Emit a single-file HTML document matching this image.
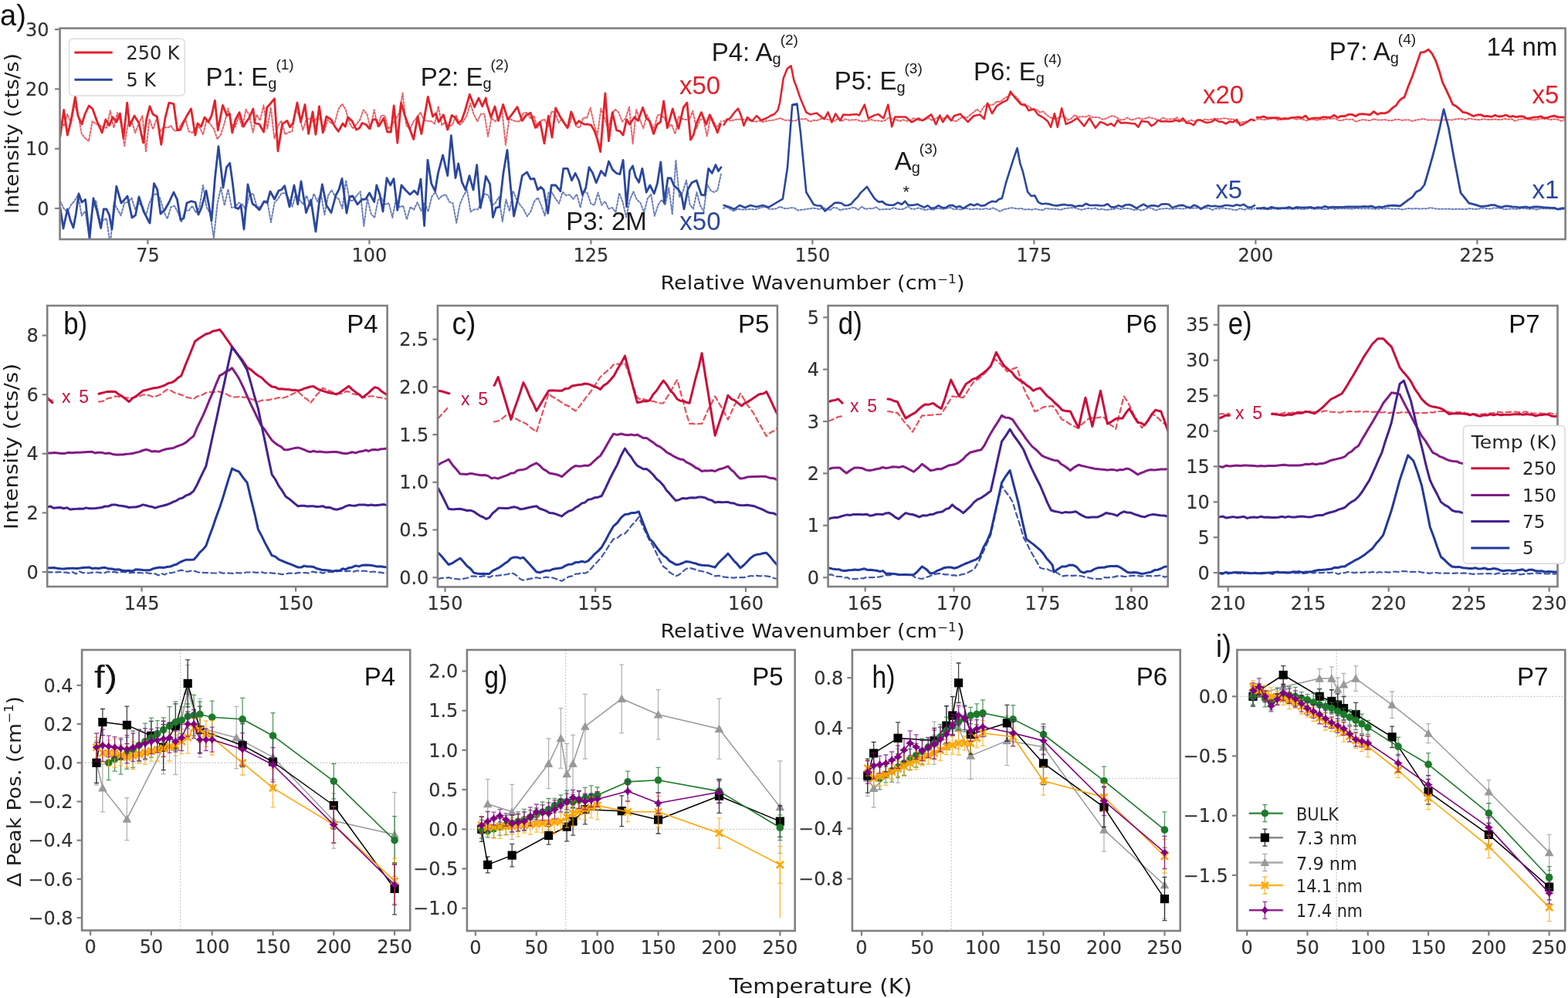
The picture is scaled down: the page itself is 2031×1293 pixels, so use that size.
<!DOCTYPE html>
<html><head><meta charset="utf-8"><title>Raman figure</title>
<style>html,body{margin:0;padding:0;background:#fff;}svg{display:block;}</style>
</head><body>
<svg width="2031" height="1293" viewBox="0 0 2031 1293"><defs><filter id="bl" x="0" y="0" width="2031" height="1293" filterUnits="userSpaceOnUse"><feGaussianBlur stdDeviation="0.75"/></filter></defs><rect width="2031" height="1293" fill="#ffffff"/>
<g filter="url(#bl)">
<defs><clipPath id="ca"><rect x="77.6" y="36.6" width="1950.0" height="273.4"/></clipPath></defs>
<g clip-path="url(#ca)">
<polyline points="78,156.7 82.6,163.4 87.2,148 91.9,159.3 96.5,135.8 101.1,148.2 105.8,173.6 110.4,179.2 115,182.8 119.6,157 124.2,160.4 128.9,162.4 133.5,164.9 138.1,165.7 142.8,143.3 147.4,165.7 152,146.1 156.6,159.3 161.2,189 165.9,158.8 170.5,156.6 175.1,172.2 179.8,160 184.4,150 189,196.1 193.6,154.4 198.2,167.5 202.9,153.5 207.5,170.2 212.1,164.4 216.8,165.7 221.4,162.9 226,169.7 230.6,168.7 235.2,160.2 239.9,153.2 244.5,170.2 249.1,172.1 253.8,165.4 258.4,164.7 263,174.3 267.6,155.3 272.2,160.5 276.9,166.9 281.5,180.1 286.1,174.1 290.8,159.2 295.4,140.5 300,161 304.6,164.3 309.2,151.1 313.8,165 318.5,141.7 323.1,149.6 327.7,171.7 332.3,148.6 336.9,156.2 341.5,136.3 346.2,166.6 350.8,139.3 355.4,179.8 360,163 364.6,156.6 369.2,174.1 373.8,171.5 378.5,170 383.1,140.8 387.7,150.7 392.3,168.7 396.9,154 401.5,154 406.2,158 410.8,152.6 415.4,154.8 420,169.9 424.6,155.1 429.2,160.1 433.8,158.5 438.5,141.2 443.1,134.6 447.7,142 452.3,158.1 456.9,166.5 461.5,161.5 466.2,155.2 470.8,142.3 475.4,148.1 480,167.2 484.6,142.3 489.2,164 493.8,149.8 498.5,149.8 503.1,167.2 507.7,162.1 512.3,154.7 516.9,147 521.5,120.6 526.2,162 530.8,167.7 535.4,157.9 540,152.2 544.6,145.6 549.2,155.5 553.8,156.8 558.5,157 563.1,160.6 567.7,137.6 572.3,162 576.9,158.3 581.5,164.2 586.2,161.6 590.8,149 595.4,162 600,157.4 604.6,149.7 609.2,133.7 613.7,148.2 618.3,157.3 622.9,147.7 627.5,147.7 632,176.8 636.6,152.8 641.2,157.1 645.8,153.4 650.3,142.6 654.9,188 659.5,153.4 664.1,155.9 668.6,157.2 673.2,157.6 677.8,146.5 682.4,145.9 686.9,153.1 691.5,150 696.1,165.7 700.7,156.3 705.2,154.5 709.8,163.9 714.4,144.3 719,145.8 723.5,158.9 728.1,153.6 732.7,162.6 737.3,163 741.8,147.5 746.4,164 751,165.3 755.6,152.5 760.1,153 764.7,139.6 769.3,160.4 773.9,174.8 778.4,140.6 783,152.4 787.6,167.4 792.2,149.6 796.7,141.6 801.3,145.7 805.9,157.4 810.5,153.2 815,138.5 819.6,186.3 824.2,142 828.8,154.9 833.3,166.3 837.9,148.7 842.5,158.4 847.1,167.3 851.6,149.5 856.2,148.1 860.8,153.2 865.4,164.8 869.9,161.2 874.5,173.6 879.1,151.3 883.7,154 888.2,155 892.8,155.4 897.4,143.7 902,166.3 906.5,155.6 911.1,153.8 915.7,176.5 920.3,151.5 924.8,163.6 929.4,163.8 934,157" fill="none" stroke="#e3202a" stroke-width="2.0" stroke-linejoin="round" stroke-linecap="round" stroke-dasharray="2.2 2.2" opacity="0.7"/>
<polyline points="937,157.2 941.7,154 946.3,156.6 951,155.5 955.6,154.4 960.3,155 964.9,155.1 969.6,155.8 974.3,156.7 978.9,157.8 983.6,156.4 988.2,158 992.9,156.8 997.5,156.1 1002.2,155.5 1006.9,154.2 1011.5,153.1 1016.2,155.8 1020.8,155.6 1025.5,156.5 1030.1,156.5 1034.8,153.7 1039.5,154.6 1044.1,153.9 1048.8,157.7 1053.4,155.7 1058.1,156.1 1062.7,154.3 1067.4,153.6 1072.1,154.8 1076.7,155.7 1081.4,156.7 1086,153.2 1090.7,156.5 1095.3,154.3 1100,155.7 1104.6,155.3 1109.3,155 1113.9,156.6 1118.6,157.3 1123.2,156.3 1127.9,154.7 1132.5,156.4 1137.1,156.3 1141.8,157.1 1146.4,156 1151.1,152.6 1155.7,154.1 1160.4,154.7 1165,157 1169.6,155.1 1174.3,156.9 1178.9,155.8 1183.6,153.1 1188.2,155.3 1192.9,156.1 1197.5,155.8 1202.1,152.5 1206.8,155.8 1211.4,154 1216.1,151.2 1220.7,153.9 1225.4,151.4 1230,154.3 1234.4,156.3 1238.9,157 1243.3,153.4 1247.8,151.2 1252.2,152.7 1256.7,148.8 1261.1,145.4 1265.6,141.6 1270,145.4 1274.3,138.4 1278.6,134.9 1282.9,136.4 1287.1,135.3 1291.4,131.2 1295.7,132.2 1300,127.9 1305,125.2 1310,122.2 1315,124.6 1320,129.8 1325,137.3 1330,136.5 1334.3,139.3 1338.6,142.1 1342.9,142.3 1347.1,145.4 1351.4,144.5 1355.7,149 1360,152 1364.6,154 1369.1,153.7 1373.7,151.1 1378.3,150.2 1382.8,155.5 1387.4,153.9 1392,149 1396.6,151.8 1401.1,150.9 1405.7,151.5 1410.3,149.6 1414.8,152 1419.4,151.9 1424,152.4 1428.5,154.8 1433.1,153.4 1437.7,150.9 1442.2,150 1446.8,152.3 1451.4,155.4 1455.9,155 1460.5,152.4 1465.1,155.6 1469.7,154.4 1474.2,152.6 1478.8,154.5 1483.4,153.6 1487.9,151.9 1492.5,153.1 1497.1,154.3 1501.6,156.4 1506.2,152.3 1510.8,154.6 1515.3,154.3 1519.9,154.3 1524.5,152.2 1529.1,156.8 1533.6,156.9 1538.2,157.5 1542.8,155.5 1547.3,157.4 1551.9,155.8 1556.5,156.7 1561,154.4 1565.6,155.5 1570.2,154.5 1574.7,153.3 1579.3,154.5 1583.9,153.3 1588.4,153.4 1593,154.8 1597.6,154.4 1602.2,159.3 1606.7,158.9 1611.3,157.7 1615.9,157.2 1620.4,154.3 1625,156" fill="none" stroke="#e3202a" stroke-width="2.0" stroke-linejoin="round" stroke-linecap="round" stroke-dasharray="2.2 2.2" opacity="0.7"/>
<polyline points="1628,154.6 1632.6,154.4 1637.2,155.3 1641.8,154.3 1646.3,153.8 1650.9,153.3 1655.5,155.5 1660.1,154.7 1664.7,154.2 1669.3,153.9 1673.9,152.4 1678.4,154.9 1683,153.9 1687.6,154.8 1692.2,156.3 1696.8,154.5 1701.4,154.7 1706,155.8 1710.6,154.7 1715.1,155 1719.7,153.7 1724.3,154 1728.9,153.3 1733.5,155.9 1738.1,156.1 1742.7,154.4 1747.2,154.8 1751.8,154.5 1756.4,157.6 1761,156 1765.6,154.9 1770.2,155.7 1774.8,156.3 1779.3,154 1783.9,155.6 1788.5,155.6 1793.1,155 1797.7,155.8 1802.3,156.2 1806.9,155 1811.4,154.7 1816,155.9 1820.6,155.2 1825.2,155.4 1829.8,157 1834.4,155.4 1839,155 1843.6,153.7 1848.1,155.4 1852.7,155.4 1857.3,155.6 1861.9,155.6 1866.5,155.8 1871.1,155.3 1875.7,155.2 1880.2,155.6 1884.8,154.4 1889.4,154.1 1894,154.1 1898.6,155.2 1903.2,153.3 1907.8,154.6 1912.3,154.9 1916.9,155.4 1921.5,154 1926.1,155.1 1930.7,155.1 1935.3,154.5 1939.9,155.1 1944.4,154.9 1949,154 1953.6,154.7 1958.2,154.2 1962.8,156.9 1967.4,154.8 1972,154.4 1976.6,153.6 1981.1,155 1985.7,155.4 1990.3,155.1 1994.9,153.7 1999.5,154 2004.1,154 2008.7,155.2 2013.2,154.2 2017.8,155 2022.4,156.8 2027,155" fill="none" stroke="#e3202a" stroke-width="2.0" stroke-linejoin="round" stroke-linecap="round" stroke-dasharray="2.2 2.2" opacity="0.7"/>
<polyline points="78,260.7 82.6,270.1 87.2,274.7 91.9,265.7 96.5,260.1 101.1,252.4 105.8,279.5 110.4,273.5 115,302.9 119.6,271.7 124.2,259.7 128.9,284.1 133.5,285.6 138.1,283.2 142.8,318.1 147.4,263 152,270.7 156.6,279.3 161.2,262.7 165.9,261.9 170.5,256.6 175.1,271.1 179.8,263.1 184.4,266.7 189,279.6 193.6,262.8 198.2,252.9 202.9,251.1 207.5,257.2 212.1,274.1 216.8,283.3 221.4,268.3 226,266.8 230.6,275.4 235.2,287.2 239.9,272.6 244.5,272.8 249.1,266.8 253.8,275.5 258.4,268.6 263,240 267.6,268.8 272.2,276.2 276.9,308.4 281.5,264.6 286.1,243 290.8,266.2 295.4,245 300,269 304.6,268.4 309.3,262.7 313.9,264.8 318.5,271.8 323.1,252.3 327.8,250.8 332.4,266.6 337,269.2 341.7,260.8 346.3,260.2 350.9,288 355.6,262.4 360.2,257.6 364.8,250.4 369.4,250.1 374.1,257.6 378.7,267.6 383.3,251 388,258.8 392.6,264.6 397.2,253.5 401.9,267 406.5,250.9 411.1,261.1 415.7,250.8 420.4,278.3 425,253.3 429.6,246.2 434.3,254.9 438.9,258.1 443.5,270.2 448.1,233.6 452.8,259.6 457.4,260.1 462,253.5 466.7,248.1 471.3,292.9 475.9,257 480.6,277.1 485.2,282 489.8,258.9 494.4,256.8 499.1,264.8 503.7,263.2 508.3,282 513,257.3 517.6,268.6 522.2,266.5 526.9,284.3 531.5,268.1 536.1,271.7 540.7,262.1 545.4,273.2 550,262.5 554.6,274.2 559.2,255.1 563.8,248.8 568.3,257.9 572.9,253.3 577.5,252.2 582.1,261.6 586.7,263.5 591.2,288.8 595.8,264.2 600.4,253.6 605,245.8 609.6,274.3 614.2,271.3 618.8,271.3 623.3,263.3 627.9,251 632.5,252.9 637.1,266.3 641.7,263 646.2,255.1 650.8,287.1 655.4,258.5 660,273.7 664.6,247.4 669.2,258.7 673.8,265.6 678.3,271.4 682.9,280.4 687.5,273.8 692.1,260.8 696.7,256.1 701.2,266.4 705.8,279.6 710.4,249.6 715,249.4 719.6,257.5 724.2,263.6 728.8,248.6 733.3,253.2 737.9,252.3 742.5,257.9 747.1,251.7 751.7,269 756.2,247.4 760.8,250.3 765.4,263.9 770,265.5 774.6,249.5 779.2,265.7 783.8,260.9 788.3,270.6 792.9,269 797.5,275.1 802.1,250 806.7,262 811.2,281.4 815.8,259.2 820.4,248.2 825,258.9 829.6,262.9 834.2,275.5 838.8,257.1 843.3,251.7 847.9,280 852.5,265.5 857.1,258.8 861.7,265.9 866.2,243.2 870.8,277.7 875.4,207.5 880,255.4 884.5,248.5 889,233.6 893.5,264.7 898,270.6 902.5,249.1 907,266.3 911.5,274 916,238.7 920.5,246.8 925,249 929.5,246.2 934,225" fill="none" stroke="#2b469e" stroke-width="2.0" stroke-linejoin="round" stroke-linecap="round" stroke-dasharray="2.2 2.2" opacity="0.7"/>
<polyline points="937,269.9 941.6,268.2 946.2,271.5 950.8,273.3 955.4,270.6 960,271.5 964.6,271.5 969.2,271 973.8,271 978.4,271.4 982.9,269.9 987.5,268.5 992.1,268.3 996.7,270.9 1001.3,270.7 1005.9,270.2 1010.5,267.7 1015.1,269.9 1019.7,270.2 1024.3,269.2 1028.9,269.4 1033.5,272.6 1038.1,271.7 1042.7,271.2 1047.3,270.6 1051.9,269.8 1056.5,269.9 1061.1,271.1 1065.7,269.4 1070.3,270.1 1074.8,272.2 1079.4,269 1084,269.5 1088.6,272.4 1093.2,270.8 1097.8,270.6 1102.4,269.5 1107,268.9 1111.6,271.8 1116.2,267.7 1120.8,271 1125.4,269.9 1130,270.4 1134.6,268.3 1139.2,271.5 1143.8,271.2 1148.4,270.9 1153,271.1 1157.6,269.1 1162.2,270.8 1166.7,271.2 1171.3,270.6 1175.9,267.2 1180.5,270.6 1185.1,270.8 1189.7,269.5 1194.3,270.8 1198.9,272.1 1203.5,270.6 1208.1,272.2 1212.7,270.2 1217.3,270 1221.9,271.1 1226.5,269.8 1231.1,269 1235.7,271.2 1240.3,270.8 1244.9,271.5 1249.5,269.9 1254.1,270.4 1258.6,271.4 1263.2,270.4 1267.8,270.7 1272.4,271.2 1277,270.1 1281.6,271.2 1286.2,269.4 1290.8,271.5 1295.4,273.9 1300,271.2 1304.6,270.5 1309.2,269.2 1313.7,269.7 1318.3,270.6 1322.9,270.1 1327.5,271.5 1332,271.1 1336.6,271.7 1341.2,270.6 1345.8,271.7 1350.4,272.3 1354.9,269.8 1359.5,270.7 1364.1,270.7 1368.7,270.7 1373.2,272 1377.8,270.4 1382.4,269.8 1387,269.3 1391.5,269.1 1396.1,270.6 1400.7,271.7 1405.3,270.7 1409.9,269.8 1414.4,270.5 1419,269.6 1423.6,271.7 1428.2,270.7 1432.7,272.2 1437.3,271.3 1441.9,271.3 1446.5,269.5 1451.1,271.1 1455.6,270.1 1460.2,269.9 1464.8,270.7 1469.4,272.3 1473.9,271 1478.5,272.7 1483.1,271.2 1487.7,269 1492.3,269.9 1496.8,272.5 1501.4,271 1506,270.5 1510.6,269.9 1515.1,270.6 1519.7,270.8 1524.3,269.9 1528.9,270.3 1533.5,270.6 1538,269.2 1542.6,270 1547.2,269.5 1551.8,269.6 1556.3,269.3 1560.9,269.6 1565.5,269.4 1570.1,272.1 1574.6,270 1579.2,270.6 1583.8,269.3 1588.4,270.3 1593,270.6 1597.5,271.9 1602.1,272 1606.7,269.7 1611.3,272 1615.8,270.2 1620.4,271.4 1625,270" fill="none" stroke="#2b469e" stroke-width="2.0" stroke-linejoin="round" stroke-linecap="round" stroke-dasharray="2.2 2.2" opacity="0.7"/>
<polyline points="1628,270.3 1632.6,270.4 1637.2,271.1 1641.8,269.6 1646.3,270.9 1650.9,270.2 1655.5,271 1660.1,270.3 1664.7,270.4 1669.3,270.7 1673.9,270.2 1678.4,270.5 1683,270.4 1687.6,271.2 1692.2,270.6 1696.8,269.7 1701.4,270.7 1706,270.6 1710.6,270.5 1715.1,271.1 1719.7,271 1724.3,269.7 1728.9,271.1 1733.5,270.2 1738.1,270.2 1742.7,270.2 1747.2,270.4 1751.8,270.8 1756.4,269.8 1761,270.3 1765.6,270.1 1770.2,270.3 1774.8,270.2 1779.3,270.7 1783.9,270.8 1788.5,269.9 1793.1,270.5 1797.7,269.6 1802.3,270.5 1806.9,270.7 1811.4,270.3 1816,271.6 1820.6,270.6 1825.2,270 1829.8,270.6 1834.4,270 1839,270.6 1843.6,270.3 1848.1,270.4 1852.7,269.1 1857.3,270 1861.9,270.8 1866.5,270.8 1871.1,270.8 1875.7,270.5 1880.2,270.9 1884.8,270.9 1889.4,270.7 1894,271 1898.6,270.9 1903.2,270.2 1907.8,270.7 1912.3,270.9 1916.9,270.3 1921.5,269.5 1926.1,270.3 1930.7,270.6 1935.3,269.2 1939.9,269.7 1944.4,269.9 1949,271.2 1953.6,270.8 1958.2,270.3 1962.8,270.9 1967.4,270.6 1972,269.7 1976.6,270.2 1981.1,270.9 1985.7,270.3 1990.3,271.6 1994.9,270.2 1999.5,270.2 2004.1,270.3 2008.7,270.5 2013.2,270.4 2017.8,271.1 2022.4,271.5 2027,270.5" fill="none" stroke="#2b469e" stroke-width="2.0" stroke-linejoin="round" stroke-linecap="round" stroke-dasharray="2.2 2.2" opacity="0.7"/>
<polyline points="78,176.5 82.7,142.5 87.4,175 92,156.4 97.4,125.5 101,150 106,161 110,148 115.2,137 119.9,141 126,158 132.2,171.9 136.9,154.9 141.5,162.6 146,151.8 151,158 155.4,147 160,178.8 164.7,133.2 167.8,163.4 174,150 180,159.5 185.6,185 189.8,154.3 194,137.8 198,148 203.4,151 208.8,187.3 213.9,153.4 218.9,133.2 225,134.7 229.7,168.8 233.6,168.2 237.4,159.5 242,150 247.5,141 252.9,175 256,160 260.6,164 265,152 269.9,158 274,150 278.4,130.1 282.3,168.8 288.5,136.3 294,150 297.4,147.2 300.8,171.9 305,155 310,145.6 315.5,164 319,157.8 322.5,153.3 327.9,141 330,159.5 336,161 341.6,171 345.8,139.3 350,134.7 355.5,127.8 360,195.8 365.6,161 371.8,156.4 375.6,164.6 379.5,159.5 385,133 389.6,158 395,135.5 399.6,173.4 405,144.8 408.9,174.2 413.5,137.8 418.2,171.9 422.8,151 429,154.9 433.6,163.8 438.3,170.3 444,160 447.3,164 450.6,151.8 456.1,156.9 461.5,168 465.4,166.1 469.2,159.5 473.9,161.3 478.5,166.5 483,154.9 486.9,154.7 490.9,163.4 497,153.3 501.7,171 506.3,171 510.2,137 514.8,185 519.5,133.2 524,148.7 530,165 535.7,180.4 541,151 545.8,173.4 550,150.3 554.3,125.5 560.5,151 564.4,147 568.2,158 574.4,148.7 579.8,168 585.2,149.4 589.5,152.3 593.7,159.5 598,155.9 602.2,144 608.4,122.4 614.6,138.6 620,127 624.7,137.8 629.3,127 630,133 636,152 641,138 645.5,156.4 651.7,135.5 657.8,154.9 663.9,147.1 670,138.6 676.4,156.4 681.8,148.9 687.2,146.3 693.4,165.3 699.6,158 705,185.8 710.4,150.2 715,178 719.7,140 725.9,151.8 730.5,159.1 735.2,165.7 739.8,144.8 746,161 749.9,156.7 753.7,159.5 757.6,161.2 761.5,161 765.8,162.2 770,169.6 773.9,180.8 777.7,196.6 783.9,120.8 788.5,182.7 793.2,145.6 798.6,168.8 802.9,169.8 807.1,175 811.7,154.9 815.6,161 821.8,151.8 826.4,156.4 832.6,139.4 837.3,153.3 841.1,156.4 846.6,173.4 851.2,161 855.5,158.1 859.7,130.9 864.3,165.7 867.8,153.5 871.3,141 875.1,154.8 879,166.5 885.2,139.4 889.9,133.2 894.5,181.2 898.4,174.4 902.2,159.5 908.4,145.6 914.6,161 919.3,148.7 925.4,161 929.3,171.9 933.2,161" fill="none" stroke="#e3202a" stroke-width="2.8" stroke-linejoin="round" stroke-linecap="round" />
<polyline points="937.6,161.6 942,155 946,153 951,146 956,140.6 960,150 963.4,162.8 968,152 974,157 980,150 986,156 993,153 998,150 1002.8,148 1007.4,143 1010,133.2 1014.8,101.2 1019.7,89 1024.6,85.2 1028.3,103.7 1032,113.5 1037,128.3 1044.3,145.6 1049.8,148.4 1057.7,146.4 1067.6,154.3 1072.5,145.4 1077.4,158.3 1082.3,147.4 1088.3,156.3 1092.2,148.4 1099,148.9 1109,147.9 1112.9,149.4 1119.8,135.6 1124.7,153.3 1132.6,149.4 1137.5,147.9 1144.4,153.3 1150.3,135.6 1155.2,164.2 1159.2,151.4 1165,151.4 1173,151.4 1180.8,158.3 1189.7,153.3 1194.6,156.3 1206.4,148.4 1212.3,161.2 1217.3,149.4 1221.2,158.3 1227.1,149.4 1232,156.3 1236,150 1243.8,147.6 1253.6,158 1261.5,150 1269.4,148.6 1274.8,154 1279.2,133.8 1285,147 1291,137.3 1298,133 1304.8,129.4 1308.8,118.6 1315,127 1322.6,135.3 1327.5,135.3 1332.4,143.2 1339.3,141.2 1344.2,148.1 1352,153 1357,157 1361,164.8 1365.9,147.1 1369.8,164.8 1375.2,140.2 1380.7,160.9 1387.6,158 1395.4,153 1404.3,163.4 1411.2,153 1419,165.8 1425,158 1430,159.6 1434.4,162.3 1438.9,160.1 1443.3,163.5 1447.8,155.6 1452.2,159.5 1456.7,158.9 1461.1,159.3 1465.6,160 1470,160.2 1474.3,164.7 1478.6,156.7 1482.9,157.4 1487.1,158.1 1491.4,163.1 1495.7,160.7 1500,155.7 1504.6,157.6 1509.2,157.1 1513.8,157.5 1518.5,157.3 1523.1,155.5 1527.7,157.4 1532.3,153.3 1536.9,159.4 1541.5,159.5 1546.2,162.1 1550.8,155.5 1555.4,155.6 1560,158.2 1564.6,158.9 1569.3,157.9 1573.9,154.8 1578.6,157.5 1583.2,157.9 1587.9,160.4 1592.5,157.6 1597.1,158.2 1601.8,154.9 1606.4,162.4 1611.1,160.5 1615.7,158 1620.4,154.7 1625,156" fill="none" stroke="#e3202a" stroke-width="2.5" stroke-linejoin="round" stroke-linecap="round" />
<polyline points="1628,152.1 1632.5,152.1 1637,150.9 1641.5,153.1 1646,152.6 1650.5,152.7 1655,152.6 1659.5,154.1 1664,153.5 1668.5,153.9 1673,152.3 1677.5,152.2 1682,151.7 1686.5,152.6 1691,150 1695.5,154.7 1700,153.1 1704.7,152.8 1709.3,153.2 1714,151.6 1718.7,151.9 1723.3,152.1 1728,149.2 1732.7,152.4 1737.3,150.3 1742,150.5 1746.7,148.3 1751.3,148.4 1756,150.5 1760.7,147.8 1765.3,147.6 1770,148.2 1774.7,148.8 1779.3,144.4 1784,148.2 1788.7,146.5 1793.3,146.8 1798,145.2 1804.6,139.1 1808.3,136.7 1812,131 1815.5,127.8 1819,125.9 1824.2,111.7 1829.4,98.7 1834.7,83.6 1840,68.2 1845.2,67.3 1850.3,64.1 1854.9,69.4 1859.5,78.3 1864,91.2 1868.6,106.8 1873,115.8 1877.3,125.2 1881.7,135.2 1886.1,137.6 1890.4,141.1 1894.8,145.4 1899.3,146.1 1903.9,148.2 1908.5,150.5 1913,149 1917.7,148.6 1922.4,150.6 1927.1,150.5 1931.8,151.3 1936.5,149.4 1941.2,151 1945.9,150.5 1950.6,149 1955.3,151.3 1960,150.5 1964.5,151.7 1968.9,150.7 1973.4,151 1977.9,153.6 1982.3,153 1986.8,151.9 1991.3,151.9 1995.7,150.7 2000.2,153 2004.7,152.4 2009.1,150.8 2013.6,150 2018.1,151.9 2022.5,151.8 2027,152" fill="none" stroke="#e3202a" stroke-width="2.8" stroke-linejoin="round" stroke-linecap="round" />
<polyline points="78,269 82,296 87.4,271 91,285 95,295 98.5,276.5 102,251 106,262 110.6,258.5 116,309 121,257 126,275 130.7,295.6 134.3,270.8 138,271 141.5,278.6 145,297 150.8,241.5 157,263 161,259 165,254 171,282 175.5,278.8 180,255 186,274 190,281.5 194,289 199.5,237.6 203.8,245.7 208,277 213.5,271.7 219,262 225,249 229.5,258.6 234,285 238,282.6 242,263 247.5,260.7 253,262 257,278 261,269 267,247 270.5,265.6 274,286 278.5,230.7 283,189.7 289,243 293.4,216.9 297.7,211.3 301.4,237.6 305,269 308.5,270.6 312,266 316,297 321,239 327,264 330,266 336,272 342,261 346,262.8 350,248 355.5,258 361,247 364.9,245.7 368.7,240.7 375,268 381,240 385.7,264.7 390,235 396.5,275.5 402.7,259 409,300 413.2,264.3 417.4,239 422.8,266 429,275.5 435,253 439,245.7 443,231.4 449,276 452.9,254.9 456.8,253.9 463,264.7 469,258.5 473.8,257.8 478.5,250 484.7,261.6 487.8,240 491.9,251.7 496,274 501,230.6 505.6,240 510,231.4 514.8,272.4 520,240 525,246 531,252 536.5,247 541,252 545,232 549.6,292.5 554,207.4 558.8,238 563.6,247.7 567.4,224.5 573.6,201 579.8,227.6 584.4,175.7 590,230.6 593.7,212 598.4,235.9 603,246 608,227.6 613,246 617.7,213.6 622.3,269.3 625.8,251.4 629.3,228.3 634.6,238.4 638.5,281.7 642.4,269.3 647,267.8 652,223.9 657,194.3 661.3,241 665.6,280 671,256.4 676.4,227.6 682.6,223 687.2,232 691.9,231.4 696.5,246 700.4,242.2 704.2,246 709.7,276.3 714.3,240 719.7,240 725.9,247.7 729.8,218.3 735.2,218.3 740.6,233.7 745.2,224.5 749.9,234 754.5,252.3 758.8,243.4 763,216.7 767.6,223.9 772.3,236.8 778.5,221.4 783.9,227.6 788.5,209 793.5,219.9 798.6,224.5 802.9,225.7 807.1,207.4 811.7,267.8 815.6,221.4 819.5,214.9 823.3,229.1 827.6,236.2 831.9,218.3 837.3,249.2 841.9,240 847.3,250.8 851.5,237.4 855.8,209.8 860.5,262.4 865.1,230.6 869,230.8 872.8,240 879,246 882.5,251.8 886,270.9 891,245.3 896,236.8 902.2,233.7 908.4,252.3 913,253 917.7,218.3 922.3,224.5 927,213.6 930.5,221.7 934,216.7" fill="none" stroke="#2b469e" stroke-width="2.8" stroke-linejoin="round" stroke-linecap="round" />
<polyline points="937.6,266 944,268 951,271 958,266 965,269 972,266 980,268 988,266 995.4,268.6 1005,263 1013.9,257.6 1020,217 1026.2,135.7 1032.4,134.5 1037,172.6 1044.3,249 1054,265 1058,266.3 1063.3,266.6 1068.6,273.5 1073.9,268.9 1077.6,265.9 1081.2,262.7 1085.5,262.6 1089.8,263.2 1094.2,266.2 1098.5,266 1102.6,264.3 1106.7,259.2 1110.8,255.4 1114.9,249.6 1118.9,245.9 1123,241.8 1128,250.1 1133,257.5 1137.9,261.6 1142.8,261.1 1147.7,264.9 1152.8,265.7 1157.8,265.7 1162.9,262.5 1168,264.8 1172.3,260.7 1176.2,265.5 1180,265.9 1184.2,265.6 1188.5,264.6 1192.8,266.8 1197,268.6 1201.6,266.3 1206.2,269.8 1210.8,269.4 1215.5,266.4 1220.1,268.9 1224.7,269.3 1229.3,266.4 1233.9,265.9 1238.5,268.6 1243.1,267.2 1247.7,270.1 1252.3,267.2 1257,264.5 1261.6,266.3 1266.2,264.3 1270.8,266.6 1275.6,266.1 1280.4,262.9 1285.2,260.8 1290,261.5 1294,258 1297.9,256.9 1302.8,237.5 1307.7,221.8 1312.7,206.2 1317.6,191.8 1321.3,211.7 1325,222.7 1331.1,248.7 1335.7,254 1340.3,253.3 1345,262.1 1349.6,264.2 1354.5,263.8 1359.4,264.4 1364.4,266 1369.3,266.4 1374,265.6 1378.6,264.9 1383.3,265.9 1388,265.7 1392.6,267.7 1397.3,266.6 1402,266.9 1406.6,263.8 1411.3,266 1416,266 1420.6,265.8 1425.3,266.5 1430,266.3 1434.7,264.3 1439.3,268.4 1444,268.4 1448.7,266.1 1453.3,268 1458,265.5 1462.7,265 1467.3,266.8 1472,269.8 1476.7,267 1481.3,264.7 1486,267.7 1490.7,266.4 1495.3,266.2 1500,267.6 1504.6,264.5 1509.3,264.3 1513.9,264.8 1518.5,269.1 1523.1,267.4 1527.8,266.1 1532.4,265.9 1537,268.1 1541.7,269.1 1546.3,265.7 1550.9,267.3 1555.6,270.8 1560.2,267.8 1564.8,266.2 1569.4,267.3 1574.1,266.8 1578.7,267.7 1583.3,267.1 1588,265.7 1592.6,266.2 1597.2,267 1601.9,265.2 1606.5,266.4 1611.1,264.7 1615.7,268.3 1620.4,268.8 1625,266" fill="none" stroke="#2b469e" stroke-width="2.6" stroke-linejoin="round" stroke-linecap="round" />
<polyline points="1628,269.8 1632.6,269.9 1637.3,269.1 1641.9,270.9 1646.6,268.3 1651.2,269.4 1655.9,270 1660.5,269.7 1665.1,269.6 1669.8,268.4 1674.4,270.4 1679.1,268.5 1683.7,268.9 1688.4,268.8 1693,268.8 1697.6,268.3 1702.3,269.8 1706.9,268.6 1711.6,269.2 1716.2,267.3 1720.8,268.8 1725.5,268.1 1730.1,268.5 1734.8,268.3 1739.4,268.4 1744.1,268 1748.7,268 1753.3,268 1758,268 1762.6,267.8 1767.3,267.4 1771.9,267.9 1776.6,267 1781.2,269 1785.8,268 1790.5,268.5 1795.1,267.2 1799.8,266.3 1804.4,266.1 1809.1,266.5 1813.7,266.9 1818.9,262.8 1824.2,258.9 1829.4,255.4 1834.6,248.4 1839.8,246 1845,239.5 1850.3,221.4 1855.6,202.6 1860.2,184.9 1864.7,166.1 1870,141.7 1876.5,166.5 1883,203 1887.5,226.4 1892,249.9 1897.3,256.3 1902.6,263.2 1907.7,264.4 1912.9,265.8 1918,267.5 1922.5,267.2 1927.1,266.6 1931.6,265.7 1936.2,265.7 1940.7,267.7 1945.2,268.3 1949.8,267 1954.3,267.1 1958.9,267.9 1963.4,268.2 1968,268.9 1972.5,268.3 1977,268 1981.6,269.1 1986.1,268 1990.7,267.8 1995.2,268.1 1999.8,268.8 2004.3,268.8 2008.8,269.3 2013.4,269.4 2017.9,271.2 2022.5,269.9 2027,269.7" fill="none" stroke="#2b469e" stroke-width="2.8" stroke-linejoin="round" stroke-linecap="round" />
</g>
<rect x="77.6" y="36.6" width="1950" height="273.4" fill="none" stroke="#808080" stroke-width="2.6"/>
<line x1="191.4" y1="310" x2="191.4" y2="316.5" stroke="#808080" stroke-width="2.2"/>
<text x="191.4" y="339" font-size="24" font-family="'DejaVu Sans', 'Liberation Sans', sans-serif" text-anchor="middle" fill="#303030" stroke="#303030" stroke-width="0.15">75</text>
<line x1="478.4" y1="310" x2="478.4" y2="316.5" stroke="#808080" stroke-width="2.2"/>
<text x="478.4" y="339" font-size="24" font-family="'DejaVu Sans', 'Liberation Sans', sans-serif" text-anchor="middle" fill="#303030" stroke="#303030" stroke-width="0.15">100</text>
<line x1="765.4" y1="310" x2="765.4" y2="316.5" stroke="#808080" stroke-width="2.2"/>
<text x="765.4" y="339" font-size="24" font-family="'DejaVu Sans', 'Liberation Sans', sans-serif" text-anchor="middle" fill="#303030" stroke="#303030" stroke-width="0.15">125</text>
<line x1="1052.4" y1="310" x2="1052.4" y2="316.5" stroke="#808080" stroke-width="2.2"/>
<text x="1052.4" y="339" font-size="24" font-family="'DejaVu Sans', 'Liberation Sans', sans-serif" text-anchor="middle" fill="#303030" stroke="#303030" stroke-width="0.15">150</text>
<line x1="1339.4" y1="310" x2="1339.4" y2="316.5" stroke="#808080" stroke-width="2.2"/>
<text x="1339.4" y="339" font-size="24" font-family="'DejaVu Sans', 'Liberation Sans', sans-serif" text-anchor="middle" fill="#303030" stroke="#303030" stroke-width="0.15">175</text>
<line x1="1626.4" y1="310" x2="1626.4" y2="316.5" stroke="#808080" stroke-width="2.2"/>
<text x="1626.4" y="339" font-size="24" font-family="'DejaVu Sans', 'Liberation Sans', sans-serif" text-anchor="middle" fill="#303030" stroke="#303030" stroke-width="0.15">200</text>
<line x1="1913.4" y1="310" x2="1913.4" y2="316.5" stroke="#808080" stroke-width="2.2"/>
<text x="1913.4" y="339" font-size="24" font-family="'DejaVu Sans', 'Liberation Sans', sans-serif" text-anchor="middle" fill="#303030" stroke="#303030" stroke-width="0.15">225</text>
<line x1="71.1" y1="270" x2="77.6" y2="270" stroke="#808080" stroke-width="2.2"/>
<text x="63.6" y="278.6" font-size="24" font-family="'DejaVu Sans', 'Liberation Sans', sans-serif" text-anchor="end" fill="#303030" stroke="#303030" stroke-width="0.15">0</text>
<line x1="71.1" y1="192.7" x2="77.6" y2="192.7" stroke="#808080" stroke-width="2.2"/>
<text x="63.6" y="201.3" font-size="24" font-family="'DejaVu Sans', 'Liberation Sans', sans-serif" text-anchor="end" fill="#303030" stroke="#303030" stroke-width="0.15">10</text>
<line x1="71.1" y1="115.4" x2="77.6" y2="115.4" stroke="#808080" stroke-width="2.2"/>
<text x="63.6" y="124" font-size="24" font-family="'DejaVu Sans', 'Liberation Sans', sans-serif" text-anchor="end" fill="#303030" stroke="#303030" stroke-width="0.15">20</text>
<line x1="71.1" y1="38.1" x2="77.6" y2="38.1" stroke="#808080" stroke-width="2.2"/>
<text x="63.6" y="46.7" font-size="24" font-family="'DejaVu Sans', 'Liberation Sans', sans-serif" text-anchor="end" fill="#303030" stroke="#303030" stroke-width="0.15">30</text>
<rect x="89.6" y="50.2" width="149.6" height="73.8" rx="5" fill="#ffffff" stroke="#dcdcdc" stroke-width="1.5"/>
<line x1="96.5" y1="67.9" x2="145.7" y2="67.9" stroke="#e3202a" stroke-width="3"/>
<line x1="96.5" y1="103.3" x2="145.7" y2="103.3" stroke="#2b469e" stroke-width="3"/>
<text x="163.4" y="76.8" font-size="24" font-family="'DejaVu Sans', 'Liberation Sans', sans-serif" text-anchor="start" fill="#262626" >250 K</text>
<text x="163.4" y="112.2" font-size="24" font-family="'DejaVu Sans', 'Liberation Sans', sans-serif" text-anchor="start" fill="#262626" >5 K</text>
<text x="855.5" y="374.5" font-size="24" font-family="'DejaVu Sans', 'Liberation Sans', sans-serif" text-anchor="start" fill="#1a1a1a" textLength="394" lengthAdjust="spacingAndGlyphs">Relative Wavenumber (cm<tspan font-size="15" dy="-8">−1</tspan><tspan dy="8">)</tspan></text>
<text transform="translate(24,277) rotate(-90)" font-size="24" font-family="'DejaVu Sans', 'Liberation Sans', sans-serif" fill="#1a1a1a" textLength="208" lengthAdjust="spacingAndGlyphs">Intensity (cts/s)</text>
<defs><clipPath id="cb"><rect x="61.2" y="396" width="440.4" height="364"/></clipPath></defs>
<g clip-path="url(#cb)">
<polyline points="61.2,518.7 65.8,518.7 68,518.5" fill="none" stroke="#e8303f" stroke-width="2.2" stroke-linejoin="round" stroke-linecap="round" stroke-dasharray="6.5 4.5" opacity="0.85"/>
<polyline points="128,520.4 129.8,520.5 134.7,519.3 139.6,516.1 144.5,515.3 149.4,513.4 153.9,514 158.3,515 162.8,515.1 167.2,515.9 171.6,515.4 176.1,514.3 180.5,513.5 185,511.6 189.7,511.3 194.5,512.8 199.2,514.5 203.7,512.8 208.1,511 212.6,507.3 217,504.5 221.5,506.1 225.9,508.8 230.3,510 234.8,511.6 238.8,513.1 242.8,515.1 246.8,515.7 250.8,517 254.8,513.9 258.8,512.5 262.8,511.2 266.8,508.8 271.3,507.9 275.7,508.3 280.1,507.4 284.6,507.4 289,509.5 293.5,510.6 297.9,513.2 302.4,514.5 306.8,514.3 311.3,513.8 315.7,514.8 320.2,514.5 324.9,516.7 329.7,518.6 334.4,520.5 338.8,518.7 343.3,518.5 347.7,518.4 352.2,517 356.6,516.5 361.1,515 365.5,515.9 370,514.5 374,513 378,510.9 382,508.9 386,507.4 390,511 394,515.1 398,517.2 402,522.3 406,517.2 410,511.8 414,507.9 418,502.7 422.4,504.6 426.9,506.3 431.3,508.3 435.8,509.8 439.8,510.2 443.8,509.7 447.8,507.2 451.8,507.4 456.2,510.2 460.7,511 465.1,511.7 469.6,514.5 473.6,515 477.6,513.5 481.6,513.3 485.6,513.4 489.6,514.8 493.6,515.1 497.6,516.2 501.6,517" fill="none" stroke="#e8303f" stroke-width="2.2" stroke-linejoin="round" stroke-linecap="round" stroke-dasharray="6.5 4.5" opacity="0.85"/>
<polyline points="61.2,741.1 65.3,741.3 69.5,741.3 73.6,741.3 77.7,741.1 81.9,741.7 86,741.7 90.2,742.4 94.3,741.2 98.4,743.5 102.6,740.1 106.7,742.1 110.8,742.1 114.9,742.5 119,741.8 123.1,741.4 127.2,741.7 131.4,742.1 135.5,742.3 139.6,740.5 143.7,741.5 147.8,740.9 151.9,741.9 156,740.8 160.1,741.1 164.2,741.4 168.3,742.3 172.4,741.7 176.5,742.3 180.6,741.9 184.7,742.5 188.8,741.7 192.9,742.7 197,743.2 201.1,743.3 205.2,745.4 209.3,742.9 213.4,744.6 217.7,742 222,742.3 226.3,741.3 230.5,739.8 234.8,738.6 238.8,739.7 242.8,740.7 246.8,739.6 250.8,739.5 254.8,740.7 258.8,741.9 262.8,741.9 266.8,742.1 271.3,742.1 275.7,742.5 280.1,742.5 284.6,741.4 289,742.8 293.5,742.1 297.9,742.6 302.4,742.9 306.5,742.2 310.7,742.3 314.8,742.5 319,741.5 323.1,741.4 327.3,741.1 331.4,741.9 335.4,741.8 339.5,741.4 343.5,742.5 347.6,742 351.7,742.4 355.7,742.9 360.5,743.2 365.2,744.2 370,743.6 374.2,742.7 378.5,742.7 382.8,742.8 387.1,741.9 391.3,742.1 395.8,742 400.2,742.6 404.7,740.6 409.1,741.6 413.6,741 418,742.6 422.4,741.5 426.9,741.1 431.3,741.2 435.8,740.5 440.2,739.7 444.7,740.2 449.1,740.1 453.6,739.7 458,740.6 462.5,739.3 466.8,740.1 471.2,739.5 475.5,740.2 479.9,741 484.2,740.5 488.6,741.5 492.9,741.6 497.3,742.5 501.6,742.9" fill="none" stroke="#20399a" stroke-width="2.2" stroke-linejoin="round" stroke-linecap="round" stroke-dasharray="6.5 4.5" opacity="0.85"/>
<polyline points="61.2,515.2 67.6,521.6 68,521.4" fill="none" stroke="#c8103c" stroke-width="3" stroke-linejoin="round" stroke-linecap="round" />
<polyline points="128,510.3 129.8,509.8 134.3,508.6 138.7,507.4 144.1,507.2 149.4,507.4 153.9,511.2 158.3,513.4 162.8,517.1 167.2,520.5 171.6,516 176.1,513.4 180.5,510 185,506.3 189.7,505.2 194.5,503.9 199.2,502.7 204,502.3 208.7,500.9 213.4,499.2 217.9,496.5 222.3,495.6 226.5,493.4 230.6,489.4 234.8,486.7 240.1,473.1 245.5,460 252.6,442.3 257.3,438.7 262.1,435.7 266.8,432.7 271.3,431.6 275.7,429 280.1,428.2 284.6,427 288.6,432 292.6,437.9 296.6,443.4 300.6,449.4 304.8,454.9 308.9,460.4 313.1,465.4 320.2,476.1 324.9,478.9 329.7,483.2 334.4,486.7 338.8,489.2 343.3,493.8 347.7,497.7 352.2,501 356.6,501.6 361.1,504 365.5,503.8 370,504.5 374,504.4 378,505.5 382,505.3 386,506.3 390,505.1 394,503.4 398,502.2 402,501 406,500.6 410,503 414,505.3 418,506.3 422.4,507.8 426.9,509 431.3,509.8 435.8,510.9 439.8,508.7 443.8,506 447.8,503.1 451.8,500.2 456.2,504.6 460.7,508.2 465.1,511.1 469.6,515.2 473.6,512 477.6,508.9 481.6,504.9 485.6,501.7 489.6,502.9 493.6,506.4 497.6,509.2 501.6,511.6" fill="none" stroke="#c8103c" stroke-width="3" stroke-linejoin="round" stroke-linecap="round" />
<polyline points="61.2,587 65.8,586.9 70.4,586.4 75.1,586.9 79.7,587.4 84.3,587.4 88.9,586.3 93.2,586.7 97.5,586.3 101.7,586.2 106,586 110.3,585.7 114.5,585.4 118.8,585.2 123.1,586.9 127.4,586.3 131.6,586.3 136.5,587.6 141.4,586.9 146.3,588.6 151.2,589.2 155.2,588.9 159.2,589 163.2,588.2 167.2,588.1 171.6,587.5 176.1,586.4 180.5,585.4 185,583.5 189,582.5 193,583.3 197,585.1 201,584.6 205.9,585.2 210.8,583.1 215.7,581.7 220.6,581 224.6,580.4 228.6,578.5 232.6,577.1 236.6,575.7 241.3,572.9 246.1,568.6 250.8,565 254.8,555.1 258.8,546.8 262.8,538.7 266.8,529.4 271.3,518.2 275.7,508.3 280.1,497.1 284.6,486.7 288.6,484.6 292.6,481.4 296.6,479.8 300.6,476.8 305.1,483.3 309.5,490.3 314.8,501.2 320.2,513.4 324.6,523.1 329.1,532.3 333.5,541.5 338,550.8 342.7,556.4 347.4,563.5 352.2,570.3 356.2,574 360.2,576.7 364.2,578.9 368.2,582.8 372.6,582.8 377.1,581.6 381.5,580.6 386,579.9 390,581.1 394,582.7 398,584.5 402,585.6 406,584.2 410,585.4 414,584.9 418,585.6 422.4,585.9 426.9,585.7 431.3,585.6 435.8,585.6 439.8,586.2 443.8,587.3 447.8,587.8 451.8,587 456.2,585.7 460.7,586.9 465.1,585.2 469.6,584.6 473.6,583.1 477.6,584.5 481.6,582.7 485.6,582.4 489.6,582.9 493.6,581.8 497.6,581.5 501.6,581" fill="none" stroke="#821a84" stroke-width="3" stroke-linejoin="round" stroke-linecap="round" />
<polyline points="61.2,656.8 65.5,656.1 69.7,658.3 74,657.8 78.3,657.5 82.5,658.7 86.8,657.8 91.1,660.1 95.3,659.4 99.6,659.3 103.6,659 107.6,659.3 111.6,657.9 115.6,658.7 119.6,658.8 123.6,658.6 127.6,658.1 131.6,657.5 136.1,656 140.5,655.9 145,654 149.4,653.9 153.9,655 158.3,655.4 162.8,656.2 167.2,657.5 171.6,657.1 176.1,657 180.5,655.8 185,653.9 189,654.8 193,655.9 197,656.6 201,658.2 205.9,656.4 210.8,655.3 215.7,654 220.6,652.1 224.6,650.1 228.6,648.6 232.6,646.1 236.6,645 241.3,641.8 246.1,640 250.8,636.1 254.8,629 258.8,620.5 262.8,612.2 266.8,604.1 271.6,582.9 276.3,561 281,540.1 285.9,516.7 290.8,495.1 295.7,471.4 300.6,449.4 305.1,455.9 309.5,461.8 314.8,470 320.2,479.6 324.9,496.2 329.7,513.8 334.4,529.4 338.8,551.1 343.3,572.1 347.7,593.6 352.2,614.8 356.6,621 361.1,629.6 365.5,635.7 370,643.3 374,645.9 378,649.1 382,652.6 386,655.7 390,655.3 394,655.3 398,656 402,655.7 406,655.8 410,656.5 414,656.2 418,655.7 422.4,657.6 426.9,657.3 431.3,659.2 435.8,660.3 439.8,659.2 443.8,658 447.8,655.9 451.8,654.6 455.9,655 460.1,655.3 464.2,654.1 468.4,654.1 472.5,654.1 476.7,654.8 480.8,654 485,654.7 489.1,654.4 493.3,654 497.5,653.6 501.6,654.6" fill="none" stroke="#43218f" stroke-width="3" stroke-linejoin="round" stroke-linecap="round" />
<polyline points="61.2,735.7 65.5,735.8 69.7,735.5 74,736.2 78.3,736.8 82.5,737.1 86.8,736.6 91.1,736.3 95.3,736.2 99.6,736.5 103.6,736.1 107.6,735.6 111.6,735.2 115.6,735 119.6,736.6 123.6,735.9 127.6,736.4 131.6,735.7 136.1,735.3 140.5,736.8 145,737.1 149.4,737.9 153.9,737.8 158.3,739 162.8,739.4 167.2,739.3 171.6,739.9 176.1,737.7 180.5,738 185,738.6 189.4,738.7 193.9,738.7 198.3,736.8 202.8,735.7 207.2,735.1 211.7,735.6 216.1,734.5 220.6,734 224.6,732.3 228.6,731.2 232.6,728.7 236.6,726.9 241.3,725.2 246.1,725.3 250.8,725.1 254.8,721 258.8,715.7 262.8,712 266.8,707.3 271.3,694.5 275.7,682.7 280.1,669.6 284.6,657.5 288.6,645.4 292.6,632 296.6,618.9 300.6,607 305.1,609.4 309.5,611.2 314.8,618.6 320.2,625.5 324.9,645.7 329.7,664.9 334.4,685.9 338.8,694.1 343.3,703.4 347.7,711.5 352.2,719.7 356.6,721.2 361.1,724.9 365.5,726.7 370,728.6 374,730.2 378,731.6 382,733.4 386,735 390,735.1 394,733.1 398,734 402,734 406,734.4 410,736.5 414,737.5 418,738.6 422.4,738.8 426.9,739.2 431.3,740.1 435.8,739.3 439.8,739.5 443.8,736.8 447.8,737.7 451.8,735.7 456.2,734.9 460.7,732.9 465.1,733.9 469.6,732.2 474.3,731.9 479.1,732.3 483.8,732.9 488.3,734 492.7,733.8 497.2,734.6 501.6,735" fill="none" stroke="#20399a" stroke-width="3" stroke-linejoin="round" stroke-linecap="round" />
</g>
<rect x="61.2" y="396" width="440.4" height="364" fill="none" stroke="#808080" stroke-width="2.6"/>
<line x1="183.6" y1="760" x2="183.6" y2="766.5" stroke="#808080" stroke-width="2.2"/>
<text x="183.6" y="790" font-size="24" font-family="'DejaVu Sans', 'Liberation Sans', sans-serif" text-anchor="middle" fill="#303030" stroke="#303030" stroke-width="0.15">145</text>
<line x1="383.1" y1="760" x2="383.1" y2="766.5" stroke="#808080" stroke-width="2.2"/>
<text x="383.1" y="790" font-size="24" font-family="'DejaVu Sans', 'Liberation Sans', sans-serif" text-anchor="middle" fill="#303030" stroke="#303030" stroke-width="0.15">150</text>
<line x1="54.7" y1="741" x2="61.2" y2="741" stroke="#808080" stroke-width="2.2"/>
<text x="49.7" y="749.6" font-size="24" font-family="'DejaVu Sans', 'Liberation Sans', sans-serif" text-anchor="end" fill="#303030" stroke="#303030" stroke-width="0.15">0</text>
<line x1="54.7" y1="664.4" x2="61.2" y2="664.4" stroke="#808080" stroke-width="2.2"/>
<text x="49.7" y="673" font-size="24" font-family="'DejaVu Sans', 'Liberation Sans', sans-serif" text-anchor="end" fill="#303030" stroke="#303030" stroke-width="0.15">2</text>
<line x1="54.7" y1="587.8" x2="61.2" y2="587.8" stroke="#808080" stroke-width="2.2"/>
<text x="49.7" y="596.4" font-size="24" font-family="'DejaVu Sans', 'Liberation Sans', sans-serif" text-anchor="end" fill="#303030" stroke="#303030" stroke-width="0.15">4</text>
<line x1="54.7" y1="511.2" x2="61.2" y2="511.2" stroke="#808080" stroke-width="2.2"/>
<text x="49.7" y="519.8" font-size="24" font-family="'DejaVu Sans', 'Liberation Sans', sans-serif" text-anchor="end" fill="#303030" stroke="#303030" stroke-width="0.15">6</text>
<line x1="54.7" y1="434.6" x2="61.2" y2="434.6" stroke="#808080" stroke-width="2.2"/>
<text x="49.7" y="443.2" font-size="24" font-family="'DejaVu Sans', 'Liberation Sans', sans-serif" text-anchor="end" fill="#303030" stroke="#303030" stroke-width="0.15">8</text>
<defs><clipPath id="cc"><rect x="566.9" y="396" width="440" height="364.4"/></clipPath></defs>
<g clip-path="url(#cc)">
<polyline points="567.6,541.9 572.3,536.8 577.1,531.4 581.8,525.9 582,525.9" fill="none" stroke="#e8303f" stroke-width="2.2" stroke-linejoin="round" stroke-linecap="round" stroke-dasharray="6.5 4.5" opacity="0.85"/>
<polyline points="640,546.3 640.5,546.5 645.4,545.4 650.3,542.5 655.2,538.3 660.1,536.5 664.5,540.9 669,542.8 673.4,545.5 677.9,547.2 682.1,549.4 686.4,553.4 690.7,556.3 694.9,559.7 700.2,542.6 705.4,526.5 710.6,509.8 714.9,513.7 719.1,515.8 723.4,518.7 727.7,521.6 732.1,524.4 736.6,526.1 741,529.5 745.5,532.3 749.9,527.4 754.4,521.5 758.8,515.2 763.3,509.8 768,503.2 772.7,496.1 777.5,488.5 781.9,484.6 786.4,480.6 790.8,477 795.3,471.8 800,471.6 804.8,471.3 809.5,470.7 813.5,481.3 817.5,492.6 821.5,504.4 825.5,515.2 829.5,517.4 833.5,517 837.5,518.2 841.5,519.5 846,519.8 850.4,521.4 854.9,522.5 859.3,522.3 863.7,515.1 868.2,508 872.6,499.5 877.1,492.1 881.1,506.4 885.1,520.9 889.1,536 893.1,549 897.1,548.6 901.1,549.8 905.1,549 909.1,549 913.4,539.5 917.6,530 921.9,522.3 926.2,513.4 930.4,520.9 934.5,527.8 938.7,535.5 942.9,543.6 946.9,535 950.9,525.9 954.9,518.7 958.9,509.8 963.4,516.6 967.8,524.4 972.3,529.7 976.7,536.5 980.7,544.1 984.7,550.9 988.7,557.8 992.7,565 997.5,560.8 1002.2,558.3 1006.9,554.3" fill="none" stroke="#e8303f" stroke-width="2.2" stroke-linejoin="round" stroke-linecap="round" stroke-dasharray="6.5 4.5" opacity="0.85"/>
<polyline points="567.6,750 572.3,748.9 577.1,748.7 581.8,748.2 586.6,749.9 591.3,750 596.1,750.7 600.5,749.7 604.9,749 609.4,746.8 613.8,746.4 617.8,746.9 621.8,747.1 625.8,746.4 629.8,746.4 633.8,748.1 637.9,746 641.9,745.9 645.9,745.7 649.9,745 653.9,744.5 657.9,744 661.9,742.1 665.9,743.5 669.9,746.2 673.9,750.2 677.9,751.8 682.1,750.7 686.4,749.8 690.7,749 694.9,748.2 699.1,749.3 703.3,748.4 707.5,747.7 711.7,748.2 715.7,748.5 719.7,749.7 723.7,751.3 727.7,752.8 732.1,749.7 736.6,747.2 741,746.4 745.5,743.6 749.5,743.4 753.5,741.9 757.5,742.8 761.5,741.1 765.9,736.5 770.4,731 774.8,726.8 779.3,721.5 784.4,714 789.5,705.7 794.6,698.4 799.5,697 804.5,692.8 809.5,691.3 813.9,686.5 818.4,680.4 822.8,676 827.3,669.9 832,680.3 836.8,690.9 841.5,700.2 846,707.4 850.4,717 854.9,726.2 859.3,734 863.3,736.8 867.3,741.5 871.3,743.9 875.3,746.4 879.8,744.4 884.2,740.9 888.7,737 893.1,735.7 897.1,736.9 901.1,737.9 905.1,739.4 909.1,740 913.4,741.3 917.6,742.4 921.9,744.4 926.2,746.4 930.4,745.8 934.5,746.7 938.7,747.7 942.9,748.2 946.9,748.3 950.9,748.6 954.9,747.8 958.9,748.2 963.4,748.2 967.8,747.3 972.3,746 976.7,746.4 980.7,745.8 984.7,746.4 988.7,746 992.7,746.4 997.5,747.2 1002.2,749 1006.9,750" fill="none" stroke="#20399a" stroke-width="2.2" stroke-linejoin="round" stroke-linecap="round" stroke-dasharray="6.5 4.5" opacity="0.85"/>
<polyline points="567.6,506.3 572.3,506.9 577.1,508.5 581.8,509.8 582,509.8" fill="none" stroke="#c8103c" stroke-width="3" stroke-linejoin="round" stroke-linecap="round" />
<polyline points="640,499.3 640.5,499.2 645.1,488.5 649.3,501.8 653.5,515.7 657.7,529.8 661.9,543.6 665.9,531 669.9,519.9 673.9,508.2 677.9,495.6 682.1,503.9 686.4,514.5 690.7,522.7 694.9,532.3 700.2,523.5 705.4,514.7 710.6,506.3 714.9,505.8 719.1,505.9 723.4,506.3 727.7,506.3 732.1,503.6 736.6,503.3 741,500 745.5,499.2 749.5,498.6 753.5,498.3 757.5,497 761.5,497.4 765.5,498.8 769.5,500.5 773.5,502 777.5,504.5 781.9,499.4 786.4,496.8 790.8,492 795.3,486.7 800,478 804.8,469.9 809.5,461.1 813.5,476.6 817.5,491.8 821.5,507 825.5,521.6 829.5,521.1 833.5,519.4 837.5,519.9 841.5,518.7 846,511 850.4,506.2 854.9,499.2 859.3,493.1 863.7,498.6 868.2,505.7 872.6,510.3 877.1,517 881.1,519.3 885.1,519.4 889.1,521.4 893.1,522.3 897.1,506 901.1,489.6 905.1,475.3 909.1,457.6 913.4,485.6 917.6,511.1 921.9,537.9 926.2,564.3 930.4,551.1 934.5,539.1 938.7,526.4 942.9,512.3 947.3,516.9 951.8,518.8 956.2,522.3 960.7,525.9 964.7,522.2 968.7,520.5 972.7,517.9 976.7,515.2 980.7,512.4 984.7,510.4 988.7,510 992.7,507.4 997.5,516.9 1002.2,527.2 1006.9,536.5" fill="none" stroke="#c8103c" stroke-width="3" stroke-linejoin="round" stroke-linecap="round" />
<polyline points="567.6,602.3 572.1,599.5 576.6,597.5 581.1,595.2 586.1,602.4 591.1,608 596.1,614.1 600.5,614.2 604.9,614.5 609.4,613.4 613.8,614.1 618.6,615.1 623.3,615.7 628.1,615.5 632.3,616.6 636.6,619.7 640.9,618.9 645.1,620.1 649.3,618.4 653.5,616.8 657.7,615.4 661.9,613 665.9,612.8 669.9,609.6 673.9,608.8 677.9,608.4 682.1,607.1 686.4,604 690.7,601.8 694.9,599.9 699.1,603.1 703.3,607.5 707.5,609.9 711.7,613 715.7,613.7 719.7,614.4 723.7,615.7 727.7,617.6 732.1,613.7 736.6,609.7 741,606 745.5,603.4 749.5,603.9 753.5,603.9 757.5,603 761.5,603.4 765.5,601.3 769.5,597.3 773.5,593.5 777.5,590.6 781.8,583.9 786,576.6 790.3,568.9 794.6,562.1 799.5,563.4 804.5,562 809.5,563.2 813.5,563.7 817.5,563 821.5,563.9 825.5,563.2 829.5,565.3 833.5,567.6 837.5,567.4 841.5,570.3 846,573.2 850.4,576.9 854.9,578.9 859.3,582.1 863.7,586.2 868.2,588.3 872.6,591.2 877.1,593.4 881.1,595 885.1,595.6 889.1,598.9 893.1,600.6 897.1,603 901.1,606 905.1,607.7 909.1,610.5 913.4,609.7 917.6,610.1 921.9,609.5 926.2,610.5 930.4,608.3 934.5,607.3 938.7,605.8 942.9,604.1 946.9,608.5 950.9,611.7 954.9,616.6 958.9,620.1 963.4,619.5 967.8,618.1 972.3,617.7 976.7,617.6 980.7,617.6 984.7,617.2 988.7,617.2 992.7,617.6 997.5,619.3 1002.2,619.7 1006.9,621.9" fill="none" stroke="#821a84" stroke-width="3" stroke-linejoin="round" stroke-linecap="round" />
<polyline points="567.6,632.6 572.1,641 576.6,650.2 581.1,659.3 586.1,660.1 591.1,659.4 596.1,659.3 600.5,660.3 604.9,661.5 609.4,661.2 613.8,662.8 617.8,665.7 621.8,668.3 625.8,670 629.8,672.4 633.8,670.7 637.9,665.2 641.9,661.8 645.9,658.2 649.9,658.2 653.9,658.5 657.9,658.6 661.9,657.5 665.9,656.8 669.9,657.6 673.9,659.7 677.9,659.3 682.1,658.2 686.4,657.3 690.7,656.5 694.9,655.7 699.1,659 703.3,660.3 707.5,661.9 711.7,664.6 715.7,664.8 719.7,665.9 723.7,667.4 727.7,668.9 732.1,665.2 736.6,662.2 741,660.9 745.5,657.5 749.5,655.4 753.5,652.1 757.5,651.1 761.5,647.5 765.9,646.6 770.4,644.7 774.8,644.2 779.3,642.5 784.4,632.3 789.5,621.3 794.6,611.2 799.5,602.1 804.5,590.2 809.5,581 813.5,587.1 817.5,592 821.5,598.5 825.5,603.4 829.5,605.5 833.5,607.8 837.5,607.6 841.5,610.5 846,615 850.4,620.5 854.9,624.2 859.3,629 863.3,635.2 867.3,639.4 871.3,644.3 875.3,648.6 879.8,647.5 884.2,645.4 888.7,646 893.1,645 897.1,644.8 901.1,645 905.1,643.9 909.1,644 913.4,644.9 917.6,647.1 921.9,648.3 926.2,651.1 930.4,650.3 934.5,650.7 938.7,650.6 942.9,650.4 946.9,651.8 950.9,652.1 954.9,654 958.9,654.6 963.4,654.8 967.8,654.3 972.3,654.9 976.7,655.7 980.7,657.4 984.7,658.8 988.7,660.6 992.7,662.8 997.5,664.6 1002.2,665.1 1006.9,667.4" fill="none" stroke="#43218f" stroke-width="3" stroke-linejoin="round" stroke-linecap="round" />
<polyline points="567.6,716.2 572.1,720.8 576.6,726.3 581.1,731.5 586.1,729.6 591.1,726.2 596.1,723.3 600.5,728.1 604.9,733.2 609.4,736.7 613.8,742.1 617.8,743 621.8,743.5 625.8,743.2 629.8,743.6 633.8,743.5 637.9,739.6 641.9,737.7 645.9,735.7 649.9,732.9 653.9,730.1 657.9,727.4 661.9,723.3 665.9,721.9 669.9,722 673.9,723.4 677.9,722.2 682.1,726.8 686.4,731.4 690.7,736.3 694.9,741.1 699.1,741.7 703.3,740.4 707.5,739.3 711.7,739.3 715.7,737.5 719.7,736.7 723.7,736.3 727.7,735.7 732.1,733.1 736.6,731.2 741,730.9 745.5,728.6 749.5,728.6 753.5,727.3 757.5,728.3 761.5,726.9 765.9,722.7 770.4,717.6 774.8,713.9 779.3,709.1 784.4,700.2 789.5,690.4 794.6,681.7 799.5,677.5 804.5,670.6 809.5,666.4 813.9,666 818.4,664.4 822.8,664.4 827.3,662.8 832,675 836.8,687.3 841.5,698.4 846,702.5 850.4,709 854.9,715.1 859.3,719.7 863.3,722.4 867.3,726.9 871.3,729.1 875.3,731.5 879.8,731.2 884.2,729.5 888.7,727.4 893.1,727.9 897.1,729.1 901.1,730 905.1,731.6 909.1,732.2 913.4,732.6 917.6,732.8 921.9,733.9 926.2,735 930.4,729.6 934.5,725.5 938.7,721.6 942.9,717.2 946.9,721.9 950.9,726.9 954.9,730.7 958.9,735.7 963.4,732.2 967.8,727.7 972.3,722.9 976.7,719.7 980.7,718.3 984.7,717.9 988.7,716.7 992.7,716.2 997.5,721.1 1002.2,727.1 1006.9,732.2" fill="none" stroke="#20399a" stroke-width="3" stroke-linejoin="round" stroke-linecap="round" />
</g>
<rect x="566.9" y="396" width="440" height="364.4" fill="none" stroke="#808080" stroke-width="2.6"/>
<line x1="576.5" y1="760.4" x2="576.5" y2="766.9" stroke="#808080" stroke-width="2.2"/>
<text x="576.5" y="790.4" font-size="24" font-family="'DejaVu Sans', 'Liberation Sans', sans-serif" text-anchor="middle" fill="#303030" stroke="#303030" stroke-width="0.15">150</text>
<line x1="771.2" y1="760.4" x2="771.2" y2="766.9" stroke="#808080" stroke-width="2.2"/>
<text x="771.2" y="790.4" font-size="24" font-family="'DejaVu Sans', 'Liberation Sans', sans-serif" text-anchor="middle" fill="#303030" stroke="#303030" stroke-width="0.15">155</text>
<line x1="966" y1="760.4" x2="966" y2="766.9" stroke="#808080" stroke-width="2.2"/>
<text x="966" y="790.4" font-size="24" font-family="'DejaVu Sans', 'Liberation Sans', sans-serif" text-anchor="middle" fill="#303030" stroke="#303030" stroke-width="0.15">160</text>
<line x1="560.4" y1="748.2" x2="566.9" y2="748.2" stroke="#808080" stroke-width="2.2"/>
<text x="555.4" y="756.8" font-size="24" font-family="'DejaVu Sans', 'Liberation Sans', sans-serif" text-anchor="end" fill="#303030" stroke="#303030" stroke-width="0.15">0.0</text>
<line x1="560.4" y1="686.5" x2="566.9" y2="686.5" stroke="#808080" stroke-width="2.2"/>
<text x="555.4" y="695.1" font-size="24" font-family="'DejaVu Sans', 'Liberation Sans', sans-serif" text-anchor="end" fill="#303030" stroke="#303030" stroke-width="0.15">0.5</text>
<line x1="560.4" y1="624.8" x2="566.9" y2="624.8" stroke="#808080" stroke-width="2.2"/>
<text x="555.4" y="633.4" font-size="24" font-family="'DejaVu Sans', 'Liberation Sans', sans-serif" text-anchor="end" fill="#303030" stroke="#303030" stroke-width="0.15">1.0</text>
<line x1="560.4" y1="563.1" x2="566.9" y2="563.1" stroke="#808080" stroke-width="2.2"/>
<text x="555.4" y="571.7" font-size="24" font-family="'DejaVu Sans', 'Liberation Sans', sans-serif" text-anchor="end" fill="#303030" stroke="#303030" stroke-width="0.15">1.5</text>
<line x1="560.4" y1="501.4" x2="566.9" y2="501.4" stroke="#808080" stroke-width="2.2"/>
<text x="555.4" y="510" font-size="24" font-family="'DejaVu Sans', 'Liberation Sans', sans-serif" text-anchor="end" fill="#303030" stroke="#303030" stroke-width="0.15">2.0</text>
<line x1="560.4" y1="439.7" x2="566.9" y2="439.7" stroke="#808080" stroke-width="2.2"/>
<text x="555.4" y="448.3" font-size="24" font-family="'DejaVu Sans', 'Liberation Sans', sans-serif" text-anchor="end" fill="#303030" stroke="#303030" stroke-width="0.15">2.5</text>
<defs><clipPath id="cd"><rect x="1072.6" y="396" width="440.1" height="364"/></clipPath></defs>
<g clip-path="url(#cd)">
<polyline points="1073.4,545.4 1077.5,544 1081.7,542.1 1085.8,540.1 1089.9,539.3 1091,539.7" fill="none" stroke="#e8303f" stroke-width="2.2" stroke-linejoin="round" stroke-linecap="round" stroke-dasharray="6.5 4.5" opacity="0.85"/>
<polyline points="1150,533 1154,533.3 1158.1,535.1 1162.3,534.7 1167.2,541 1172.1,547.8 1177,552.5 1181.9,559.7 1186,552.9 1190.2,545.3 1194.3,538.3 1198.5,538.3 1202.6,537.9 1206.8,537.7 1210.9,537.1 1215.1,536.9 1219.2,536.5 1224,528.9 1228.7,521.3 1233.4,513.4 1238.2,514 1242.9,514.4 1247.7,515.2 1252.4,508.4 1257.2,500.4 1261.9,493.8 1266.7,491.6 1271.4,487.3 1276.1,483.2 1280.3,478.2 1284.4,471.3 1288.6,465.4 1292.6,468.6 1296.6,472.5 1300.6,476.9 1304.6,481.4 1308.7,479.2 1312.9,477.6 1317,476.1 1321.5,489.2 1325.9,502.7 1330.7,513.2 1335.4,521.5 1340.2,533 1345.5,531.3 1350.8,527.6 1355,526.8 1359.1,526.5 1363.3,525.9 1367.4,530.7 1371.6,537.9 1375.7,543.6 1380.6,545.4 1385.5,549.3 1390.4,551.8 1395.3,554.3 1399.3,551.3 1403.3,548 1407.3,544.8 1411.3,541.9 1415.8,541.2 1420.2,541.5 1424.7,540.6 1429.1,540.1 1433.1,544.2 1437.1,549.6 1441.1,552.2 1445.1,556.1 1450.5,534.2 1455.8,513.4 1459.9,519.7 1464.1,527.3 1468.2,536.5 1473.6,545.5 1478.9,554.3 1483.7,548.9 1488.4,541.8 1493.1,536.5 1498,539.8 1502.9,544.4 1507.8,548.6 1512.7,552.5" fill="none" stroke="#e8303f" stroke-width="2.2" stroke-linejoin="round" stroke-linecap="round" stroke-dasharray="6.5 4.5" opacity="0.85"/>
<polyline points="1073.4,744.6 1077.4,744.3 1081.4,746.9 1085.4,746.9 1089.4,747 1093.4,748.6 1097.4,748 1101.4,750.7 1105.4,750 1109.6,750 1113.9,749.2 1118.2,749.4 1122.5,747.8 1126.7,748.2 1130.8,748.1 1134.9,747.8 1138.9,747.3 1143,746.5 1147.1,745 1151.1,745.4 1155.2,744.6 1159.3,743.8 1163.5,744.8 1167.6,744.3 1171.8,744.2 1175.9,745.2 1180.1,744.6 1184.8,747.7 1189.6,749.2 1194.3,750 1198.6,748.4 1202.9,746.9 1207.1,745.2 1211.4,744 1215.7,742.9 1219.8,743.6 1224,744.4 1228.1,744.4 1232.3,745.3 1236.4,745.2 1240.6,746.4 1244.8,744.4 1249.1,743.7 1253.4,742 1257.6,739.7 1261.9,737.5 1269,725.1 1273.8,714.5 1278.5,703.9 1283.3,693.1 1288,671.3 1292.7,649.7 1297.5,629 1302.2,636.5 1307,642.6 1311.7,650.4 1316.5,666.1 1321.2,680.5 1325.9,696.6 1330.2,704.4 1334.5,713.3 1338.7,720.5 1343,727.9 1347.3,735.7 1351.7,737 1356.2,737 1360.6,739.5 1365.1,740 1370.4,742.8 1375.7,746.4 1380.2,745.8 1384.6,745.6 1389.1,745.9 1393.5,745.7 1397.6,745.9 1401.7,746.5 1405.7,747.8 1409.8,748.3 1413.9,749.5 1417.9,749.9 1422,750 1426.1,750.1 1430.3,748.1 1434.4,748.3 1438.6,747.9 1442.7,747.6 1446.9,746.4 1451.3,746.2 1455.8,746.8 1460.2,747.1 1464.7,745.9 1469.1,745.9 1473.6,745.9 1478,746.6 1482.5,746.4 1486.8,745.8 1491.1,746.4 1495.4,746.1 1499.7,745.8 1504.1,745.3 1508.4,747.8 1512.7,746.4" fill="none" stroke="#20399a" stroke-width="2.2" stroke-linejoin="round" stroke-linecap="round" stroke-dasharray="6.5 4.5" opacity="0.85"/>
<polyline points="1073.4,520.5 1077.5,519 1081.7,518.4 1085.8,517 1091,522.1" fill="none" stroke="#c8103c" stroke-width="3" stroke-linejoin="round" stroke-linecap="round" />
<polyline points="1150,517 1154,517.6 1158.1,519.5 1162.3,520.5 1167.6,531.5 1173,541.9 1177.1,539.4 1181.3,536.8 1185.4,534.7 1189.6,530.7 1193.7,526.9 1197.9,524.1 1203.2,524.2 1208.5,522.3 1213.9,526.2 1219.2,529.4 1223.4,518.1 1227.5,504.8 1231.7,492.1 1237,503 1242.3,513.4 1246.8,505 1251.2,497.4 1255.7,494.6 1260.1,491.1 1264.6,490 1269,486.7 1273.8,483.2 1278.5,479.4 1283.3,474.3 1290.4,456.5 1295.7,466.3 1301,474.3 1305.8,478.4 1310.5,482.2 1315.3,488.5 1320.6,492.6 1325.9,495.6 1330.1,499.3 1334.2,502.1 1338.4,506.3 1342.8,503.9 1347.3,502.7 1352,508 1356.8,513.4 1361.5,517 1366.3,522 1371,526 1375.7,531.2 1381.1,532.6 1386.4,533 1391.8,544.3 1397.1,554.3 1401.5,534 1406,515.2 1410.4,534.3 1414.9,552.5 1420.2,528.8 1425.5,506.3 1430,527.7 1434.4,549 1438.6,546.9 1442.7,544.3 1446.9,541.9 1454,541.9 1458.5,534.7 1462.9,529.4 1468.2,538.6 1473.6,547.2 1478,548.1 1482.5,550.8 1487.2,544.7 1492,536.5 1496.7,531.2 1503.8,533 1508.3,545.1 1512.7,557.9" fill="none" stroke="#c8103c" stroke-width="3" stroke-linejoin="round" stroke-linecap="round" />
<polyline points="1073.4,607.7 1078.1,606.3 1082.8,606.1 1087.6,605.9 1092,609.7 1096.5,613 1101.8,609 1107.2,605.9 1112,606.1 1116.9,606.6 1121.8,608.9 1126.7,609.5 1130.9,608.7 1135,607.8 1139.2,607 1143.3,605.5 1147.5,606.5 1151.6,605.9 1156.1,604.8 1160.5,604.9 1165,605.4 1169.4,604.1 1174.2,606.2 1178.9,608.7 1183.6,611.2 1189,606.7 1194.3,601.3 1199.7,605.2 1205,609.5 1209.7,608.9 1214.5,607.5 1219.2,607.7 1224,605.3 1228.7,603.1 1233.4,602.3 1237.9,601.1 1242.3,598.8 1247.1,595.3 1251.8,590.1 1256.6,586.3 1261.3,585 1266.1,583.7 1270.8,582.8 1275,577.2 1279.1,569.1 1283.3,561.4 1288,553.6 1292.7,546.4 1297.5,538.3 1302.2,540.9 1307,541.3 1311.7,543.6 1316,550.1 1320.2,556.1 1324.5,561.8 1328.8,568.3 1333.1,573.9 1337.1,578.6 1341.1,581.9 1345.1,585.7 1349.1,589.9 1353.2,592.2 1357.4,593.6 1361.5,595.2 1366,596.4 1370.4,597 1374.4,601.3 1378.4,603.5 1382.4,606.3 1386.4,609.5 1391.8,605.1 1397.1,602.3 1401.2,603.5 1405.4,604.4 1409.5,605.4 1413.7,606.3 1417.8,607.2 1422,607.7 1426.1,608.1 1430.3,608.4 1434.4,608.9 1438.6,608.5 1442.7,608.6 1446.9,609.5 1450.9,608.5 1454.9,608.7 1458.9,607.1 1462.9,607.7 1468.2,611 1473.6,614.8 1477.7,612.9 1481.9,611.4 1486,609.5 1490.5,608.6 1494.9,608.9 1499.4,608.6 1503.8,608 1508.3,608 1512.7,607.7" fill="none" stroke="#821a84" stroke-width="3" stroke-linejoin="round" stroke-linecap="round" />
<polyline points="1073.4,672.4 1077.4,670.9 1081.4,670.5 1085.4,670.4 1089.4,669 1093.4,667.9 1097.4,666.9 1101.4,667.5 1105.4,666.4 1109.6,666.5 1113.9,666.6 1118.2,666.8 1122.5,666.2 1126.7,668.2 1130.9,667.5 1135,666.3 1139.2,666.3 1143.3,666.6 1147.5,664.9 1151.6,664.6 1155.8,667 1159.9,670.3 1164.1,672.4 1168.5,668.3 1173,664.6 1177.4,665.9 1181.9,666.5 1186.3,668 1190.8,669.9 1195.5,667.7 1200.2,668.1 1205,666.4 1209,666.2 1213,664.3 1217,663.6 1221,662.8 1225.1,659.6 1229.3,658.5 1233.4,653.9 1238.2,658.1 1242.9,660.9 1247.7,664.6 1252.4,660.3 1257.2,655.9 1261.9,650.4 1266.7,646.8 1271.4,644.8 1276.1,641.5 1283.3,636.1 1288,615.2 1292.7,593.5 1297.5,572.1 1302.8,564.6 1308.2,556.1 1312.6,563.5 1317,569.5 1321.5,575.9 1325.9,582.8 1331.3,595.8 1336.6,607.7 1341.9,618.5 1347.3,629 1352,640 1356.8,651.6 1361.5,661 1366.3,662.5 1371,663.4 1375.7,664.6 1380.2,663.4 1384.6,663.9 1389.1,663.5 1393.5,662.8 1397.7,665.6 1401.8,667.9 1406,669.9 1410,670.4 1414,670.1 1418,670 1422,669.9 1427.3,667.6 1432.7,664.6 1437.4,665.4 1442.2,666.4 1446.9,668.2 1451.3,664.9 1455.8,662.8 1460.2,664.1 1464.7,664.2 1469.1,666.1 1473.6,667.5 1478,669 1482.5,669.9 1487.8,667.6 1493.1,666.4 1498,667.1 1502.9,667.7 1507.8,668 1512.7,668.9" fill="none" stroke="#43218f" stroke-width="3" stroke-linejoin="round" stroke-linecap="round" />
<polyline points="1073.4,735.7 1077.8,736.9 1082.3,737.5 1086.7,737.7 1091.1,739.3 1095.2,739.5 1099.3,738.8 1103.3,738.5 1107.4,738 1111.5,738.5 1115.5,737.8 1119.6,736.8 1123.6,738.4 1127.6,738.2 1131.6,738.8 1135.6,739.2 1139.6,740.4 1143.6,739.6 1147.6,743.2 1151.6,742.9 1156.1,743.4 1160.5,743.8 1165,744.8 1169.4,744.6 1174.2,744.4 1178.9,744.8 1183.6,744.6 1189,739.8 1194.3,734 1199.7,737.4 1205,742.9 1209.4,742.2 1213.9,739.4 1218.3,737.9 1222.8,735.7 1227.2,734.9 1231.7,735 1236.1,736.3 1240.6,735 1245.3,732.6 1250,730.5 1254.8,728.6 1259.5,726.6 1264.3,724.8 1269,721.5 1273.8,709.3 1278.5,701.1 1283.3,689.5 1288,668.3 1292.7,647.4 1297.5,625.5 1302.8,616.8 1308.2,609.5 1313.5,630.1 1318.8,650.4 1324.2,675.4 1329.5,698.4 1333.9,701.9 1338.4,705.1 1342.8,708.8 1347.3,712.6 1351.3,717.2 1355.3,722.9 1359.3,727.4 1363.3,732.2 1365.1,741.1 1370.4,737.2 1375.7,734 1380.5,733.9 1385.2,732.1 1390,732.2 1394.7,734.6 1399.5,740.4 1404.2,742.1 1408.7,740.2 1413.1,740 1417.5,737.3 1422,735.7 1426.1,735.2 1430.3,735.3 1434.4,734 1438.6,733.6 1442.7,733.5 1446.9,733.3 1451.3,735.2 1455.8,738.2 1460.2,741.2 1464.7,742.1 1469.1,741.6 1473.6,742 1478,743.2 1482.5,742.9 1486.8,741.9 1491.1,741.1 1495.4,738.6 1499.7,738.2 1504.1,736.5 1508.4,734.2 1512.7,734" fill="none" stroke="#20399a" stroke-width="3" stroke-linejoin="round" stroke-linecap="round" />
</g>
<rect x="1072.6" y="396" width="440.1" height="364" fill="none" stroke="#808080" stroke-width="2.6"/>
<line x1="1120.7" y1="760" x2="1120.7" y2="766.5" stroke="#808080" stroke-width="2.2"/>
<text x="1120.7" y="790" font-size="24" font-family="'DejaVu Sans', 'Liberation Sans', sans-serif" text-anchor="middle" fill="#303030" stroke="#303030" stroke-width="0.15">165</text>
<line x1="1235.6" y1="760" x2="1235.6" y2="766.5" stroke="#808080" stroke-width="2.2"/>
<text x="1235.6" y="790" font-size="24" font-family="'DejaVu Sans', 'Liberation Sans', sans-serif" text-anchor="middle" fill="#303030" stroke="#303030" stroke-width="0.15">170</text>
<line x1="1350.5" y1="760" x2="1350.5" y2="766.5" stroke="#808080" stroke-width="2.2"/>
<text x="1350.5" y="790" font-size="24" font-family="'DejaVu Sans', 'Liberation Sans', sans-serif" text-anchor="middle" fill="#303030" stroke="#303030" stroke-width="0.15">175</text>
<line x1="1465.4" y1="760" x2="1465.4" y2="766.5" stroke="#808080" stroke-width="2.2"/>
<text x="1465.4" y="790" font-size="24" font-family="'DejaVu Sans', 'Liberation Sans', sans-serif" text-anchor="middle" fill="#303030" stroke="#303030" stroke-width="0.15">180</text>
<line x1="1066.1" y1="748.2" x2="1072.6" y2="748.2" stroke="#808080" stroke-width="2.2"/>
<text x="1061.1" y="756.8" font-size="24" font-family="'DejaVu Sans', 'Liberation Sans', sans-serif" text-anchor="end" fill="#303030" stroke="#303030" stroke-width="0.15">0</text>
<line x1="1066.1" y1="680.8" x2="1072.6" y2="680.8" stroke="#808080" stroke-width="2.2"/>
<text x="1061.1" y="689.4" font-size="24" font-family="'DejaVu Sans', 'Liberation Sans', sans-serif" text-anchor="end" fill="#303030" stroke="#303030" stroke-width="0.15">1</text>
<line x1="1066.1" y1="613.4" x2="1072.6" y2="613.4" stroke="#808080" stroke-width="2.2"/>
<text x="1061.1" y="622" font-size="24" font-family="'DejaVu Sans', 'Liberation Sans', sans-serif" text-anchor="end" fill="#303030" stroke="#303030" stroke-width="0.15">2</text>
<line x1="1066.1" y1="546" x2="1072.6" y2="546" stroke="#808080" stroke-width="2.2"/>
<text x="1061.1" y="554.6" font-size="24" font-family="'DejaVu Sans', 'Liberation Sans', sans-serif" text-anchor="end" fill="#303030" stroke="#303030" stroke-width="0.15">3</text>
<line x1="1066.1" y1="478.6" x2="1072.6" y2="478.6" stroke="#808080" stroke-width="2.2"/>
<text x="1061.1" y="487.2" font-size="24" font-family="'DejaVu Sans', 'Liberation Sans', sans-serif" text-anchor="end" fill="#303030" stroke="#303030" stroke-width="0.15">4</text>
<line x1="1066.1" y1="411.2" x2="1072.6" y2="411.2" stroke="#808080" stroke-width="2.2"/>
<text x="1061.1" y="419.8" font-size="24" font-family="'DejaVu Sans', 'Liberation Sans', sans-serif" text-anchor="end" fill="#303030" stroke="#303030" stroke-width="0.15">5</text>
<defs><clipPath id="ce"><rect x="1578.2" y="396" width="439.3" height="364"/></clipPath></defs>
<g clip-path="url(#ce)">
<polyline points="1579,536.5 1583.1,536 1587.3,537 1591.4,535.8 1592.5,536.1" fill="none" stroke="#e8303f" stroke-width="2.2" stroke-linejoin="round" stroke-linecap="round" stroke-dasharray="6.5 4.5" opacity="0.85"/>
<polyline points="1647.6,535.2 1649.4,535.8 1653.6,535.6 1657.7,536.6 1661.9,535.4 1666,534 1670.2,535.3 1674.3,534.5 1678.5,533.8 1682.6,533.6 1686.8,533.8 1690.9,534 1695.1,533.2 1699.2,533 1703.2,534.1 1707.2,532.8 1711.2,533.8 1715.2,532.4 1719.2,532.3 1723.2,533.5 1727.2,533.8 1731.2,533.7 1735.6,534.7 1739.9,533.3 1744.3,533.6 1748.6,532.7 1753,533.3 1757.3,533.6 1761.7,532.9 1766,533.7 1770.4,533 1774.4,534 1778.4,533.8 1782.4,533.6 1786.4,533.8 1790.4,534.5 1794.4,533.7 1798.4,535.1 1802.4,534.7 1806.8,534.5 1811.3,535 1815.7,534.2 1820.2,534.4 1824.6,534.5 1829.1,535.3 1833.5,535.1 1838,535.1 1842.4,534.9 1846.9,535.2 1851.3,533.8 1855.7,534.6 1860.2,533.4 1864.6,533 1869.1,532.9 1873.5,533 1878,534.1 1882.4,534.9 1886.9,534 1891.3,534.1 1895.8,534.3 1900.2,535.7 1904.7,536.4 1909.1,536.5 1913.2,536.6 1917.3,536.3 1921.4,536.7 1925.5,535.7 1929.6,535.7 1933.7,535.1 1937.8,534.4 1941.9,533.5 1946,534.6 1950.2,534 1954.3,533.8 1958.4,533.5 1962.5,533.7 1966.9,534 1971.4,534.3 1975.8,533.2 1980.3,534.5 1984.7,535.3 1989.1,535.5 1993.6,535.4 1998,535.8 2002.9,536.1 2007.8,535.2 2012.7,536.6 2017.6,536.5" fill="none" stroke="#e8303f" stroke-width="2.2" stroke-linejoin="round" stroke-linecap="round" stroke-dasharray="6.5 4.5" opacity="0.85"/>
<polyline points="1579,742.9 1583.1,742.1 1587.1,743 1591.2,743.4 1595.3,742.5 1599.3,742 1603.4,742.7 1607.5,743 1611.6,743.3 1615.6,741.9 1619.7,741.9 1623.8,743 1627.9,742.9 1631.9,743.5 1636,743.1 1640.1,742.5 1644.2,742.4 1648.2,744 1652.3,742.3 1656.4,742 1660.5,741.7 1664.5,742.5 1668.6,742.5 1672.7,742.2 1676.8,742.3 1680.8,742.5 1684.9,742.7 1689,742.9 1693.1,742.4 1697.1,741.2 1701.2,742.6 1705.3,741.3 1709.4,742.1 1713.4,742.1 1717.5,741.2 1721.5,742.1 1725.6,741.5 1729.6,742.1 1733.7,743.9 1737.7,741.8 1741.7,742.3 1745.8,741 1749.8,741.5 1753.9,742.1 1757.9,741.6 1762,741.8 1766,741.6 1770,740.9 1774.1,741.8 1778.1,740.9 1782.2,742.4 1786.2,741 1790.3,741.6 1794.3,741.2 1798.3,741.7 1802.4,741.1 1806.8,740.5 1811.3,741.1 1815.7,740.2 1820.2,740 1824.6,741 1829.1,740.9 1833.5,740.9 1838,740.6 1842.4,741.8 1846.9,741.9 1851.3,742.9 1855.7,742.1 1860.2,742 1864.6,742.7 1869.1,742.7 1873.5,742.7 1878,742.7 1882.4,742.8 1886.9,742.4 1891.3,742.9 1895.4,742.3 1899.5,742.6 1903.5,743.2 1907.6,743.8 1911.7,743.4 1915.8,743.5 1919.8,743.3 1923.9,743.3 1928,743 1932.1,743.3 1936.1,743.9 1940.2,742.7 1944.3,742.4 1948.4,744 1952.4,743 1956.5,743.4 1960.6,743.4 1964.6,742.2 1968.7,744.3 1972.8,743.9 1976.9,743 1980.9,743.3 1985,742.9 1989.1,742.3 1993.2,742.8 1997.2,743.1 2001.3,743.5 2005.4,743.3 2009.5,742.9 2013.5,743.7 2017.6,742.9" fill="none" stroke="#20399a" stroke-width="2.2" stroke-linejoin="round" stroke-linecap="round" stroke-dasharray="6.5 4.5" opacity="0.85"/>
<polyline points="1579,541.9 1583.1,540.5 1587.2,538.3 1592,538.2 1592.5,538.2" fill="none" stroke="#c8103c" stroke-width="3" stroke-linejoin="round" stroke-linecap="round" />
<polyline points="1647.6,536.6 1649.4,536.5 1654.2,537.1 1658.9,537.7 1663.6,538.3 1668.4,537 1673.1,537.4 1677.9,535.5 1682.3,535.1 1686.8,535.2 1691.2,533.2 1695.7,533.7 1702.8,535.8 1708.1,532.1 1713.4,527.6 1718.8,522.2 1724.1,517 1728.9,514.9 1733.6,512.4 1738.3,509.8 1743.1,502.4 1747.8,494.4 1752.6,486.7 1757.3,478.5 1762.1,470.2 1766.8,461.8 1772.1,454 1777.5,445.8 1784.6,438.7 1791.7,438.7 1797,444.1 1802.4,449.4 1807.7,462.5 1813.1,476.1 1817.8,482.3 1822.5,487.4 1827.3,493.8 1832,502.8 1836.8,509.8 1841.5,517 1846.9,522.4 1852.2,525.9 1856.6,527.1 1861.1,527.7 1865.5,528.9 1870,531.2 1877.1,536.5 1881.8,535.8 1886.6,535.7 1891.3,535.8 1895.6,536.1 1899.9,536.6 1904.1,537.7 1908.4,536.4 1912.7,538.3 1917.1,539.2 1921.6,537.8 1926,538 1930.5,536.7 1934.9,537.8 1939.3,536.6 1943.8,537.7 1948.2,537.2 1952.3,537.3 1956.4,537.2 1960.4,536.8 1964.5,536.7 1968.6,536.5 1972.6,537.2 1976.7,536.5 1980.8,536.9 1984.9,537.3 1989,538.9 1993.1,537.7 1997.2,537.4 2001.2,536.9 2005.3,537 2009.4,538.9 2013.5,539.6 2017.6,539.4" fill="none" stroke="#c8103c" stroke-width="3" stroke-linejoin="round" stroke-linecap="round" />
<polyline points="1579,604.1 1583.6,605.3 1588.2,603.2 1592.8,604 1597.5,603.5 1602.1,603 1606.7,603.4 1611.2,603.1 1615.6,603.1 1620.1,603.3 1624.5,603.6 1629,604 1633.4,603.5 1637.9,604.1 1642.3,603.4 1646.7,603.6 1651.2,603.4 1655.6,603.1 1660.1,602.6 1664.5,602.2 1669,603.1 1673.4,603 1677.9,603.1 1682.3,602.9 1686.8,602.6 1691.2,601.3 1695.7,601.4 1700.1,600.8 1704.6,601.7 1709,600.8 1713.4,600.6 1717.5,599.3 1721.6,597.4 1725.6,596 1729.7,595.1 1733.8,594.1 1737.8,593.2 1741.9,591.7 1746.4,587.2 1750.8,584.7 1755.2,580.4 1759.7,577.4 1764.1,569.5 1768.6,562.1 1773,554.5 1777.5,547.2 1782.2,539.1 1787,531.1 1791.7,522.3 1797,515.7 1802.4,508.8 1807.7,509.5 1813.1,510.9 1817.8,520.3 1822.5,529.4 1827.3,538.3 1832,547.7 1836.8,556.2 1841.5,565 1846.3,571.1 1851,578.7 1855.7,586.3 1860.2,588.3 1864.6,591.3 1869.1,592.9 1873.5,595.2 1877.8,596.8 1882.1,597.5 1886.3,597.7 1890.6,599.5 1894.9,600.6 1898.9,601.2 1902.9,601.5 1906.9,600.7 1910.9,602.2 1914.9,602 1918.9,601.4 1922.9,602.7 1926.9,603.4 1931.3,602.2 1935.8,602.6 1940.2,604.2 1944.7,604.8 1949.1,604 1953.6,603.6 1958,604.5 1962.5,603.4 1966.7,603.6 1971,602.8 1975.2,601.9 1979.4,603.9 1983.7,602 1987.9,601.7 1992.2,603 1996.4,603.4 2000.6,602.9 2004.9,604 2009.1,603.3 2013.4,603.5 2017.6,603.4" fill="none" stroke="#821a84" stroke-width="3" stroke-linejoin="round" stroke-linecap="round" />
<polyline points="1579,669.9 1583.6,669 1588.2,670.9 1592.8,670.2 1597.5,669.6 1602.1,670.5 1606.7,669.9 1611.2,669.3 1615.6,671.4 1620.1,670.3 1624.5,669.9 1629,670.4 1633.4,669.2 1637.9,670.3 1642.3,669.9 1646.7,670.6 1651.2,670.6 1655.6,670.3 1660.1,669.3 1664.5,670.2 1669,669.1 1673.4,670.1 1677.9,669.9 1682.3,669.3 1686.8,668.9 1691.2,669.5 1695.7,670 1700.1,669.4 1704.6,667.9 1709,667.5 1713.4,667.4 1717.5,665.5 1721.6,664.3 1725.6,663.3 1729.7,662.1 1733.8,660.1 1737.8,659 1741.9,657.5 1746.4,653.3 1750.8,650.1 1755.2,647.7 1759.7,643.3 1764.4,637 1769.2,629.4 1773.9,621.9 1777.9,613.1 1781.9,604.3 1785.9,594.8 1789.9,586.3 1794.1,572.6 1798.2,560.6 1802.4,547.2 1807.7,521.7 1813.1,497.4 1818.4,493.1 1822.8,506.2 1827.3,518.7 1832.6,541.2 1838,565 1842.7,583.9 1847.4,604 1852.2,621.9 1856.9,631.8 1861.7,640.8 1866.4,650.4 1871.2,654.1 1875.9,656.6 1880.6,661 1885.4,662.8 1890.1,663 1894.9,664.6 1898.9,664.5 1902.9,664.9 1906.9,665.7 1910.9,665.6 1914.9,666 1918.9,667 1922.9,667.2 1926.9,667.4 1931.3,668.3 1935.8,668.1 1940.2,668.5 1944.7,667.1 1949.1,668 1953.6,668.3 1958,668.6 1962.5,668.2 1966.7,668 1971,668.7 1975.2,669 1979.4,667.8 1983.7,667.9 1987.9,668 1992.2,668.7 1996.4,667.9 2000.6,668.7 2004.9,668.4 2009.1,668.2 2013.4,667.7 2017.6,668.9" fill="none" stroke="#43218f" stroke-width="3" stroke-linejoin="round" stroke-linecap="round" />
<polyline points="1579,742.1 1583.2,743.5 1587.4,741.5 1591.6,742.3 1595.9,742 1600.1,741.6 1604.3,741.8 1608.5,741.8 1612.7,742.1 1617,742.4 1621.2,742.8 1625.4,742.3 1629.6,742.8 1633.9,742.4 1638.1,742.2 1642.3,742.1 1646.4,741.9 1650.5,741.4 1654.6,740.9 1658.7,741.7 1662.8,741.6 1666.9,741.8 1671,741.7 1675.1,740.7 1679.2,741 1683.3,740.6 1687.5,741.8 1691.6,741.1 1695.7,741.1 1699.8,740.5 1704,739.3 1708.1,738.5 1712.3,738.3 1716.4,738 1720.6,737.5 1724.8,737 1729.1,735.2 1733.4,735.5 1737.6,734.1 1741.9,734 1746.2,731.1 1750.4,728.7 1754.7,726.2 1759,724.2 1763.3,721.5 1768,718.4 1772.7,714.6 1777.5,710.8 1782.2,704.6 1787,699.2 1791.7,693.1 1797,677.2 1802.4,661 1807.7,641.9 1813.1,621.9 1818.4,606 1823.7,589.9 1830.8,597 1836.2,612 1841.5,629 1846.9,655.2 1852.2,682.4 1856.9,695.1 1861.7,709 1866.4,721.5 1871.2,725.5 1875.9,730.3 1880.6,734 1885.4,734.7 1890.1,734.4 1894.9,735.7 1898.9,736 1902.9,736.5 1906.9,736.6 1910.9,735.7 1914.9,737.1 1918.9,736.7 1922.9,736 1926.9,737.5 1931,737.3 1935.1,736.6 1939.3,737.2 1943.4,739 1947.5,739.7 1951.6,739.1 1955.8,738.9 1959.9,739.9 1964,739.1 1968.1,738.5 1972.3,737.8 1976.4,740 1980.5,738.2 1984.6,738.1 1988.7,739.5 1992.9,740.1 1997,739.7 2001.1,741 2005.2,740.5 2009.4,740.8 2013.5,741.1 2017.6,741.1" fill="none" stroke="#20399a" stroke-width="3" stroke-linejoin="round" stroke-linecap="round" />
</g>
<rect x="1578.2" y="396" width="439.3" height="364" fill="none" stroke="#808080" stroke-width="2.6"/>
<line x1="1590.7" y1="760" x2="1590.7" y2="766.5" stroke="#808080" stroke-width="2.2"/>
<text x="1590.7" y="790" font-size="24" font-family="'DejaVu Sans', 'Liberation Sans', sans-serif" text-anchor="middle" fill="#303030" stroke="#303030" stroke-width="0.15">210</text>
<line x1="1694.7" y1="760" x2="1694.7" y2="766.5" stroke="#808080" stroke-width="2.2"/>
<text x="1694.7" y="790" font-size="24" font-family="'DejaVu Sans', 'Liberation Sans', sans-serif" text-anchor="middle" fill="#303030" stroke="#303030" stroke-width="0.15">215</text>
<line x1="1798.7" y1="760" x2="1798.7" y2="766.5" stroke="#808080" stroke-width="2.2"/>
<text x="1798.7" y="790" font-size="24" font-family="'DejaVu Sans', 'Liberation Sans', sans-serif" text-anchor="middle" fill="#303030" stroke="#303030" stroke-width="0.15">220</text>
<line x1="1902.7" y1="760" x2="1902.7" y2="766.5" stroke="#808080" stroke-width="2.2"/>
<text x="1902.7" y="790" font-size="24" font-family="'DejaVu Sans', 'Liberation Sans', sans-serif" text-anchor="middle" fill="#303030" stroke="#303030" stroke-width="0.15">225</text>
<line x1="2006.7" y1="760" x2="2006.7" y2="766.5" stroke="#808080" stroke-width="2.2"/>
<text x="2006.7" y="790" font-size="24" font-family="'DejaVu Sans', 'Liberation Sans', sans-serif" text-anchor="middle" fill="#303030" stroke="#303030" stroke-width="0.15">230</text>
<line x1="1571.7" y1="742.1" x2="1578.2" y2="742.1" stroke="#808080" stroke-width="2.2"/>
<text x="1566.7" y="750.7" font-size="24" font-family="'DejaVu Sans', 'Liberation Sans', sans-serif" text-anchor="end" fill="#303030" stroke="#303030" stroke-width="0.15">0</text>
<line x1="1571.7" y1="696.2" x2="1578.2" y2="696.2" stroke="#808080" stroke-width="2.2"/>
<text x="1566.7" y="704.8" font-size="24" font-family="'DejaVu Sans', 'Liberation Sans', sans-serif" text-anchor="end" fill="#303030" stroke="#303030" stroke-width="0.15">5</text>
<line x1="1571.7" y1="650.3" x2="1578.2" y2="650.3" stroke="#808080" stroke-width="2.2"/>
<text x="1566.7" y="658.9" font-size="24" font-family="'DejaVu Sans', 'Liberation Sans', sans-serif" text-anchor="end" fill="#303030" stroke="#303030" stroke-width="0.15">10</text>
<line x1="1571.7" y1="604.4" x2="1578.2" y2="604.4" stroke="#808080" stroke-width="2.2"/>
<text x="1566.7" y="613" font-size="24" font-family="'DejaVu Sans', 'Liberation Sans', sans-serif" text-anchor="end" fill="#303030" stroke="#303030" stroke-width="0.15">15</text>
<line x1="1571.7" y1="558.5" x2="1578.2" y2="558.5" stroke="#808080" stroke-width="2.2"/>
<text x="1566.7" y="567.1" font-size="24" font-family="'DejaVu Sans', 'Liberation Sans', sans-serif" text-anchor="end" fill="#303030" stroke="#303030" stroke-width="0.15">20</text>
<line x1="1571.7" y1="512.6" x2="1578.2" y2="512.6" stroke="#808080" stroke-width="2.2"/>
<text x="1566.7" y="521.2" font-size="24" font-family="'DejaVu Sans', 'Liberation Sans', sans-serif" text-anchor="end" fill="#303030" stroke="#303030" stroke-width="0.15">25</text>
<line x1="1571.7" y1="466.7" x2="1578.2" y2="466.7" stroke="#808080" stroke-width="2.2"/>
<text x="1566.7" y="475.3" font-size="24" font-family="'DejaVu Sans', 'Liberation Sans', sans-serif" text-anchor="end" fill="#303030" stroke="#303030" stroke-width="0.15">30</text>
<line x1="1571.7" y1="420.8" x2="1578.2" y2="420.8" stroke="#808080" stroke-width="2.2"/>
<text x="1566.7" y="429.4" font-size="24" font-family="'DejaVu Sans', 'Liberation Sans', sans-serif" text-anchor="end" fill="#303030" stroke="#303030" stroke-width="0.15">35</text>
<rect x="1895.5" y="551.5" width="131.5" height="178.8" rx="5" fill="#ffffff" stroke="#d8d8d8" stroke-width="1.5"/>
<text x="1905.7" y="581" font-size="23" font-family="'DejaVu Sans', 'Liberation Sans', sans-serif" text-anchor="start" fill="#262626" textLength="111" lengthAdjust="spacingAndGlyphs">Temp (K)</text>
<line x1="1905.4" y1="606.7" x2="1955.2" y2="606.7" stroke="#c8103c" stroke-width="3"/>
<text x="1972" y="615.2" font-size="23" font-family="'DejaVu Sans', 'Liberation Sans', sans-serif" text-anchor="start" fill="#262626" >250</text>
<line x1="1905.4" y1="641.6" x2="1955.2" y2="641.6" stroke="#821a84" stroke-width="3"/>
<text x="1972" y="650.1" font-size="23" font-family="'DejaVu Sans', 'Liberation Sans', sans-serif" text-anchor="start" fill="#262626" >150</text>
<line x1="1905.4" y1="675.4" x2="1955.2" y2="675.4" stroke="#43218f" stroke-width="3"/>
<text x="1972" y="683.9" font-size="23" font-family="'DejaVu Sans', 'Liberation Sans', sans-serif" text-anchor="start" fill="#262626" >75</text>
<line x1="1905.4" y1="709.9" x2="1955.2" y2="709.9" stroke="#20399a" stroke-width="3"/>
<text x="1972" y="718.4" font-size="23" font-family="'DejaVu Sans', 'Liberation Sans', sans-serif" text-anchor="start" fill="#262626" >5</text>
<text x="855.5" y="825.5" font-size="24" font-family="'DejaVu Sans', 'Liberation Sans', sans-serif" text-anchor="start" fill="#1a1a1a" textLength="394" lengthAdjust="spacingAndGlyphs">Relative Wavenumber (cm<tspan font-size="15" dy="-8">−1</tspan><tspan dy="8">)</tspan></text>
<text transform="translate(23,686) rotate(-90)" font-size="24" font-family="'DejaVu Sans', 'Liberation Sans', sans-serif" fill="#1a1a1a" textLength="215" lengthAdjust="spacingAndGlyphs">Intensity (cts/s)</text>
<defs><clipPath id="cf1"><rect x="106.1" y="842" width="425.1" height="363.4"/></clipPath></defs>
<g clip-path="url(#cf1)">
<line x1="106.1" y1="988.3" x2="531.2" y2="988.3" stroke="#c8c8c8" stroke-width="1.2" stroke-dasharray="2 2"/>
<line x1="233.7" y1="842" x2="233.7" y2="1205.4" stroke="#c8c8c8" stroke-width="1.2" stroke-dasharray="2 2"/>
<polyline points="125,988.3 132.9,1020.9 164.4,1061.1 211.7,968.2 227.4,968.2 243.2,895.4 258.9,943.1 306.2,955.7 353.5,980.8 432.3,1063.6 511.1,1081.2" fill="none" stroke="#999999" stroke-width="1.5" stroke-linejoin="round" stroke-linecap="round" stroke-linecap="butt"/>
<path d="M125 959.6V1017M122 959.6H128M122 1017H128" stroke="#999999" stroke-width="1.3" opacity="0.75" fill="none"/>
<path d="M132.9 990.1V1051.8M129.9 990.1H135.9M129.9 1051.8H135.9" stroke="#999999" stroke-width="1.3" opacity="0.75" fill="none"/>
<path d="M164.4 1033.6V1088.6M161.4 1033.6H167.4M161.4 1088.6H167.4" stroke="#999999" stroke-width="1.3" opacity="0.75" fill="none"/>
<path d="M211.7 933.6V1002.8M208.7 933.6H214.7M208.7 1002.8H214.7" stroke="#999999" stroke-width="1.3" opacity="0.75" fill="none"/>
<path d="M227.4 933V1003.5M224.4 933H230.4M224.4 1003.5H230.4" stroke="#999999" stroke-width="1.3" opacity="0.75" fill="none"/>
<path d="M243.2 861.7V929.2M240.2 861.7H246.2M240.2 929.2H246.2" stroke="#999999" stroke-width="1.3" opacity="0.75" fill="none"/>
<path d="M258.9 905.1V981.2M255.9 905.1H261.9M255.9 981.2H261.9" stroke="#999999" stroke-width="1.3" opacity="0.75" fill="none"/>
<path d="M306.2 915.4V995.9M303.2 915.4H309.2M303.2 995.9H309.2" stroke="#999999" stroke-width="1.3" opacity="0.75" fill="none"/>
<path d="M353.5 951.6V1010M350.5 951.6H356.5M350.5 1010H356.5" stroke="#999999" stroke-width="1.3" opacity="0.75" fill="none"/>
<path d="M432.3 1028.1V1099.1M429.3 1028.1H435.3M429.3 1099.1H435.3" stroke="#999999" stroke-width="1.3" opacity="0.75" fill="none"/>
<path d="M511.1 1026.7V1135.6M508.1 1026.7H514.1M508.1 1135.6H514.1" stroke="#999999" stroke-width="1.3" opacity="0.75" fill="none"/>
<polygon points="125,982.5 119.2,992.9 130.8,992.9" fill="#999999"/>
<polygon points="132.9,1015.1 127.1,1025.6 138.7,1025.6" fill="#999999"/>
<polygon points="164.4,1055.3 158.6,1065.7 170.2,1065.7" fill="#999999"/>
<polygon points="211.7,962.4 205.9,972.9 217.5,972.9" fill="#999999"/>
<polygon points="227.4,962.4 221.6,972.9 233.2,972.9" fill="#999999"/>
<polygon points="243.2,889.6 237.4,900.1 249,900.1" fill="#999999"/>
<polygon points="258.9,937.3 253.1,947.8 264.7,947.8" fill="#999999"/>
<polygon points="306.2,949.9 300.4,960.3 312,960.3" fill="#999999"/>
<polygon points="353.5,975 347.7,985.4 359.3,985.4" fill="#999999"/>
<polygon points="432.3,1057.8 426.5,1068.2 438.1,1068.2" fill="#999999"/>
<polygon points="511.1,1075.4 505.3,1085.8 516.9,1085.8" fill="#999999"/>
<polyline points="125,988.3 132.9,935.6 164.4,939.4 195.9,953.2 211.7,968.2 227.4,940.6 243.2,885.4 258.9,945.6 314.1,965.7 353.5,987 432.3,1043.5 511.1,1151.5" fill="none" stroke="#000000" stroke-width="1.5" stroke-linejoin="round" stroke-linecap="round" stroke-linecap="butt"/>
<path d="M125 962.1V1014.5M122 962.1H128M122 1014.5H128" stroke="#000000" stroke-width="1.3" opacity="0.75" fill="none"/>
<path d="M132.9 918.5V952.7M129.9 918.5H135.9M129.9 952.7H135.9" stroke="#000000" stroke-width="1.3" opacity="0.75" fill="none"/>
<path d="M164.4 915.1V963.6M161.4 915.1H167.4M161.4 963.6H167.4" stroke="#000000" stroke-width="1.3" opacity="0.75" fill="none"/>
<path d="M195.9 934.4V971.9M192.9 934.4H198.9M192.9 971.9H198.9" stroke="#000000" stroke-width="1.3" opacity="0.75" fill="none"/>
<path d="M211.7 938.7V997.7M208.7 938.7H214.7M208.7 997.7H214.7" stroke="#000000" stroke-width="1.3" opacity="0.75" fill="none"/>
<path d="M227.4 911.8V969.4M224.4 911.8H230.4M224.4 969.4H230.4" stroke="#000000" stroke-width="1.3" opacity="0.75" fill="none"/>
<path d="M243.2 854.8V915.9M240.2 854.8H246.2M240.2 915.9H246.2" stroke="#000000" stroke-width="1.3" opacity="0.75" fill="none"/>
<path d="M258.9 915.1V976.2M255.9 915.1H261.9M255.9 976.2H261.9" stroke="#000000" stroke-width="1.3" opacity="0.75" fill="none"/>
<path d="M314.1 937.7V993.7M311.1 937.7H317.1M311.1 993.7H317.1" stroke="#000000" stroke-width="1.3" opacity="0.75" fill="none"/>
<path d="M353.5 954.1V1020M350.5 954.1H356.5M350.5 1020H356.5" stroke="#000000" stroke-width="1.3" opacity="0.75" fill="none"/>
<path d="M432.3 1013V1074M429.3 1013H435.3M429.3 1074H435.3" stroke="#000000" stroke-width="1.3" opacity="0.75" fill="none"/>
<path d="M511.1 1118V1184.9M508.1 1118H514.1M508.1 1184.9H514.1" stroke="#000000" stroke-width="1.3" opacity="0.75" fill="none"/>
<rect x="119.4" y="982.7" width="11.2" height="11.2" fill="#000000"/>
<rect x="127.3" y="930" width="11.2" height="11.2" fill="#000000"/>
<rect x="158.8" y="933.8" width="11.2" height="11.2" fill="#000000"/>
<rect x="190.3" y="947.6" width="11.2" height="11.2" fill="#000000"/>
<rect x="206.1" y="962.6" width="11.2" height="11.2" fill="#000000"/>
<rect x="221.8" y="935" width="11.2" height="11.2" fill="#000000"/>
<rect x="237.6" y="879.8" width="11.2" height="11.2" fill="#000000"/>
<rect x="253.3" y="940" width="11.2" height="11.2" fill="#000000"/>
<rect x="308.5" y="960.1" width="11.2" height="11.2" fill="#000000"/>
<rect x="347.9" y="981.4" width="11.2" height="11.2" fill="#000000"/>
<rect x="426.7" y="1037.9" width="11.2" height="11.2" fill="#000000"/>
<rect x="505.5" y="1145.9" width="11.2" height="11.2" fill="#000000"/>
<polyline points="140.7,988.3 148.6,983.3 156.5,980.8 164.4,975.8 172.3,970.7 180.1,965.7 188,960.7 195.9,955.7 203.8,950.6 211.7,945.6 219.5,940.6 227.4,935.6 235.3,933.1 243.2,928.1 251.1,926.8 258.9,925.5 274.7,929.3 314.1,931.8 353.5,953.2 432.3,1012.1 511.1,1088.7" fill="none" stroke="#1d7a2c" stroke-width="1.6" stroke-linejoin="round" stroke-linecap="round" stroke-linecap="butt"/>
<path d="M140.7 965.9V1010.7M137.7 965.9H143.7M137.7 1010.7H143.7" stroke="#1d7a2c" stroke-width="1.3" opacity="0.75" fill="none"/>
<path d="M148.6 967.4V999.1M145.6 967.4H151.6M145.6 999.1H151.6" stroke="#1d7a2c" stroke-width="1.3" opacity="0.75" fill="none"/>
<path d="M156.5 958.4V1003.1M153.5 958.4H159.5M153.5 1003.1H159.5" stroke="#1d7a2c" stroke-width="1.3" opacity="0.75" fill="none"/>
<path d="M164.4 955.1V996.4M161.4 955.1H167.4M161.4 996.4H167.4" stroke="#1d7a2c" stroke-width="1.3" opacity="0.75" fill="none"/>
<path d="M172.3 947V994.5M169.3 947H175.3M169.3 994.5H175.3" stroke="#1d7a2c" stroke-width="1.3" opacity="0.75" fill="none"/>
<path d="M180.1 944.9V986.5M177.1 944.9H183.1M177.1 986.5H183.1" stroke="#1d7a2c" stroke-width="1.3" opacity="0.75" fill="none"/>
<path d="M188 937.1V984.3M185 937.1H191M185 984.3H191" stroke="#1d7a2c" stroke-width="1.3" opacity="0.75" fill="none"/>
<path d="M195.9 930.1V981.3M192.9 930.1H198.9M192.9 981.3H198.9" stroke="#1d7a2c" stroke-width="1.3" opacity="0.75" fill="none"/>
<path d="M203.8 933.6V967.7M200.8 933.6H206.8M200.8 967.7H206.8" stroke="#1d7a2c" stroke-width="1.3" opacity="0.75" fill="none"/>
<path d="M211.7 929.9V961.4M208.7 929.9H214.7M208.7 961.4H214.7" stroke="#1d7a2c" stroke-width="1.3" opacity="0.75" fill="none"/>
<path d="M219.5 915.7V965.5M216.5 915.7H222.5M216.5 965.5H222.5" stroke="#1d7a2c" stroke-width="1.3" opacity="0.75" fill="none"/>
<path d="M227.4 908.8V962.3M224.4 908.8H230.4M224.4 962.3H230.4" stroke="#1d7a2c" stroke-width="1.3" opacity="0.75" fill="none"/>
<path d="M235.3 915.9V950.3M232.3 915.9H238.3M232.3 950.3H238.3" stroke="#1d7a2c" stroke-width="1.3" opacity="0.75" fill="none"/>
<path d="M243.2 912V944.1M240.2 912H246.2M240.2 944.1H246.2" stroke="#1d7a2c" stroke-width="1.3" opacity="0.75" fill="none"/>
<path d="M251.1 900.4V953.2M248.1 900.4H254.1M248.1 953.2H254.1" stroke="#1d7a2c" stroke-width="1.3" opacity="0.75" fill="none"/>
<path d="M258.9 909.1V942M255.9 909.1H261.9M255.9 942H261.9" stroke="#1d7a2c" stroke-width="1.3" opacity="0.75" fill="none"/>
<path d="M274.7 908.2V950.4M271.7 908.2H277.7M271.7 950.4H277.7" stroke="#1d7a2c" stroke-width="1.3" opacity="0.75" fill="none"/>
<path d="M314.1 904.3V959.4M311.1 904.3H317.1M311.1 959.4H317.1" stroke="#1d7a2c" stroke-width="1.3" opacity="0.75" fill="none"/>
<path d="M353.5 923.6V982.8M350.5 923.6H356.5M350.5 982.8H356.5" stroke="#1d7a2c" stroke-width="1.3" opacity="0.75" fill="none"/>
<path d="M432.3 989.5V1034.8M429.3 989.5H435.3M429.3 1034.8H435.3" stroke="#1d7a2c" stroke-width="1.3" opacity="0.75" fill="none"/>
<path d="M511.1 1057.7V1119.7M508.1 1057.7H514.1M508.1 1119.7H514.1" stroke="#1d7a2c" stroke-width="1.3" opacity="0.75" fill="none"/>
<circle cx="140.7" cy="988.3" r="4.8" fill="#1d7a2c"/>
<circle cx="148.6" cy="983.3" r="4.8" fill="#1d7a2c"/>
<circle cx="156.5" cy="980.8" r="4.8" fill="#1d7a2c"/>
<circle cx="164.4" cy="975.8" r="4.8" fill="#1d7a2c"/>
<circle cx="172.3" cy="970.7" r="4.8" fill="#1d7a2c"/>
<circle cx="180.1" cy="965.7" r="4.8" fill="#1d7a2c"/>
<circle cx="188" cy="960.7" r="4.8" fill="#1d7a2c"/>
<circle cx="195.9" cy="955.7" r="4.8" fill="#1d7a2c"/>
<circle cx="203.8" cy="950.6" r="4.8" fill="#1d7a2c"/>
<circle cx="211.7" cy="945.6" r="4.8" fill="#1d7a2c"/>
<circle cx="219.5" cy="940.6" r="4.8" fill="#1d7a2c"/>
<circle cx="227.4" cy="935.6" r="4.8" fill="#1d7a2c"/>
<circle cx="235.3" cy="933.1" r="4.8" fill="#1d7a2c"/>
<circle cx="243.2" cy="928.1" r="4.8" fill="#1d7a2c"/>
<circle cx="251.1" cy="926.8" r="4.8" fill="#1d7a2c"/>
<circle cx="258.9" cy="925.5" r="4.8" fill="#1d7a2c"/>
<circle cx="274.7" cy="929.3" r="4.8" fill="#1d7a2c"/>
<circle cx="314.1" cy="931.8" r="4.8" fill="#1d7a2c"/>
<circle cx="353.5" cy="953.2" r="4.8" fill="#1d7a2c"/>
<circle cx="432.3" cy="1012.1" r="4.8" fill="#1d7a2c"/>
<circle cx="511.1" cy="1088.7" r="4.8" fill="#1d7a2c"/>
<polyline points="125,968.2 132.9,975.8 140.7,975.8 148.6,975.8 156.5,978.3 164.4,980.8 172.3,978.9 180.1,977 188,975.1 195.9,973.2 203.8,971.4 211.7,969.5 219.5,967.6 227.4,965.7 235.3,960.7 243.2,955.7 251.1,943.1 258.9,945.6 266.8,950.6 274.7,955.7 314.1,988.3 353.5,1020.9 432.3,1068.6 511.1,1141.4" fill="none" stroke="#ffa500" stroke-width="1.6" stroke-linejoin="round" stroke-linecap="round" stroke-linecap="butt"/>
<path d="M125 955.1V981.4M122 955.1H128M122 981.4H128" stroke="#ffa500" stroke-width="1.3" opacity="0.75" fill="none"/>
<path d="M132.9 964V987.5M129.9 964H135.9M129.9 987.5H135.9" stroke="#ffa500" stroke-width="1.3" opacity="0.75" fill="none"/>
<path d="M140.7 958.9V992.6M137.7 958.9H143.7M137.7 992.6H143.7" stroke="#ffa500" stroke-width="1.3" opacity="0.75" fill="none"/>
<path d="M148.6 957.2V994.3M145.6 957.2H151.6M145.6 994.3H151.6" stroke="#ffa500" stroke-width="1.3" opacity="0.75" fill="none"/>
<path d="M156.5 964.9V991.6M153.5 964.9H159.5M153.5 991.6H159.5" stroke="#ffa500" stroke-width="1.3" opacity="0.75" fill="none"/>
<path d="M164.4 967.7V993.9M161.4 967.7H167.4M161.4 993.9H167.4" stroke="#ffa500" stroke-width="1.3" opacity="0.75" fill="none"/>
<path d="M172.3 961.1V996.7M169.3 961.1H175.3M169.3 996.7H175.3" stroke="#ffa500" stroke-width="1.3" opacity="0.75" fill="none"/>
<path d="M180.1 964.8V989.2M177.1 964.8H183.1M177.1 989.2H183.1" stroke="#ffa500" stroke-width="1.3" opacity="0.75" fill="none"/>
<path d="M188 959.6V990.6M185 959.6H191M185 990.6H191" stroke="#ffa500" stroke-width="1.3" opacity="0.75" fill="none"/>
<path d="M195.9 960.3V986.2M192.9 960.3H198.9M192.9 986.2H198.9" stroke="#ffa500" stroke-width="1.3" opacity="0.75" fill="none"/>
<path d="M203.8 956.7V986M200.8 956.7H206.8M200.8 986H206.8" stroke="#ffa500" stroke-width="1.3" opacity="0.75" fill="none"/>
<path d="M211.7 957.9V981M208.7 957.9H214.7M208.7 981H214.7" stroke="#ffa500" stroke-width="1.3" opacity="0.75" fill="none"/>
<path d="M219.5 949.2V986M216.5 949.2H222.5M216.5 986H222.5" stroke="#ffa500" stroke-width="1.3" opacity="0.75" fill="none"/>
<path d="M227.4 952.2V979.2M224.4 952.2H230.4M224.4 979.2H230.4" stroke="#ffa500" stroke-width="1.3" opacity="0.75" fill="none"/>
<path d="M235.3 944.7V976.7M232.3 944.7H238.3M232.3 976.7H238.3" stroke="#ffa500" stroke-width="1.3" opacity="0.75" fill="none"/>
<path d="M243.2 935.2V976.1M240.2 935.2H246.2M240.2 976.1H246.2" stroke="#ffa500" stroke-width="1.3" opacity="0.75" fill="none"/>
<path d="M251.1 931V955.2M248.1 931H254.1M248.1 955.2H254.1" stroke="#ffa500" stroke-width="1.3" opacity="0.75" fill="none"/>
<path d="M258.9 929.6V961.7M255.9 929.6H261.9M255.9 961.7H261.9" stroke="#ffa500" stroke-width="1.3" opacity="0.75" fill="none"/>
<path d="M266.8 934V967.3M263.8 934H269.8M263.8 967.3H269.8" stroke="#ffa500" stroke-width="1.3" opacity="0.75" fill="none"/>
<path d="M274.7 933.4V978M271.7 933.4H277.7M271.7 978H277.7" stroke="#ffa500" stroke-width="1.3" opacity="0.75" fill="none"/>
<path d="M314.1 972.6V1004M311.1 972.6H317.1M311.1 1004H317.1" stroke="#ffa500" stroke-width="1.3" opacity="0.75" fill="none"/>
<path d="M353.5 996.1V1045.8M350.5 996.1H356.5M350.5 1045.8H356.5" stroke="#ffa500" stroke-width="1.3" opacity="0.75" fill="none"/>
<path d="M432.3 1044.7V1092.6M429.3 1044.7H435.3M429.3 1092.6H435.3" stroke="#ffa500" stroke-width="1.3" opacity="0.75" fill="none"/>
<path d="M511.1 1112V1170.8M508.1 1112H514.1M508.1 1170.8H514.1" stroke="#ffa500" stroke-width="1.3" opacity="0.75" fill="none"/>
<path d="M120.5 963.7L129.5 972.7M120.5 972.7L129.5 963.7" stroke="#ffa500" stroke-width="2.6" fill="none"/>
<path d="M128.4 971.2L137.4 980.2M128.4 980.2L137.4 971.2" stroke="#ffa500" stroke-width="2.6" fill="none"/>
<path d="M136.2 971.2L145.2 980.2M136.2 980.2L145.2 971.2" stroke="#ffa500" stroke-width="2.6" fill="none"/>
<path d="M144.1 971.2L153.1 980.2M144.1 980.2L153.1 971.2" stroke="#ffa500" stroke-width="2.6" fill="none"/>
<path d="M152 973.8L161 982.8M152 982.8L161 973.8" stroke="#ffa500" stroke-width="2.6" fill="none"/>
<path d="M159.9 976.3L168.9 985.3M159.9 985.3L168.9 976.3" stroke="#ffa500" stroke-width="2.6" fill="none"/>
<path d="M167.8 974.4L176.8 983.4M167.8 983.4L176.8 974.4" stroke="#ffa500" stroke-width="2.6" fill="none"/>
<path d="M175.6 972.5L184.6 981.5M175.6 981.5L184.6 972.5" stroke="#ffa500" stroke-width="2.6" fill="none"/>
<path d="M183.5 970.6L192.5 979.6M183.5 979.6L192.5 970.6" stroke="#ffa500" stroke-width="2.6" fill="none"/>
<path d="M191.4 968.7L200.4 977.7M191.4 977.7L200.4 968.7" stroke="#ffa500" stroke-width="2.6" fill="none"/>
<path d="M199.3 966.9L208.3 975.9M199.3 975.9L208.3 966.9" stroke="#ffa500" stroke-width="2.6" fill="none"/>
<path d="M207.2 965L216.2 974M207.2 974L216.2 965" stroke="#ffa500" stroke-width="2.6" fill="none"/>
<path d="M215 963.1L224 972.1M215 972.1L224 963.1" stroke="#ffa500" stroke-width="2.6" fill="none"/>
<path d="M222.9 961.2L231.9 970.2M222.9 970.2L231.9 961.2" stroke="#ffa500" stroke-width="2.6" fill="none"/>
<path d="M230.8 956.2L239.8 965.2M230.8 965.2L239.8 956.2" stroke="#ffa500" stroke-width="2.6" fill="none"/>
<path d="M238.7 951.2L247.7 960.2M238.7 960.2L247.7 951.2" stroke="#ffa500" stroke-width="2.6" fill="none"/>
<path d="M246.6 938.6L255.6 947.6M246.6 947.6L255.6 938.6" stroke="#ffa500" stroke-width="2.6" fill="none"/>
<path d="M254.4 941.1L263.4 950.1M254.4 950.1L263.4 941.1" stroke="#ffa500" stroke-width="2.6" fill="none"/>
<path d="M262.3 946.1L271.3 955.1M262.3 955.1L271.3 946.1" stroke="#ffa500" stroke-width="2.6" fill="none"/>
<path d="M270.2 951.2L279.2 960.2M270.2 960.2L279.2 951.2" stroke="#ffa500" stroke-width="2.6" fill="none"/>
<path d="M309.6 983.8L318.6 992.8M309.6 992.8L318.6 983.8" stroke="#ffa500" stroke-width="2.6" fill="none"/>
<path d="M349 1016.4L358 1025.4M349 1025.4L358 1016.4" stroke="#ffa500" stroke-width="2.6" fill="none"/>
<path d="M427.8 1064.1L436.8 1073.1M427.8 1073.1L436.8 1064.1" stroke="#ffa500" stroke-width="2.6" fill="none"/>
<path d="M506.6 1136.9L515.6 1145.9M506.6 1145.9L515.6 1136.9" stroke="#ffa500" stroke-width="2.6" fill="none"/>
<polyline points="125,968.2 132.9,965.7 140.7,967 148.6,968.2 156.5,969.5 164.4,970.7 172.3,968.2 180.1,965.7 188,963.2 195.9,960.7 203.8,959 211.7,957.3 219.5,955.7 227.4,960.7 235.3,955.7 243.2,938.1 251.1,938.1 258.9,958.2 266.8,958.2 274.7,958.2 314.1,970.7 353.5,990.8 432.3,1068.6 511.1,1146.4" fill="none" stroke="#800080" stroke-width="1.6" stroke-linejoin="round" stroke-linecap="round" stroke-linecap="butt"/>
<path d="M125 950V986.5M122 950H128M122 986.5H128" stroke="#800080" stroke-width="1.3" opacity="0.75" fill="none"/>
<path d="M132.9 945.1V986.3M129.9 945.1H135.9M129.9 986.3H135.9" stroke="#800080" stroke-width="1.3" opacity="0.75" fill="none"/>
<path d="M140.7 953.2V980.7M137.7 953.2H143.7M137.7 980.7H143.7" stroke="#800080" stroke-width="1.3" opacity="0.75" fill="none"/>
<path d="M148.6 954.7V981.7M145.6 954.7H151.6M145.6 981.7H151.6" stroke="#800080" stroke-width="1.3" opacity="0.75" fill="none"/>
<path d="M156.5 956.2V982.8M153.5 956.2H159.5M153.5 982.8H159.5" stroke="#800080" stroke-width="1.3" opacity="0.75" fill="none"/>
<path d="M164.4 952.6V988.8M161.4 952.6H167.4M161.4 988.8H167.4" stroke="#800080" stroke-width="1.3" opacity="0.75" fill="none"/>
<path d="M172.3 950.1V986.3M169.3 950.1H175.3M169.3 986.3H175.3" stroke="#800080" stroke-width="1.3" opacity="0.75" fill="none"/>
<path d="M180.1 946V985.4M177.1 946H183.1M177.1 985.4H183.1" stroke="#800080" stroke-width="1.3" opacity="0.75" fill="none"/>
<path d="M188 943.6V982.8M185 943.6H191M185 982.8H191" stroke="#800080" stroke-width="1.3" opacity="0.75" fill="none"/>
<path d="M195.9 944.7V976.7M192.9 944.7H198.9M192.9 976.7H198.9" stroke="#800080" stroke-width="1.3" opacity="0.75" fill="none"/>
<path d="M203.8 942.8V975.2M200.8 942.8H206.8M200.8 975.2H206.8" stroke="#800080" stroke-width="1.3" opacity="0.75" fill="none"/>
<path d="M211.7 934.5V980.2M208.7 934.5H214.7M208.7 980.2H214.7" stroke="#800080" stroke-width="1.3" opacity="0.75" fill="none"/>
<path d="M219.5 936V975.4M216.5 936H222.5M216.5 975.4H222.5" stroke="#800080" stroke-width="1.3" opacity="0.75" fill="none"/>
<path d="M227.4 947.2V974.1M224.4 947.2H230.4M224.4 974.1H230.4" stroke="#800080" stroke-width="1.3" opacity="0.75" fill="none"/>
<path d="M235.3 938.7V972.6M232.3 938.7H238.3M232.3 972.6H238.3" stroke="#800080" stroke-width="1.3" opacity="0.75" fill="none"/>
<path d="M243.2 922V954.2M240.2 922H246.2M240.2 954.2H246.2" stroke="#800080" stroke-width="1.3" opacity="0.75" fill="none"/>
<path d="M251.1 919.5V956.7M248.1 919.5H254.1M248.1 956.7H254.1" stroke="#800080" stroke-width="1.3" opacity="0.75" fill="none"/>
<path d="M258.9 941.2V975.2M255.9 941.2H261.9M255.9 975.2H261.9" stroke="#800080" stroke-width="1.3" opacity="0.75" fill="none"/>
<path d="M266.8 943.9V972.5M263.8 943.9H269.8M263.8 972.5H269.8" stroke="#800080" stroke-width="1.3" opacity="0.75" fill="none"/>
<path d="M274.7 942.2V974.2M271.7 942.2H277.7M271.7 974.2H277.7" stroke="#800080" stroke-width="1.3" opacity="0.75" fill="none"/>
<path d="M314.1 949.6V991.8M311.1 949.6H317.1M311.1 991.8H317.1" stroke="#800080" stroke-width="1.3" opacity="0.75" fill="none"/>
<path d="M353.5 968.7V1012.9M350.5 968.7H356.5M350.5 1012.9H356.5" stroke="#800080" stroke-width="1.3" opacity="0.75" fill="none"/>
<path d="M432.3 1045.2V1092M429.3 1045.2H435.3M429.3 1092H435.3" stroke="#800080" stroke-width="1.3" opacity="0.75" fill="none"/>
<path d="M511.1 1120.4V1172.4M508.1 1120.4H514.1M508.1 1172.4H514.1" stroke="#800080" stroke-width="1.3" opacity="0.75" fill="none"/>
<path d="M125 962.7L127.2 966L130.5 968.2L127.2 970.4L125 973.7L122.8 970.4L119.5 968.2L122.8 966Z" fill="#800080"/>
<path d="M132.9 960.2L135.1 963.5L138.4 965.7L135.1 967.9L132.9 971.2L130.7 967.9L127.4 965.7L130.7 963.5Z" fill="#800080"/>
<path d="M140.7 961.5L142.9 964.8L146.2 967L142.9 969.2L140.7 972.5L138.5 969.2L135.2 967L138.5 964.8Z" fill="#800080"/>
<path d="M148.6 962.7L150.8 966L154.1 968.2L150.8 970.4L148.6 973.7L146.4 970.4L143.1 968.2L146.4 966Z" fill="#800080"/>
<path d="M156.5 964L158.7 967.3L162 969.5L158.7 971.7L156.5 975L154.3 971.7L151 969.5L154.3 967.3Z" fill="#800080"/>
<path d="M164.4 965.2L166.6 968.5L169.9 970.7L166.6 972.9L164.4 976.2L162.2 972.9L158.9 970.7L162.2 968.5Z" fill="#800080"/>
<path d="M172.3 962.7L174.5 966L177.8 968.2L174.5 970.4L172.3 973.7L170.1 970.4L166.8 968.2L170.1 966Z" fill="#800080"/>
<path d="M180.1 960.2L182.3 963.5L185.6 965.7L182.3 967.9L180.1 971.2L177.9 967.9L174.6 965.7L177.9 963.5Z" fill="#800080"/>
<path d="M188 957.7L190.2 961L193.5 963.2L190.2 965.4L188 968.7L185.8 965.4L182.5 963.2L185.8 961Z" fill="#800080"/>
<path d="M195.9 955.2L198.1 958.5L201.4 960.7L198.1 962.9L195.9 966.2L193.7 962.9L190.4 960.7L193.7 958.5Z" fill="#800080"/>
<path d="M203.8 953.5L206 956.8L209.3 959L206 961.2L203.8 964.5L201.6 961.2L198.3 959L201.6 956.8Z" fill="#800080"/>
<path d="M211.7 951.8L213.9 955.1L217.2 957.3L213.9 959.5L211.7 962.8L209.5 959.5L206.2 957.3L209.5 955.1Z" fill="#800080"/>
<path d="M219.5 950.2L221.7 953.5L225 955.7L221.7 957.9L219.5 961.2L217.3 957.9L214 955.7L217.3 953.5Z" fill="#800080"/>
<path d="M227.4 955.2L229.6 958.5L232.9 960.7L229.6 962.9L227.4 966.2L225.2 962.9L221.9 960.7L225.2 958.5Z" fill="#800080"/>
<path d="M235.3 950.2L237.5 953.5L240.8 955.7L237.5 957.9L235.3 961.2L233.1 957.9L229.8 955.7L233.1 953.5Z" fill="#800080"/>
<path d="M243.2 932.6L245.4 935.9L248.7 938.1L245.4 940.3L243.2 943.6L241 940.3L237.7 938.1L241 935.9Z" fill="#800080"/>
<path d="M251.1 932.6L253.3 935.9L256.6 938.1L253.3 940.3L251.1 943.6L248.9 940.3L245.6 938.1L248.9 935.9Z" fill="#800080"/>
<path d="M258.9 952.7L261.1 956L264.4 958.2L261.1 960.4L258.9 963.7L256.7 960.4L253.4 958.2L256.7 956Z" fill="#800080"/>
<path d="M266.8 952.7L269 956L272.3 958.2L269 960.4L266.8 963.7L264.6 960.4L261.3 958.2L264.6 956Z" fill="#800080"/>
<path d="M274.7 952.7L276.9 956L280.2 958.2L276.9 960.4L274.7 963.7L272.5 960.4L269.2 958.2L272.5 956Z" fill="#800080"/>
<path d="M314.1 965.2L316.3 968.5L319.6 970.7L316.3 972.9L314.1 976.2L311.9 972.9L308.6 970.7L311.9 968.5Z" fill="#800080"/>
<path d="M353.5 985.3L355.7 988.6L359 990.8L355.7 993L353.5 996.3L351.3 993L348 990.8L351.3 988.6Z" fill="#800080"/>
<path d="M432.3 1063.1L434.5 1066.4L437.8 1068.6L434.5 1070.8L432.3 1074.1L430.1 1070.8L426.8 1068.6L430.1 1066.4Z" fill="#800080"/>
<path d="M511.1 1140.9L513.3 1144.2L516.6 1146.4L513.3 1148.6L511.1 1151.9L508.9 1148.6L505.6 1146.4L508.9 1144.2Z" fill="#800080"/>
</g>
<rect x="106.1" y="842" width="425.1" height="363.4" fill="none" stroke="#808080" stroke-width="2.6"/>
<line x1="117.1" y1="1205.4" x2="117.1" y2="1211.9" stroke="#808080" stroke-width="2.2"/>
<text x="117.1" y="1235.4" font-size="24" font-family="'DejaVu Sans', 'Liberation Sans', sans-serif" text-anchor="middle" fill="#303030" stroke="#303030" stroke-width="0.15">0</text>
<line x1="195.9" y1="1205.4" x2="195.9" y2="1211.9" stroke="#808080" stroke-width="2.2"/>
<text x="195.9" y="1235.4" font-size="24" font-family="'DejaVu Sans', 'Liberation Sans', sans-serif" text-anchor="middle" fill="#303030" stroke="#303030" stroke-width="0.15">50</text>
<line x1="274.7" y1="1205.4" x2="274.7" y2="1211.9" stroke="#808080" stroke-width="2.2"/>
<text x="274.7" y="1235.4" font-size="24" font-family="'DejaVu Sans', 'Liberation Sans', sans-serif" text-anchor="middle" fill="#303030" stroke="#303030" stroke-width="0.15">100</text>
<line x1="353.5" y1="1205.4" x2="353.5" y2="1211.9" stroke="#808080" stroke-width="2.2"/>
<text x="353.5" y="1235.4" font-size="24" font-family="'DejaVu Sans', 'Liberation Sans', sans-serif" text-anchor="middle" fill="#303030" stroke="#303030" stroke-width="0.15">150</text>
<line x1="432.3" y1="1205.4" x2="432.3" y2="1211.9" stroke="#808080" stroke-width="2.2"/>
<text x="432.3" y="1235.4" font-size="24" font-family="'DejaVu Sans', 'Liberation Sans', sans-serif" text-anchor="middle" fill="#303030" stroke="#303030" stroke-width="0.15">200</text>
<line x1="511.1" y1="1205.4" x2="511.1" y2="1211.9" stroke="#808080" stroke-width="2.2"/>
<text x="511.1" y="1235.4" font-size="24" font-family="'DejaVu Sans', 'Liberation Sans', sans-serif" text-anchor="middle" fill="#303030" stroke="#303030" stroke-width="0.15">250</text>
<line x1="99.6" y1="887.9" x2="106.1" y2="887.9" stroke="#808080" stroke-width="2.2"/>
<text x="94.6" y="896.5" font-size="24" font-family="'DejaVu Sans', 'Liberation Sans', sans-serif" text-anchor="end" fill="#303030" stroke="#303030" stroke-width="0.15">0.4</text>
<line x1="99.6" y1="938.1" x2="106.1" y2="938.1" stroke="#808080" stroke-width="2.2"/>
<text x="94.6" y="946.7" font-size="24" font-family="'DejaVu Sans', 'Liberation Sans', sans-serif" text-anchor="end" fill="#303030" stroke="#303030" stroke-width="0.15">0.2</text>
<line x1="99.6" y1="988.3" x2="106.1" y2="988.3" stroke="#808080" stroke-width="2.2"/>
<text x="94.6" y="996.9" font-size="24" font-family="'DejaVu Sans', 'Liberation Sans', sans-serif" text-anchor="end" fill="#303030" stroke="#303030" stroke-width="0.15">0.0</text>
<line x1="99.6" y1="1038.5" x2="106.1" y2="1038.5" stroke="#808080" stroke-width="2.2"/>
<text x="94.6" y="1047.1" font-size="24" font-family="'DejaVu Sans', 'Liberation Sans', sans-serif" text-anchor="end" fill="#303030" stroke="#303030" stroke-width="0.15">−0.2</text>
<line x1="99.6" y1="1088.7" x2="106.1" y2="1088.7" stroke="#808080" stroke-width="2.2"/>
<text x="94.6" y="1097.3" font-size="24" font-family="'DejaVu Sans', 'Liberation Sans', sans-serif" text-anchor="end" fill="#303030" stroke="#303030" stroke-width="0.15">−0.4</text>
<line x1="99.6" y1="1138.9" x2="106.1" y2="1138.9" stroke="#808080" stroke-width="2.2"/>
<text x="94.6" y="1147.5" font-size="24" font-family="'DejaVu Sans', 'Liberation Sans', sans-serif" text-anchor="end" fill="#303030" stroke="#303030" stroke-width="0.15">−0.6</text>
<line x1="99.6" y1="1189.1" x2="106.1" y2="1189.1" stroke="#808080" stroke-width="2.2"/>
<text x="94.6" y="1197.7" font-size="24" font-family="'DejaVu Sans', 'Liberation Sans', sans-serif" text-anchor="end" fill="#303030" stroke="#303030" stroke-width="0.15">−0.8</text>
<defs><clipPath id="cf2"><rect x="604.9" y="842" width="424.8" height="364"/></clipPath></defs>
<g clip-path="url(#cf2)">
<line x1="604.9" y1="1074.3" x2="1029.7" y2="1074.3" stroke="#c8c8c8" stroke-width="1.2" stroke-dasharray="2 2"/>
<line x1="732.7" y1="842" x2="732.7" y2="1206" stroke="#c8c8c8" stroke-width="1.2" stroke-dasharray="2 2"/>
<polyline points="631.7,1041.5 663.2,1051.8 710.6,989.3 726.4,956.5 734.2,1002.6 742.1,989.3 757.9,941.2 805.3,905.3 852.6,925.8 931.5,944.3 1010.4,1045.6" fill="none" stroke="#999999" stroke-width="1.5" stroke-linejoin="round" stroke-linecap="round" stroke-linecap="butt"/>
<path d="M631.7 1009.6V1073.4M628.7 1009.6H634.7M628.7 1073.4H634.7" stroke="#999999" stroke-width="1.3" opacity="0.75" fill="none"/>
<path d="M663.2 1016.3V1087.3M660.2 1016.3H666.2M660.2 1087.3H666.2" stroke="#999999" stroke-width="1.3" opacity="0.75" fill="none"/>
<path d="M710.6 957V1021.6M707.6 957H713.6M707.6 1021.6H713.6" stroke="#999999" stroke-width="1.3" opacity="0.75" fill="none"/>
<path d="M726.4 917.7V995.4M723.4 917.7H729.4M723.4 995.4H729.4" stroke="#999999" stroke-width="1.3" opacity="0.75" fill="none"/>
<path d="M734.2 963.5V1041.7M731.2 963.5H737.2M731.2 1041.7H737.2" stroke="#999999" stroke-width="1.3" opacity="0.75" fill="none"/>
<path d="M742.1 952.3V1026.4M739.1 952.3H745.1M739.1 1026.4H745.1" stroke="#999999" stroke-width="1.3" opacity="0.75" fill="none"/>
<path d="M757.9 899.4V983M754.9 899.4H760.9M754.9 983H760.9" stroke="#999999" stroke-width="1.3" opacity="0.75" fill="none"/>
<path d="M805.3 861.1V949.6M802.3 861.1H808.3M802.3 949.6H808.3" stroke="#999999" stroke-width="1.3" opacity="0.75" fill="none"/>
<path d="M852.6 893.7V957.9M849.6 893.7H855.6M849.6 957.9H855.6" stroke="#999999" stroke-width="1.3" opacity="0.75" fill="none"/>
<path d="M931.5 905.2V983.3M928.5 905.2H934.5M928.5 983.3H934.5" stroke="#999999" stroke-width="1.3" opacity="0.75" fill="none"/>
<path d="M1010.4 985.8V1105.4M1007.4 985.8H1013.4M1007.4 1105.4H1013.4" stroke="#999999" stroke-width="1.3" opacity="0.75" fill="none"/>
<polygon points="631.7,1035.7 625.9,1046.2 637.5,1046.2" fill="#999999"/>
<polygon points="663.2,1046 657.4,1056.4 669,1056.4" fill="#999999"/>
<polygon points="710.6,983.5 704.8,993.9 716.4,993.9" fill="#999999"/>
<polygon points="726.4,950.7 720.6,961.2 732.2,961.2" fill="#999999"/>
<polygon points="734.2,996.8 728.5,1007.3 740,1007.3" fill="#999999"/>
<polygon points="742.1,983.5 736.3,993.9 747.9,993.9" fill="#999999"/>
<polygon points="757.9,935.4 752.1,945.8 763.7,945.8" fill="#999999"/>
<polygon points="805.3,899.5 799.5,910 811.1,910" fill="#999999"/>
<polygon points="852.6,920 846.8,930.5 858.4,930.5" fill="#999999"/>
<polygon points="931.5,938.5 925.7,948.9 937.3,948.9" fill="#999999"/>
<polygon points="1010.4,1039.8 1004.6,1050.3 1016.2,1050.3" fill="#999999"/>
<polyline points="623.8,1074.3 631.7,1120.4 663.2,1108.1 710.6,1082.5 734.2,1071.2 742.1,1064.1 757.9,1048.7 805.3,1050.7 852.6,1062 931.5,1031.3 1010.4,1064.1" fill="none" stroke="#000000" stroke-width="1.5" stroke-linejoin="round" stroke-linecap="round" stroke-linecap="butt"/>
<path d="M623.8 1058.3V1090.3M620.8 1058.3H626.8M620.8 1090.3H626.8" stroke="#000000" stroke-width="1.3" opacity="0.75" fill="none"/>
<path d="M631.7 1109.9V1130.8M628.7 1109.9H634.7M628.7 1130.8H634.7" stroke="#000000" stroke-width="1.3" opacity="0.75" fill="none"/>
<path d="M663.2 1093.3V1122.9M660.2 1093.3H666.2M660.2 1122.9H666.2" stroke="#000000" stroke-width="1.3" opacity="0.75" fill="none"/>
<path d="M710.6 1070.8V1094.2M707.6 1070.8H713.6M707.6 1094.2H713.6" stroke="#000000" stroke-width="1.3" opacity="0.75" fill="none"/>
<path d="M734.2 1052.6V1089.9M731.2 1052.6H737.2M731.2 1089.9H737.2" stroke="#000000" stroke-width="1.3" opacity="0.75" fill="none"/>
<path d="M742.1 1046V1082.1M739.1 1046H745.1M739.1 1082.1H745.1" stroke="#000000" stroke-width="1.3" opacity="0.75" fill="none"/>
<path d="M757.9 1029.6V1067.8M754.9 1029.6H760.9M754.9 1067.8H760.9" stroke="#000000" stroke-width="1.3" opacity="0.75" fill="none"/>
<path d="M805.3 1030.9V1070.6M802.3 1030.9H808.3M802.3 1070.6H808.3" stroke="#000000" stroke-width="1.3" opacity="0.75" fill="none"/>
<path d="M852.6 1044.1V1080M849.6 1044.1H855.6M849.6 1080H855.6" stroke="#000000" stroke-width="1.3" opacity="0.75" fill="none"/>
<path d="M931.5 1009.3V1053.3M928.5 1009.3H934.5M928.5 1053.3H934.5" stroke="#000000" stroke-width="1.3" opacity="0.75" fill="none"/>
<path d="M1010.4 1043.8V1084.3M1007.4 1043.8H1013.4M1007.4 1084.3H1013.4" stroke="#000000" stroke-width="1.3" opacity="0.75" fill="none"/>
<rect x="618.2" y="1068.7" width="11.2" height="11.2" fill="#000000"/>
<rect x="626.1" y="1114.8" width="11.2" height="11.2" fill="#000000"/>
<rect x="657.6" y="1102.5" width="11.2" height="11.2" fill="#000000"/>
<rect x="705" y="1076.9" width="11.2" height="11.2" fill="#000000"/>
<rect x="728.6" y="1065.6" width="11.2" height="11.2" fill="#000000"/>
<rect x="736.5" y="1058.5" width="11.2" height="11.2" fill="#000000"/>
<rect x="752.3" y="1043.1" width="11.2" height="11.2" fill="#000000"/>
<rect x="799.7" y="1045.1" width="11.2" height="11.2" fill="#000000"/>
<rect x="847" y="1056.4" width="11.2" height="11.2" fill="#000000"/>
<rect x="925.9" y="1025.7" width="11.2" height="11.2" fill="#000000"/>
<rect x="1004.8" y="1058.5" width="11.2" height="11.2" fill="#000000"/>
<polyline points="623.8,1074.3 631.7,1076.3 639.6,1073.8 647.5,1071.2 655.4,1068.9 663.2,1066.6 671.1,1064.3 679,1062 686.9,1058.7 694.8,1055.4 702.7,1052 710.6,1048.7 718.5,1043.6 726.4,1038.5 734.2,1038.5 742.1,1038.5 750,1036.4 757.9,1034.4 765.8,1032.3 773.7,1030.3 813.1,1012.9 852.6,1010.8 931.5,1025.1 1010.4,1072.3" fill="none" stroke="#1d7a2c" stroke-width="1.6" stroke-linejoin="round" stroke-linecap="round" stroke-linecap="butt"/>
<path d="M623.8 1062.4V1086.2M620.8 1062.4H626.8M620.8 1086.2H626.8" stroke="#1d7a2c" stroke-width="1.3" opacity="0.75" fill="none"/>
<path d="M631.7 1067.9V1084.8M628.7 1067.9H634.7M628.7 1084.8H634.7" stroke="#1d7a2c" stroke-width="1.3" opacity="0.75" fill="none"/>
<path d="M639.6 1061.9V1085.7M636.6 1061.9H642.6M636.6 1085.7H642.6" stroke="#1d7a2c" stroke-width="1.3" opacity="0.75" fill="none"/>
<path d="M647.5 1060.3V1082.2M644.5 1060.3H650.5M644.5 1082.2H650.5" stroke="#1d7a2c" stroke-width="1.3" opacity="0.75" fill="none"/>
<path d="M655.4 1056.3V1081.5M652.4 1056.3H658.4M652.4 1081.5H658.4" stroke="#1d7a2c" stroke-width="1.3" opacity="0.75" fill="none"/>
<path d="M663.2 1055.6V1077.7M660.2 1055.6H666.2M660.2 1077.7H666.2" stroke="#1d7a2c" stroke-width="1.3" opacity="0.75" fill="none"/>
<path d="M671.1 1051.8V1076.9M668.1 1051.8H674.1M668.1 1076.9H674.1" stroke="#1d7a2c" stroke-width="1.3" opacity="0.75" fill="none"/>
<path d="M679 1048.4V1075.6M676 1048.4H682M676 1075.6H682" stroke="#1d7a2c" stroke-width="1.3" opacity="0.75" fill="none"/>
<path d="M686.9 1049.6V1067.8M683.9 1049.6H689.9M683.9 1067.8H689.9" stroke="#1d7a2c" stroke-width="1.3" opacity="0.75" fill="none"/>
<path d="M694.8 1047V1063.7M691.8 1047H697.8M691.8 1063.7H697.8" stroke="#1d7a2c" stroke-width="1.3" opacity="0.75" fill="none"/>
<path d="M702.7 1038.8V1065.3M699.7 1038.8H705.7M699.7 1065.3H705.7" stroke="#1d7a2c" stroke-width="1.3" opacity="0.75" fill="none"/>
<path d="M710.6 1034.5V1062.9M707.6 1034.5H713.6M707.6 1062.9H713.6" stroke="#1d7a2c" stroke-width="1.3" opacity="0.75" fill="none"/>
<path d="M718.5 1034.4V1052.8M715.5 1034.4H721.5M715.5 1052.8H721.5" stroke="#1d7a2c" stroke-width="1.3" opacity="0.75" fill="none"/>
<path d="M726.4 1029.9V1047M723.4 1029.9H729.4M723.4 1047H729.4" stroke="#1d7a2c" stroke-width="1.3" opacity="0.75" fill="none"/>
<path d="M734.2 1024.4V1052.5M731.2 1024.4H737.2M731.2 1052.5H737.2" stroke="#1d7a2c" stroke-width="1.3" opacity="0.75" fill="none"/>
<path d="M742.1 1029.7V1047.2M739.1 1029.7H745.1M739.1 1047.2H745.1" stroke="#1d7a2c" stroke-width="1.3" opacity="0.75" fill="none"/>
<path d="M750 1025.3V1047.6M747 1025.3H753M747 1047.6H753" stroke="#1d7a2c" stroke-width="1.3" opacity="0.75" fill="none"/>
<path d="M757.9 1020.4V1048.4M754.9 1020.4H760.9M754.9 1048.4H760.9" stroke="#1d7a2c" stroke-width="1.3" opacity="0.75" fill="none"/>
<path d="M765.8 1017.8V1046.8M762.8 1017.8H768.8M762.8 1046.8H768.8" stroke="#1d7a2c" stroke-width="1.3" opacity="0.75" fill="none"/>
<path d="M773.7 1020V1040.5M770.7 1020H776.7M770.7 1040.5H776.7" stroke="#1d7a2c" stroke-width="1.3" opacity="0.75" fill="none"/>
<path d="M813.1 999.2V1026.5M810.1 999.2H816.1M810.1 1026.5H816.1" stroke="#1d7a2c" stroke-width="1.3" opacity="0.75" fill="none"/>
<path d="M852.6 994.3V1027.4M849.6 994.3H855.6M849.6 1027.4H855.6" stroke="#1d7a2c" stroke-width="1.3" opacity="0.75" fill="none"/>
<path d="M931.5 1010.3V1040M928.5 1010.3H934.5M928.5 1040H934.5" stroke="#1d7a2c" stroke-width="1.3" opacity="0.75" fill="none"/>
<path d="M1010.4 1055.9V1088.6M1007.4 1055.9H1013.4M1007.4 1088.6H1013.4" stroke="#1d7a2c" stroke-width="1.3" opacity="0.75" fill="none"/>
<circle cx="623.8" cy="1074.3" r="4.8" fill="#1d7a2c"/>
<circle cx="631.7" cy="1076.3" r="4.8" fill="#1d7a2c"/>
<circle cx="639.6" cy="1073.8" r="4.8" fill="#1d7a2c"/>
<circle cx="647.5" cy="1071.2" r="4.8" fill="#1d7a2c"/>
<circle cx="655.4" cy="1068.9" r="4.8" fill="#1d7a2c"/>
<circle cx="663.2" cy="1066.6" r="4.8" fill="#1d7a2c"/>
<circle cx="671.1" cy="1064.3" r="4.8" fill="#1d7a2c"/>
<circle cx="679" cy="1062" r="4.8" fill="#1d7a2c"/>
<circle cx="686.9" cy="1058.7" r="4.8" fill="#1d7a2c"/>
<circle cx="694.8" cy="1055.4" r="4.8" fill="#1d7a2c"/>
<circle cx="702.7" cy="1052" r="4.8" fill="#1d7a2c"/>
<circle cx="710.6" cy="1048.7" r="4.8" fill="#1d7a2c"/>
<circle cx="718.5" cy="1043.6" r="4.8" fill="#1d7a2c"/>
<circle cx="726.4" cy="1038.5" r="4.8" fill="#1d7a2c"/>
<circle cx="734.2" cy="1038.5" r="4.8" fill="#1d7a2c"/>
<circle cx="742.1" cy="1038.5" r="4.8" fill="#1d7a2c"/>
<circle cx="750" cy="1036.4" r="4.8" fill="#1d7a2c"/>
<circle cx="757.9" cy="1034.4" r="4.8" fill="#1d7a2c"/>
<circle cx="765.8" cy="1032.3" r="4.8" fill="#1d7a2c"/>
<circle cx="773.7" cy="1030.3" r="4.8" fill="#1d7a2c"/>
<circle cx="813.1" cy="1012.9" r="4.8" fill="#1d7a2c"/>
<circle cx="852.6" cy="1010.8" r="4.8" fill="#1d7a2c"/>
<circle cx="931.5" cy="1025.1" r="4.8" fill="#1d7a2c"/>
<circle cx="1010.4" cy="1072.3" r="4.8" fill="#1d7a2c"/>
<polyline points="623.8,1069.2 631.7,1072.3 639.6,1071.7 647.5,1071.2 655.4,1070.7 663.2,1070.2 671.1,1069.7 679,1069.2 686.9,1068.4 694.8,1067.6 702.7,1066.9 710.6,1066.1 718.5,1065.1 726.4,1064.1 734.2,1058.9 742.1,1053.8 750,1051.3 757.9,1048.7 765.8,1046.1 773.7,1043.6 813.1,1051.8 852.6,1051.8 931.5,1079.4 1010.4,1120.4" fill="none" stroke="#ffa500" stroke-width="1.6" stroke-linejoin="round" stroke-linecap="round" stroke-linecap="butt"/>
<path d="M623.8 1058.5V1079.9M620.8 1058.5H626.8M620.8 1079.9H626.8" stroke="#ffa500" stroke-width="1.3" opacity="0.75" fill="none"/>
<path d="M631.7 1062.6V1081.9M628.7 1062.6H634.7M628.7 1081.9H634.7" stroke="#ffa500" stroke-width="1.3" opacity="0.75" fill="none"/>
<path d="M639.6 1058V1085.5M636.6 1058H642.6M636.6 1085.5H642.6" stroke="#ffa500" stroke-width="1.3" opacity="0.75" fill="none"/>
<path d="M647.5 1056.1V1086.4M644.5 1056.1H650.5M644.5 1086.4H650.5" stroke="#ffa500" stroke-width="1.3" opacity="0.75" fill="none"/>
<path d="M655.4 1059.9V1081.6M652.4 1059.9H658.4M652.4 1081.6H658.4" stroke="#ffa500" stroke-width="1.3" opacity="0.75" fill="none"/>
<path d="M663.2 1059.5V1080.9M660.2 1059.5H666.2M660.2 1080.9H666.2" stroke="#ffa500" stroke-width="1.3" opacity="0.75" fill="none"/>
<path d="M671.1 1055.1V1084.2M668.1 1055.1H674.1M668.1 1084.2H674.1" stroke="#ffa500" stroke-width="1.3" opacity="0.75" fill="none"/>
<path d="M679 1059.3V1079.1M676 1059.3H682M676 1079.1H682" stroke="#ffa500" stroke-width="1.3" opacity="0.75" fill="none"/>
<path d="M686.9 1055.8V1081.1M683.9 1055.8H689.9M683.9 1081.1H689.9" stroke="#ffa500" stroke-width="1.3" opacity="0.75" fill="none"/>
<path d="M694.8 1057.1V1078.2M691.8 1057.1H697.8M691.8 1078.2H697.8" stroke="#ffa500" stroke-width="1.3" opacity="0.75" fill="none"/>
<path d="M702.7 1054.9V1078.8M699.7 1054.9H705.7M699.7 1078.8H705.7" stroke="#ffa500" stroke-width="1.3" opacity="0.75" fill="none"/>
<path d="M710.6 1056.7V1075.5M707.6 1056.7H713.6M707.6 1075.5H713.6" stroke="#ffa500" stroke-width="1.3" opacity="0.75" fill="none"/>
<path d="M718.5 1050.1V1080.1M715.5 1050.1H721.5M715.5 1080.1H721.5" stroke="#ffa500" stroke-width="1.3" opacity="0.75" fill="none"/>
<path d="M726.4 1053.1V1075.1M723.4 1053.1H729.4M723.4 1075.1H729.4" stroke="#ffa500" stroke-width="1.3" opacity="0.75" fill="none"/>
<path d="M734.2 1045.9V1072M731.2 1045.9H737.2M731.2 1072H737.2" stroke="#ffa500" stroke-width="1.3" opacity="0.75" fill="none"/>
<path d="M742.1 1037.1V1070.5M739.1 1037.1H745.1M739.1 1070.5H745.1" stroke="#ffa500" stroke-width="1.3" opacity="0.75" fill="none"/>
<path d="M750 1041.4V1061.1M747 1041.4H753M747 1061.1H753" stroke="#ffa500" stroke-width="1.3" opacity="0.75" fill="none"/>
<path d="M757.9 1035.6V1061.8M754.9 1035.6H760.9M754.9 1061.8H760.9" stroke="#ffa500" stroke-width="1.3" opacity="0.75" fill="none"/>
<path d="M765.8 1032.5V1059.7M762.8 1032.5H768.8M762.8 1059.7H768.8" stroke="#ffa500" stroke-width="1.3" opacity="0.75" fill="none"/>
<path d="M773.7 1025.4V1061.8M770.7 1025.4H776.7M770.7 1061.8H776.7" stroke="#ffa500" stroke-width="1.3" opacity="0.75" fill="none"/>
<path d="M813.1 1038.9V1064.6M810.1 1038.9H816.1M810.1 1064.6H816.1" stroke="#ffa500" stroke-width="1.3" opacity="0.75" fill="none"/>
<path d="M852.6 1031.5V1072M849.6 1031.5H855.6M849.6 1072H855.6" stroke="#ffa500" stroke-width="1.3" opacity="0.75" fill="none"/>
<path d="M931.5 1059.9V1099M928.5 1059.9H934.5M928.5 1099H934.5" stroke="#ffa500" stroke-width="1.3" opacity="0.75" fill="none"/>
<path d="M1010.4 1096.4V1144.4M1007.4 1096.4H1013.4M1007.4 1144.4H1013.4" stroke="#ffa500" stroke-width="1.3" opacity="0.75" fill="none"/>
<path d="M619.3 1064.7L628.3 1073.7M619.3 1073.7L628.3 1064.7" stroke="#ffa500" stroke-width="2.6" fill="none"/>
<path d="M627.2 1067.8L636.2 1076.8M627.2 1076.8L636.2 1067.8" stroke="#ffa500" stroke-width="2.6" fill="none"/>
<path d="M635.1 1067.2L644.1 1076.2M635.1 1076.2L644.1 1067.2" stroke="#ffa500" stroke-width="2.6" fill="none"/>
<path d="M643 1066.7L652 1075.7M643 1075.7L652 1066.7" stroke="#ffa500" stroke-width="2.6" fill="none"/>
<path d="M650.9 1066.2L659.9 1075.2M650.9 1075.2L659.9 1066.2" stroke="#ffa500" stroke-width="2.6" fill="none"/>
<path d="M658.7 1065.7L667.7 1074.7M658.7 1074.7L667.7 1065.7" stroke="#ffa500" stroke-width="2.6" fill="none"/>
<path d="M666.6 1065.2L675.6 1074.2M666.6 1074.2L675.6 1065.2" stroke="#ffa500" stroke-width="2.6" fill="none"/>
<path d="M674.5 1064.7L683.5 1073.7M674.5 1073.7L683.5 1064.7" stroke="#ffa500" stroke-width="2.6" fill="none"/>
<path d="M682.4 1063.9L691.4 1072.9M682.4 1072.9L691.4 1063.9" stroke="#ffa500" stroke-width="2.6" fill="none"/>
<path d="M690.3 1063.1L699.3 1072.1M690.3 1072.1L699.3 1063.1" stroke="#ffa500" stroke-width="2.6" fill="none"/>
<path d="M698.2 1062.4L707.2 1071.4M698.2 1071.4L707.2 1062.4" stroke="#ffa500" stroke-width="2.6" fill="none"/>
<path d="M706.1 1061.6L715.1 1070.6M706.1 1070.6L715.1 1061.6" stroke="#ffa500" stroke-width="2.6" fill="none"/>
<path d="M714 1060.6L723 1069.6M714 1069.6L723 1060.6" stroke="#ffa500" stroke-width="2.6" fill="none"/>
<path d="M721.9 1059.6L730.9 1068.6M721.9 1068.6L730.9 1059.6" stroke="#ffa500" stroke-width="2.6" fill="none"/>
<path d="M729.8 1054.4L738.8 1063.4M729.8 1063.4L738.8 1054.4" stroke="#ffa500" stroke-width="2.6" fill="none"/>
<path d="M737.6 1049.3L746.6 1058.3M737.6 1058.3L746.6 1049.3" stroke="#ffa500" stroke-width="2.6" fill="none"/>
<path d="M745.5 1046.8L754.5 1055.8M745.5 1055.8L754.5 1046.8" stroke="#ffa500" stroke-width="2.6" fill="none"/>
<path d="M753.4 1044.2L762.4 1053.2M753.4 1053.2L762.4 1044.2" stroke="#ffa500" stroke-width="2.6" fill="none"/>
<path d="M761.3 1041.6L770.3 1050.6M761.3 1050.6L770.3 1041.6" stroke="#ffa500" stroke-width="2.6" fill="none"/>
<path d="M769.2 1039.1L778.2 1048.1M769.2 1048.1L778.2 1039.1" stroke="#ffa500" stroke-width="2.6" fill="none"/>
<path d="M808.6 1047.3L817.6 1056.3M808.6 1056.3L817.6 1047.3" stroke="#ffa500" stroke-width="2.6" fill="none"/>
<path d="M848.1 1047.3L857.1 1056.3M848.1 1056.3L857.1 1047.3" stroke="#ffa500" stroke-width="2.6" fill="none"/>
<path d="M927 1074.9L936 1083.9M927 1083.9L936 1074.9" stroke="#ffa500" stroke-width="2.6" fill="none"/>
<path d="M1005.9 1115.9L1014.9 1124.9M1005.9 1124.9L1014.9 1115.9" stroke="#ffa500" stroke-width="2.6" fill="none"/>
<polyline points="623.8,1069.2 631.7,1064.1 639.6,1060.5 647.5,1056.9 655.4,1062 663.2,1067.1 671.1,1065.6 679,1064.1 686.9,1057.9 694.8,1051.8 702.7,1052.8 710.6,1053.8 718.5,1048.7 726.4,1043.6 734.2,1038.5 742.1,1033.3 750,1035.9 757.9,1038.5 765.8,1036.9 773.7,1035.4 813.1,1025.1 852.6,1040.5 931.5,1026.2" fill="none" stroke="#800080" stroke-width="1.6" stroke-linejoin="round" stroke-linecap="round" stroke-linecap="butt"/>
<path d="M623.8 1058V1080.4M620.8 1058H626.8M620.8 1080.4H626.8" stroke="#800080" stroke-width="1.3" opacity="0.75" fill="none"/>
<path d="M631.7 1051.5V1076.7M628.7 1051.5H634.7M628.7 1076.7H634.7" stroke="#800080" stroke-width="1.3" opacity="0.75" fill="none"/>
<path d="M639.6 1052.1V1068.9M636.6 1052.1H642.6M636.6 1068.9H642.6" stroke="#800080" stroke-width="1.3" opacity="0.75" fill="none"/>
<path d="M647.5 1048.6V1065.1M644.5 1048.6H650.5M644.5 1065.1H650.5" stroke="#800080" stroke-width="1.3" opacity="0.75" fill="none"/>
<path d="M655.4 1053.9V1070.2M652.4 1053.9H658.4M652.4 1070.2H658.4" stroke="#800080" stroke-width="1.3" opacity="0.75" fill="none"/>
<path d="M663.2 1056V1078.2M660.2 1056H666.2M660.2 1078.2H666.2" stroke="#800080" stroke-width="1.3" opacity="0.75" fill="none"/>
<path d="M671.1 1054.5V1076.7M668.1 1054.5H674.1M668.1 1076.7H674.1" stroke="#800080" stroke-width="1.3" opacity="0.75" fill="none"/>
<path d="M679 1052V1076.1M676 1052H682M676 1076.1H682" stroke="#800080" stroke-width="1.3" opacity="0.75" fill="none"/>
<path d="M686.9 1045.9V1069.9M683.9 1045.9H689.9M683.9 1069.9H689.9" stroke="#800080" stroke-width="1.3" opacity="0.75" fill="none"/>
<path d="M694.8 1042V1061.6M691.8 1042H697.8M691.8 1061.6H697.8" stroke="#800080" stroke-width="1.3" opacity="0.75" fill="none"/>
<path d="M702.7 1042.9V1062.7M699.7 1042.9H705.7M699.7 1062.7H705.7" stroke="#800080" stroke-width="1.3" opacity="0.75" fill="none"/>
<path d="M710.6 1039.8V1067.8M707.6 1039.8H713.6M707.6 1067.8H713.6" stroke="#800080" stroke-width="1.3" opacity="0.75" fill="none"/>
<path d="M718.5 1036.6V1060.8M715.5 1036.6H721.5M715.5 1060.8H721.5" stroke="#800080" stroke-width="1.3" opacity="0.75" fill="none"/>
<path d="M726.4 1035.4V1051.8M723.4 1035.4H729.4M723.4 1051.8H729.4" stroke="#800080" stroke-width="1.3" opacity="0.75" fill="none"/>
<path d="M734.2 1028.1V1048.8M731.2 1028.1H737.2M731.2 1048.8H737.2" stroke="#800080" stroke-width="1.3" opacity="0.75" fill="none"/>
<path d="M742.1 1023.5V1043.2M739.1 1023.5H745.1M739.1 1043.2H745.1" stroke="#800080" stroke-width="1.3" opacity="0.75" fill="none"/>
<path d="M750 1024.5V1047.3M747 1024.5H753M747 1047.3H753" stroke="#800080" stroke-width="1.3" opacity="0.75" fill="none"/>
<path d="M757.9 1028.1V1048.9M754.9 1028.1H760.9M754.9 1048.9H760.9" stroke="#800080" stroke-width="1.3" opacity="0.75" fill="none"/>
<path d="M765.8 1028.2V1045.7M762.8 1028.2H768.8M762.8 1045.7H768.8" stroke="#800080" stroke-width="1.3" opacity="0.75" fill="none"/>
<path d="M773.7 1025.6V1045.2M770.7 1025.6H776.7M770.7 1045.2H776.7" stroke="#800080" stroke-width="1.3" opacity="0.75" fill="none"/>
<path d="M813.1 1012.2V1038M810.1 1012.2H816.1M810.1 1038H816.1" stroke="#800080" stroke-width="1.3" opacity="0.75" fill="none"/>
<path d="M852.6 1027V1054M849.6 1027H855.6M849.6 1054H855.6" stroke="#800080" stroke-width="1.3" opacity="0.75" fill="none"/>
<path d="M931.5 1011.8V1040.5M928.5 1011.8H934.5M928.5 1040.5H934.5" stroke="#800080" stroke-width="1.3" opacity="0.75" fill="none"/>
<path d="M623.8 1063.7L626 1067L629.3 1069.2L626 1071.4L623.8 1074.7L621.6 1071.4L618.3 1069.2L621.6 1067Z" fill="#800080"/>
<path d="M631.7 1058.6L633.9 1061.9L637.2 1064.1L633.9 1066.3L631.7 1069.6L629.5 1066.3L626.2 1064.1L629.5 1061.9Z" fill="#800080"/>
<path d="M639.6 1055L641.8 1058.3L645.1 1060.5L641.8 1062.7L639.6 1066L637.4 1062.7L634.1 1060.5L637.4 1058.3Z" fill="#800080"/>
<path d="M647.5 1051.4L649.7 1054.7L653 1056.9L649.7 1059.1L647.5 1062.4L645.3 1059.1L642 1056.9L645.3 1054.7Z" fill="#800080"/>
<path d="M655.4 1056.5L657.6 1059.8L660.9 1062L657.6 1064.2L655.4 1067.5L653.1 1064.2L649.9 1062L653.1 1059.8Z" fill="#800080"/>
<path d="M663.2 1061.6L665.4 1064.9L668.7 1067.1L665.4 1069.3L663.2 1072.6L661 1069.3L657.7 1067.1L661 1064.9Z" fill="#800080"/>
<path d="M671.1 1060.1L673.3 1063.4L676.6 1065.6L673.3 1067.8L671.1 1071.1L668.9 1067.8L665.6 1065.6L668.9 1063.4Z" fill="#800080"/>
<path d="M679 1058.6L681.2 1061.9L684.5 1064.1L681.2 1066.3L679 1069.6L676.8 1066.3L673.5 1064.1L676.8 1061.9Z" fill="#800080"/>
<path d="M686.9 1052.4L689.1 1055.7L692.4 1057.9L689.1 1060.1L686.9 1063.4L684.7 1060.1L681.4 1057.9L684.7 1055.7Z" fill="#800080"/>
<path d="M694.8 1046.3L697 1049.6L700.3 1051.8L697 1054L694.8 1057.3L692.6 1054L689.3 1051.8L692.6 1049.6Z" fill="#800080"/>
<path d="M702.7 1047.3L704.9 1050.6L708.2 1052.8L704.9 1055L702.7 1058.3L700.5 1055L697.2 1052.8L700.5 1050.6Z" fill="#800080"/>
<path d="M710.6 1048.3L712.8 1051.6L716.1 1053.8L712.8 1056L710.6 1059.3L708.4 1056L705.1 1053.8L708.4 1051.6Z" fill="#800080"/>
<path d="M718.5 1043.2L720.7 1046.5L724 1048.7L720.7 1050.9L718.5 1054.2L716.3 1050.9L713 1048.7L716.3 1046.5Z" fill="#800080"/>
<path d="M726.4 1038.1L728.6 1041.4L731.9 1043.6L728.6 1045.8L726.4 1049.1L724.2 1045.8L720.9 1043.6L724.2 1041.4Z" fill="#800080"/>
<path d="M734.2 1033L736.5 1036.3L739.8 1038.5L736.5 1040.7L734.2 1044L732 1040.7L728.8 1038.5L732 1036.3Z" fill="#800080"/>
<path d="M742.1 1027.8L744.3 1031.1L747.6 1033.3L744.3 1035.5L742.1 1038.8L739.9 1035.5L736.6 1033.3L739.9 1031.1Z" fill="#800080"/>
<path d="M750 1030.4L752.2 1033.7L755.5 1035.9L752.2 1038.1L750 1041.4L747.8 1038.1L744.5 1035.9L747.8 1033.7Z" fill="#800080"/>
<path d="M757.9 1033L760.1 1036.3L763.4 1038.5L760.1 1040.7L757.9 1044L755.7 1040.7L752.4 1038.5L755.7 1036.3Z" fill="#800080"/>
<path d="M765.8 1031.4L768 1034.7L771.3 1036.9L768 1039.1L765.8 1042.4L763.6 1039.1L760.3 1036.9L763.6 1034.7Z" fill="#800080"/>
<path d="M773.7 1029.9L775.9 1033.2L779.2 1035.4L775.9 1037.6L773.7 1040.9L771.5 1037.6L768.2 1035.4L771.5 1033.2Z" fill="#800080"/>
<path d="M813.1 1019.6L815.4 1022.9L818.6 1025.1L815.4 1027.3L813.1 1030.6L810.9 1027.3L807.6 1025.1L810.9 1022.9Z" fill="#800080"/>
<path d="M852.6 1035L854.8 1038.3L858.1 1040.5L854.8 1042.7L852.6 1046L850.4 1042.7L847.1 1040.5L850.4 1038.3Z" fill="#800080"/>
<path d="M931.5 1020.7L933.7 1024L937 1026.2L933.7 1028.4L931.5 1031.7L929.3 1028.4L926 1026.2L929.3 1024Z" fill="#800080"/>
</g>
<rect x="604.9" y="842" width="424.8" height="364" fill="none" stroke="#808080" stroke-width="2.6"/>
<line x1="615.9" y1="1206" x2="615.9" y2="1212.5" stroke="#808080" stroke-width="2.2"/>
<text x="615.9" y="1236" font-size="24" font-family="'DejaVu Sans', 'Liberation Sans', sans-serif" text-anchor="middle" fill="#303030" stroke="#303030" stroke-width="0.15">0</text>
<line x1="694.8" y1="1206" x2="694.8" y2="1212.5" stroke="#808080" stroke-width="2.2"/>
<text x="694.8" y="1236" font-size="24" font-family="'DejaVu Sans', 'Liberation Sans', sans-serif" text-anchor="middle" fill="#303030" stroke="#303030" stroke-width="0.15">50</text>
<line x1="773.7" y1="1206" x2="773.7" y2="1212.5" stroke="#808080" stroke-width="2.2"/>
<text x="773.7" y="1236" font-size="24" font-family="'DejaVu Sans', 'Liberation Sans', sans-serif" text-anchor="middle" fill="#303030" stroke="#303030" stroke-width="0.15">100</text>
<line x1="852.6" y1="1206" x2="852.6" y2="1212.5" stroke="#808080" stroke-width="2.2"/>
<text x="852.6" y="1236" font-size="24" font-family="'DejaVu Sans', 'Liberation Sans', sans-serif" text-anchor="middle" fill="#303030" stroke="#303030" stroke-width="0.15">150</text>
<line x1="931.5" y1="1206" x2="931.5" y2="1212.5" stroke="#808080" stroke-width="2.2"/>
<text x="931.5" y="1236" font-size="24" font-family="'DejaVu Sans', 'Liberation Sans', sans-serif" text-anchor="middle" fill="#303030" stroke="#303030" stroke-width="0.15">200</text>
<line x1="1010.4" y1="1206" x2="1010.4" y2="1212.5" stroke="#808080" stroke-width="2.2"/>
<text x="1010.4" y="1236" font-size="24" font-family="'DejaVu Sans', 'Liberation Sans', sans-serif" text-anchor="middle" fill="#303030" stroke="#303030" stroke-width="0.15">250</text>
<line x1="598.4" y1="869.5" x2="604.9" y2="869.5" stroke="#808080" stroke-width="2.2"/>
<text x="593.4" y="878.1" font-size="24" font-family="'DejaVu Sans', 'Liberation Sans', sans-serif" text-anchor="end" fill="#303030" stroke="#303030" stroke-width="0.15">2.0</text>
<line x1="598.4" y1="920.7" x2="604.9" y2="920.7" stroke="#808080" stroke-width="2.2"/>
<text x="593.4" y="929.3" font-size="24" font-family="'DejaVu Sans', 'Liberation Sans', sans-serif" text-anchor="end" fill="#303030" stroke="#303030" stroke-width="0.15">1.5</text>
<line x1="598.4" y1="971.9" x2="604.9" y2="971.9" stroke="#808080" stroke-width="2.2"/>
<text x="593.4" y="980.5" font-size="24" font-family="'DejaVu Sans', 'Liberation Sans', sans-serif" text-anchor="end" fill="#303030" stroke="#303030" stroke-width="0.15">1.0</text>
<line x1="598.4" y1="1023.1" x2="604.9" y2="1023.1" stroke="#808080" stroke-width="2.2"/>
<text x="593.4" y="1031.7" font-size="24" font-family="'DejaVu Sans', 'Liberation Sans', sans-serif" text-anchor="end" fill="#303030" stroke="#303030" stroke-width="0.15">0.5</text>
<line x1="598.4" y1="1074.3" x2="604.9" y2="1074.3" stroke="#808080" stroke-width="2.2"/>
<text x="593.4" y="1082.9" font-size="24" font-family="'DejaVu Sans', 'Liberation Sans', sans-serif" text-anchor="end" fill="#303030" stroke="#303030" stroke-width="0.15">0.0</text>
<line x1="598.4" y1="1125.5" x2="604.9" y2="1125.5" stroke="#808080" stroke-width="2.2"/>
<text x="593.4" y="1134.1" font-size="24" font-family="'DejaVu Sans', 'Liberation Sans', sans-serif" text-anchor="end" fill="#303030" stroke="#303030" stroke-width="0.15">−0.5</text>
<line x1="598.4" y1="1176.7" x2="604.9" y2="1176.7" stroke="#808080" stroke-width="2.2"/>
<text x="593.4" y="1185.3" font-size="24" font-family="'DejaVu Sans', 'Liberation Sans', sans-serif" text-anchor="end" fill="#303030" stroke="#303030" stroke-width="0.15">−1.0</text>
<path d="M1010.4 1120.4V1189" stroke="#ffa500" stroke-width="1.3" opacity="0.8"/>
<defs><clipPath id="cf3"><rect x="1103.9" y="842" width="424.8" height="364"/></clipPath></defs>
<g clip-path="url(#cf3)">
<line x1="1103.9" y1="1008.4" x2="1528.7" y2="1008.4" stroke="#c8c8c8" stroke-width="1.2" stroke-dasharray="2 2"/>
<line x1="1232.2" y1="842" x2="1232.2" y2="1206" stroke="#c8c8c8" stroke-width="1.2" stroke-dasharray="2 2"/>
<polyline points="1123.8,1008.4 1131.7,1021.4 1163.1,992.1 1210.2,962.8 1225.9,943.3 1241.6,943.3 1257.3,979.1 1304.4,959.6 1351.5,967.7 1430,1075.1 1508.5,1146.7" fill="none" stroke="#999999" stroke-width="1.5" stroke-linejoin="round" stroke-linecap="round" stroke-linecap="butt"/>
<path d="M1123.8 985.5V1031.3M1120.8 985.5H1126.8M1120.8 1031.3H1126.8" stroke="#999999" stroke-width="1.3" opacity="0.75" fill="none"/>
<path d="M1131.7 996.8V1046M1128.7 996.8H1134.7M1128.7 1046H1134.7" stroke="#999999" stroke-width="1.3" opacity="0.75" fill="none"/>
<path d="M1163.1 970.2V1014.1M1160.1 970.2H1166.1M1160.1 1014.1H1166.1" stroke="#999999" stroke-width="1.3" opacity="0.75" fill="none"/>
<path d="M1210.2 935.2V990.4M1207.2 935.2H1213.2M1207.2 990.4H1213.2" stroke="#999999" stroke-width="1.3" opacity="0.75" fill="none"/>
<path d="M1225.9 915.2V971.4M1222.9 915.2H1228.9M1222.9 971.4H1228.9" stroke="#999999" stroke-width="1.3" opacity="0.75" fill="none"/>
<path d="M1241.6 916.4V970.2M1238.6 916.4H1244.6M1238.6 970.2H1244.6" stroke="#999999" stroke-width="1.3" opacity="0.75" fill="none"/>
<path d="M1257.3 948.8V1009.5M1254.3 948.8H1260.3M1254.3 1009.5H1260.3" stroke="#999999" stroke-width="1.3" opacity="0.75" fill="none"/>
<path d="M1304.4 927.5V991.7M1301.4 927.5H1307.4M1301.4 991.7H1307.4" stroke="#999999" stroke-width="1.3" opacity="0.75" fill="none"/>
<path d="M1351.5 944.4V991M1348.5 944.4H1354.5M1348.5 991H1354.5" stroke="#999999" stroke-width="1.3" opacity="0.75" fill="none"/>
<path d="M1430 1046.8V1103.4M1427 1046.8H1433M1427 1103.4H1433" stroke="#999999" stroke-width="1.3" opacity="0.75" fill="none"/>
<path d="M1508.5 1103.3V1190.1M1505.5 1103.3H1511.5M1505.5 1190.1H1511.5" stroke="#999999" stroke-width="1.3" opacity="0.75" fill="none"/>
<polygon points="1123.8,1002.6 1118,1013 1129.6,1013" fill="#999999"/>
<polygon points="1131.7,1015.6 1125.9,1026.1 1137.5,1026.1" fill="#999999"/>
<polygon points="1163.1,986.3 1157.3,996.8 1168.9,996.8" fill="#999999"/>
<polygon points="1210.2,957 1204.4,967.5 1216,967.5" fill="#999999"/>
<polygon points="1225.9,937.5 1220.1,948 1231.7,948" fill="#999999"/>
<polygon points="1241.6,937.5 1235.8,948 1247.4,948" fill="#999999"/>
<polygon points="1257.3,973.3 1251.5,983.8 1263.1,983.8" fill="#999999"/>
<polygon points="1304.4,953.8 1298.6,964.2 1310.2,964.2" fill="#999999"/>
<polygon points="1351.5,961.9 1345.7,972.4 1357.3,972.4" fill="#999999"/>
<polygon points="1430,1069.3 1424.2,1079.7 1435.8,1079.7" fill="#999999"/>
<polygon points="1508.5,1140.9 1502.7,1151.3 1514.3,1151.3" fill="#999999"/>
<polyline points="1123.8,1005.1 1131.7,975.9 1163.1,956.3 1210.2,959.6 1225.9,940.1 1233.8,927 1241.6,884.7 1257.3,951.5 1304.4,936.8 1351.5,988.9 1430,1045.8 1508.5,1164.6" fill="none" stroke="#000000" stroke-width="1.5" stroke-linejoin="round" stroke-linecap="round" stroke-linecap="butt"/>
<path d="M1123.8 983.1V1027.2M1120.8 983.1H1126.8M1120.8 1027.2H1126.8" stroke="#000000" stroke-width="1.3" opacity="0.75" fill="none"/>
<path d="M1131.7 961.5V990.2M1128.7 961.5H1134.7M1128.7 990.2H1134.7" stroke="#000000" stroke-width="1.3" opacity="0.75" fill="none"/>
<path d="M1163.1 935.9V976.8M1160.1 935.9H1166.1M1160.1 976.8H1166.1" stroke="#000000" stroke-width="1.3" opacity="0.75" fill="none"/>
<path d="M1210.2 943.4V975.7M1207.2 943.4H1213.2M1207.2 975.7H1213.2" stroke="#000000" stroke-width="1.3" opacity="0.75" fill="none"/>
<path d="M1225.9 914.7V965.5M1222.9 914.7H1228.9M1222.9 965.5H1228.9" stroke="#000000" stroke-width="1.3" opacity="0.75" fill="none"/>
<path d="M1233.8 902.5V951.6M1230.8 902.5H1236.8M1230.8 951.6H1236.8" stroke="#000000" stroke-width="1.3" opacity="0.75" fill="none"/>
<path d="M1241.6 859V910.5M1238.6 859H1244.6M1238.6 910.5H1244.6" stroke="#000000" stroke-width="1.3" opacity="0.75" fill="none"/>
<path d="M1257.3 925.7V977.2M1254.3 925.7H1260.3M1254.3 977.2H1260.3" stroke="#000000" stroke-width="1.3" opacity="0.75" fill="none"/>
<path d="M1304.4 913.4V960.2M1301.4 913.4H1307.4M1301.4 960.2H1307.4" stroke="#000000" stroke-width="1.3" opacity="0.75" fill="none"/>
<path d="M1351.5 961.1V1016.6M1348.5 961.1H1354.5M1348.5 1016.6H1354.5" stroke="#000000" stroke-width="1.3" opacity="0.75" fill="none"/>
<path d="M1430 1020.1V1071.5M1427 1020.1H1433M1427 1071.5H1433" stroke="#000000" stroke-width="1.3" opacity="0.75" fill="none"/>
<path d="M1508.5 1136.4V1192.7M1505.5 1136.4H1511.5M1505.5 1192.7H1511.5" stroke="#000000" stroke-width="1.3" opacity="0.75" fill="none"/>
<rect x="1118.2" y="999.5" width="11.2" height="11.2" fill="#000000"/>
<rect x="1126.1" y="970.3" width="11.2" height="11.2" fill="#000000"/>
<rect x="1157.5" y="950.7" width="11.2" height="11.2" fill="#000000"/>
<rect x="1204.6" y="954" width="11.2" height="11.2" fill="#000000"/>
<rect x="1220.3" y="934.5" width="11.2" height="11.2" fill="#000000"/>
<rect x="1228.2" y="921.4" width="11.2" height="11.2" fill="#000000"/>
<rect x="1236" y="879.1" width="11.2" height="11.2" fill="#000000"/>
<rect x="1251.7" y="945.9" width="11.2" height="11.2" fill="#000000"/>
<rect x="1298.8" y="931.2" width="11.2" height="11.2" fill="#000000"/>
<rect x="1345.9" y="983.3" width="11.2" height="11.2" fill="#000000"/>
<rect x="1424.4" y="1040.2" width="11.2" height="11.2" fill="#000000"/>
<rect x="1502.9" y="1159" width="11.2" height="11.2" fill="#000000"/>
<polyline points="1139.5,1008.4 1147.4,1003.5 1155.2,998.6 1163.1,993.8 1171,988.9 1178.8,984 1186.7,978.7 1194.5,973.4 1202.3,968.1 1210.2,962.8 1218,954.7 1225.9,946.6 1233.8,940.9 1241.6,935.2 1249.5,931.1 1257.3,927 1265.2,925.4 1273,923.8 1312.2,931.9 1351.5,951.5 1430,1011.7 1508.5,1075.1" fill="none" stroke="#1d7a2c" stroke-width="1.6" stroke-linejoin="round" stroke-linecap="round" stroke-linecap="butt"/>
<path d="M1139.5 993.9V1022.9M1136.5 993.9H1142.5M1136.5 1022.9H1142.5" stroke="#1d7a2c" stroke-width="1.3" opacity="0.75" fill="none"/>
<path d="M1147.4 993.2V1013.8M1144.4 993.2H1150.4M1144.4 1013.8H1150.4" stroke="#1d7a2c" stroke-width="1.3" opacity="0.75" fill="none"/>
<path d="M1155.2 984.1V1013.1M1152.2 984.1H1158.2M1152.2 1013.1H1158.2" stroke="#1d7a2c" stroke-width="1.3" opacity="0.75" fill="none"/>
<path d="M1163.1 980.4V1007.1M1160.1 980.4H1166.1M1160.1 1007.1H1166.1" stroke="#1d7a2c" stroke-width="1.3" opacity="0.75" fill="none"/>
<path d="M1171 973.5V1004.3M1168 973.5H1174M1168 1004.3H1174" stroke="#1d7a2c" stroke-width="1.3" opacity="0.75" fill="none"/>
<path d="M1178.8 970.5V997.5M1175.8 970.5H1181.8M1175.8 997.5H1181.8" stroke="#1d7a2c" stroke-width="1.3" opacity="0.75" fill="none"/>
<path d="M1186.7 963.4V994M1183.7 963.4H1189.7M1183.7 994H1189.7" stroke="#1d7a2c" stroke-width="1.3" opacity="0.75" fill="none"/>
<path d="M1194.5 956.8V990M1191.5 956.8H1197.5M1191.5 990H1197.5" stroke="#1d7a2c" stroke-width="1.3" opacity="0.75" fill="none"/>
<path d="M1202.3 957.1V979.2M1199.3 957.1H1205.3M1199.3 979.2H1205.3" stroke="#1d7a2c" stroke-width="1.3" opacity="0.75" fill="none"/>
<path d="M1210.2 952.6V973.1M1207.2 952.6H1213.2M1207.2 973.1H1213.2" stroke="#1d7a2c" stroke-width="1.3" opacity="0.75" fill="none"/>
<path d="M1218 938.6V970.8M1215 938.6H1221M1215 970.8H1221" stroke="#1d7a2c" stroke-width="1.3" opacity="0.75" fill="none"/>
<path d="M1225.9 929.2V963.9M1222.9 929.2H1228.9M1222.9 963.9H1228.9" stroke="#1d7a2c" stroke-width="1.3" opacity="0.75" fill="none"/>
<path d="M1233.8 929.7V952M1230.8 929.7H1236.8M1230.8 952H1236.8" stroke="#1d7a2c" stroke-width="1.3" opacity="0.75" fill="none"/>
<path d="M1241.6 924.8V945.6M1238.6 924.8H1244.6M1238.6 945.6H1244.6" stroke="#1d7a2c" stroke-width="1.3" opacity="0.75" fill="none"/>
<path d="M1249.5 914V948.2M1246.5 914H1252.5M1246.5 948.2H1252.5" stroke="#1d7a2c" stroke-width="1.3" opacity="0.75" fill="none"/>
<path d="M1257.3 916.4V937.7M1254.3 916.4H1260.3M1254.3 937.7H1260.3" stroke="#1d7a2c" stroke-width="1.3" opacity="0.75" fill="none"/>
<path d="M1265.2 911.9V939M1262.2 911.9H1268.2M1262.2 939H1268.2" stroke="#1d7a2c" stroke-width="1.3" opacity="0.75" fill="none"/>
<path d="M1273 906.8V940.8M1270 906.8H1276M1270 940.8H1276" stroke="#1d7a2c" stroke-width="1.3" opacity="0.75" fill="none"/>
<path d="M1312.2 913.6V950.3M1309.2 913.6H1315.2M1309.2 950.3H1315.2" stroke="#1d7a2c" stroke-width="1.3" opacity="0.75" fill="none"/>
<path d="M1351.5 938V964.9M1348.5 938H1354.5M1348.5 964.9H1354.5" stroke="#1d7a2c" stroke-width="1.3" opacity="0.75" fill="none"/>
<path d="M1430 993.1V1030.2M1427 993.1H1433M1427 1030.2H1433" stroke="#1d7a2c" stroke-width="1.3" opacity="0.75" fill="none"/>
<path d="M1508.5 1051.8V1098.4M1505.5 1051.8H1511.5M1505.5 1098.4H1511.5" stroke="#1d7a2c" stroke-width="1.3" opacity="0.75" fill="none"/>
<circle cx="1139.5" cy="1008.4" r="4.8" fill="#1d7a2c"/>
<circle cx="1147.4" cy="1003.5" r="4.8" fill="#1d7a2c"/>
<circle cx="1155.2" cy="998.6" r="4.8" fill="#1d7a2c"/>
<circle cx="1163.1" cy="993.8" r="4.8" fill="#1d7a2c"/>
<circle cx="1171" cy="988.9" r="4.8" fill="#1d7a2c"/>
<circle cx="1178.8" cy="984" r="4.8" fill="#1d7a2c"/>
<circle cx="1186.7" cy="978.7" r="4.8" fill="#1d7a2c"/>
<circle cx="1194.5" cy="973.4" r="4.8" fill="#1d7a2c"/>
<circle cx="1202.3" cy="968.1" r="4.8" fill="#1d7a2c"/>
<circle cx="1210.2" cy="962.8" r="4.8" fill="#1d7a2c"/>
<circle cx="1218" cy="954.7" r="4.8" fill="#1d7a2c"/>
<circle cx="1225.9" cy="946.6" r="4.8" fill="#1d7a2c"/>
<circle cx="1233.8" cy="940.9" r="4.8" fill="#1d7a2c"/>
<circle cx="1241.6" cy="935.2" r="4.8" fill="#1d7a2c"/>
<circle cx="1249.5" cy="931.1" r="4.8" fill="#1d7a2c"/>
<circle cx="1257.3" cy="927" r="4.8" fill="#1d7a2c"/>
<circle cx="1265.2" cy="925.4" r="4.8" fill="#1d7a2c"/>
<circle cx="1273" cy="923.8" r="4.8" fill="#1d7a2c"/>
<circle cx="1312.2" cy="931.9" r="4.8" fill="#1d7a2c"/>
<circle cx="1351.5" cy="951.5" r="4.8" fill="#1d7a2c"/>
<circle cx="1430" cy="1011.7" r="4.8" fill="#1d7a2c"/>
<circle cx="1508.5" cy="1075.1" r="4.8" fill="#1d7a2c"/>
<polyline points="1123.8,995.4 1131.7,1008.4 1139.5,1006 1147.4,1003.5 1155.2,999.9 1163.1,996.2 1171,992.5 1178.8,988.9 1186.7,985.6 1194.5,982.4 1202.3,979.1 1210.2,975.9 1218,971.8 1225.9,967.7 1233.8,965.3 1241.6,962.8 1249.5,962.8 1257.3,962.8 1265.2,956.3 1273,949.8 1312.2,954.7 1351.5,1011.7 1430,1032.8 1508.5,1109.3" fill="none" stroke="#ffa500" stroke-width="1.6" stroke-linejoin="round" stroke-linecap="round" stroke-linecap="butt"/>
<path d="M1123.8 985.6V1005.1M1120.8 985.6H1126.8M1120.8 1005.1H1126.8" stroke="#ffa500" stroke-width="1.3" opacity="0.75" fill="none"/>
<path d="M1131.7 999.7V1017.1M1128.7 999.7H1134.7M1128.7 1017.1H1134.7" stroke="#ffa500" stroke-width="1.3" opacity="0.75" fill="none"/>
<path d="M1139.5 993.4V1018.5M1136.5 993.4H1142.5M1136.5 1018.5H1142.5" stroke="#ffa500" stroke-width="1.3" opacity="0.75" fill="none"/>
<path d="M1147.4 989.8V1017.3M1144.4 989.8H1150.4M1144.4 1017.3H1150.4" stroke="#ffa500" stroke-width="1.3" opacity="0.75" fill="none"/>
<path d="M1155.2 990V1009.7M1152.2 990H1158.2M1152.2 1009.7H1158.2" stroke="#ffa500" stroke-width="1.3" opacity="0.75" fill="none"/>
<path d="M1163.1 986.5V1005.9M1160.1 986.5H1166.1M1160.1 1005.9H1166.1" stroke="#ffa500" stroke-width="1.3" opacity="0.75" fill="none"/>
<path d="M1171 979.3V1005.7M1168 979.3H1174M1168 1005.7H1174" stroke="#ffa500" stroke-width="1.3" opacity="0.75" fill="none"/>
<path d="M1178.8 979.9V997.9M1175.8 979.9H1181.8M1175.8 997.9H1181.8" stroke="#ffa500" stroke-width="1.3" opacity="0.75" fill="none"/>
<path d="M1186.7 974.1V997.1M1183.7 974.1H1189.7M1183.7 997.1H1189.7" stroke="#ffa500" stroke-width="1.3" opacity="0.75" fill="none"/>
<path d="M1194.5 972.8V992M1191.5 972.8H1197.5M1191.5 992H1197.5" stroke="#ffa500" stroke-width="1.3" opacity="0.75" fill="none"/>
<path d="M1202.3 968.2V990M1199.3 968.2H1205.3M1199.3 990H1205.3" stroke="#ffa500" stroke-width="1.3" opacity="0.75" fill="none"/>
<path d="M1210.2 967.3V984.4M1207.2 967.3H1213.2M1207.2 984.4H1213.2" stroke="#ffa500" stroke-width="1.3" opacity="0.75" fill="none"/>
<path d="M1218 958.2V985.4M1215 958.2H1221M1215 985.4H1221" stroke="#ffa500" stroke-width="1.3" opacity="0.75" fill="none"/>
<path d="M1225.9 957.7V977.7M1222.9 957.7H1228.9M1222.9 977.7H1228.9" stroke="#ffa500" stroke-width="1.3" opacity="0.75" fill="none"/>
<path d="M1233.8 953.4V977.2M1230.8 953.4H1236.8M1230.8 977.2H1236.8" stroke="#ffa500" stroke-width="1.3" opacity="0.75" fill="none"/>
<path d="M1241.6 947.7V978M1238.6 947.7H1244.6M1238.6 978H1244.6" stroke="#ffa500" stroke-width="1.3" opacity="0.75" fill="none"/>
<path d="M1249.5 953.9V971.8M1246.5 953.9H1252.5M1246.5 971.8H1252.5" stroke="#ffa500" stroke-width="1.3" opacity="0.75" fill="none"/>
<path d="M1257.3 951V974.7M1254.3 951H1260.3M1254.3 974.7H1260.3" stroke="#ffa500" stroke-width="1.3" opacity="0.75" fill="none"/>
<path d="M1265.2 944V968.7M1262.2 944H1268.2M1262.2 968.7H1268.2" stroke="#ffa500" stroke-width="1.3" opacity="0.75" fill="none"/>
<path d="M1273 933.3V966.4M1270 933.3H1276M1270 966.4H1276" stroke="#ffa500" stroke-width="1.3" opacity="0.75" fill="none"/>
<path d="M1312.2 943.1V966.4M1309.2 943.1H1315.2M1309.2 966.4H1315.2" stroke="#ffa500" stroke-width="1.3" opacity="0.75" fill="none"/>
<path d="M1351.5 993.2V1030.1M1348.5 993.2H1354.5M1348.5 1030.1H1354.5" stroke="#ffa500" stroke-width="1.3" opacity="0.75" fill="none"/>
<path d="M1430 1015.1V1050.6M1427 1015.1H1433M1427 1050.6H1433" stroke="#ffa500" stroke-width="1.3" opacity="0.75" fill="none"/>
<path d="M1508.5 1087.5V1131M1505.5 1087.5H1511.5M1505.5 1131H1511.5" stroke="#ffa500" stroke-width="1.3" opacity="0.75" fill="none"/>
<path d="M1119.3 990.9L1128.3 999.9M1119.3 999.9L1128.3 990.9" stroke="#ffa500" stroke-width="2.6" fill="none"/>
<path d="M1127.2 1003.9L1136.2 1012.9M1127.2 1012.9L1136.2 1003.9" stroke="#ffa500" stroke-width="2.6" fill="none"/>
<path d="M1135 1001.5L1144 1010.5M1135 1010.5L1144 1001.5" stroke="#ffa500" stroke-width="2.6" fill="none"/>
<path d="M1142.9 999L1151.9 1008M1142.9 1008L1151.9 999" stroke="#ffa500" stroke-width="2.6" fill="none"/>
<path d="M1150.8 995.4L1159.8 1004.4M1150.8 1004.4L1159.8 995.4" stroke="#ffa500" stroke-width="2.6" fill="none"/>
<path d="M1158.6 991.7L1167.6 1000.7M1158.6 1000.7L1167.6 991.7" stroke="#ffa500" stroke-width="2.6" fill="none"/>
<path d="M1166.5 988L1175.5 997M1166.5 997L1175.5 988" stroke="#ffa500" stroke-width="2.6" fill="none"/>
<path d="M1174.3 984.4L1183.3 993.4M1174.3 993.4L1183.3 984.4" stroke="#ffa500" stroke-width="2.6" fill="none"/>
<path d="M1182.2 981.1L1191.2 990.1M1182.2 990.1L1191.2 981.1" stroke="#ffa500" stroke-width="2.6" fill="none"/>
<path d="M1190 977.9L1199 986.9M1190 986.9L1199 977.9" stroke="#ffa500" stroke-width="2.6" fill="none"/>
<path d="M1197.8 974.6L1206.8 983.6M1197.8 983.6L1206.8 974.6" stroke="#ffa500" stroke-width="2.6" fill="none"/>
<path d="M1205.7 971.4L1214.7 980.4M1205.7 980.4L1214.7 971.4" stroke="#ffa500" stroke-width="2.6" fill="none"/>
<path d="M1213.5 967.3L1222.5 976.3M1213.5 976.3L1222.5 967.3" stroke="#ffa500" stroke-width="2.6" fill="none"/>
<path d="M1221.4 963.2L1230.4 972.2M1221.4 972.2L1230.4 963.2" stroke="#ffa500" stroke-width="2.6" fill="none"/>
<path d="M1229.2 960.8L1238.2 969.8M1229.2 969.8L1238.2 960.8" stroke="#ffa500" stroke-width="2.6" fill="none"/>
<path d="M1237.1 958.3L1246.1 967.3M1237.1 967.3L1246.1 958.3" stroke="#ffa500" stroke-width="2.6" fill="none"/>
<path d="M1245 958.3L1254 967.3M1245 967.3L1254 958.3" stroke="#ffa500" stroke-width="2.6" fill="none"/>
<path d="M1252.8 958.3L1261.8 967.3M1252.8 967.3L1261.8 958.3" stroke="#ffa500" stroke-width="2.6" fill="none"/>
<path d="M1260.7 951.8L1269.7 960.8M1260.7 960.8L1269.7 951.8" stroke="#ffa500" stroke-width="2.6" fill="none"/>
<path d="M1268.5 945.3L1277.5 954.3M1268.5 954.3L1277.5 945.3" stroke="#ffa500" stroke-width="2.6" fill="none"/>
<path d="M1307.8 950.2L1316.8 959.2M1307.8 959.2L1316.8 950.2" stroke="#ffa500" stroke-width="2.6" fill="none"/>
<path d="M1347 1007.2L1356 1016.2M1347 1016.2L1356 1007.2" stroke="#ffa500" stroke-width="2.6" fill="none"/>
<path d="M1425.5 1028.3L1434.5 1037.3M1425.5 1037.3L1434.5 1028.3" stroke="#ffa500" stroke-width="2.6" fill="none"/>
<path d="M1504 1104.8L1513 1113.8M1504 1113.8L1513 1104.8" stroke="#ffa500" stroke-width="2.6" fill="none"/>
<polyline points="1123.8,1000.3 1131.7,992.1 1139.5,990.5 1147.4,988.9 1155.2,984.8 1163.1,980.7 1171,971.8 1178.8,962.8 1186.7,967.7 1194.5,972.6 1202.3,968.5 1210.2,964.5 1218,958 1225.9,951.5 1233.8,939.3 1241.6,927 1249.5,930.3 1257.3,946.6 1265.2,944.1 1273,941.7 1312.2,949.8 1351.5,959.6 1430,1037.7 1508.5,1104.4" fill="none" stroke="#800080" stroke-width="1.6" stroke-linejoin="round" stroke-linecap="round" stroke-linecap="butt"/>
<path d="M1123.8 985.5V1015.1M1120.8 985.5H1126.8M1120.8 1015.1H1126.8" stroke="#800080" stroke-width="1.3" opacity="0.75" fill="none"/>
<path d="M1131.7 975.5V1008.8M1128.7 975.5H1134.7M1128.7 1008.8H1134.7" stroke="#800080" stroke-width="1.3" opacity="0.75" fill="none"/>
<path d="M1139.5 979.3V1001.7M1136.5 979.3H1142.5M1136.5 1001.7H1142.5" stroke="#800080" stroke-width="1.3" opacity="0.75" fill="none"/>
<path d="M1147.4 978V999.8M1144.4 978H1150.4M1144.4 999.8H1150.4" stroke="#800080" stroke-width="1.3" opacity="0.75" fill="none"/>
<path d="M1155.2 974V995.6M1152.2 974H1158.2M1152.2 995.6H1158.2" stroke="#800080" stroke-width="1.3" opacity="0.75" fill="none"/>
<path d="M1163.1 966.1V995.4M1160.1 966.1H1166.1M1160.1 995.4H1166.1" stroke="#800080" stroke-width="1.3" opacity="0.75" fill="none"/>
<path d="M1171 957.1V986.5M1168 957.1H1174M1168 986.5H1174" stroke="#800080" stroke-width="1.3" opacity="0.75" fill="none"/>
<path d="M1178.8 946.9V978.8M1175.8 946.9H1181.8M1175.8 978.8H1181.8" stroke="#800080" stroke-width="1.3" opacity="0.75" fill="none"/>
<path d="M1186.7 951.9V983.6M1183.7 951.9H1189.7M1183.7 983.6H1189.7" stroke="#800080" stroke-width="1.3" opacity="0.75" fill="none"/>
<path d="M1194.5 959.6V985.6M1191.5 959.6H1197.5M1191.5 985.6H1197.5" stroke="#800080" stroke-width="1.3" opacity="0.75" fill="none"/>
<path d="M1202.3 955.4V981.6M1199.3 955.4H1205.3M1199.3 981.6H1205.3" stroke="#800080" stroke-width="1.3" opacity="0.75" fill="none"/>
<path d="M1210.2 946V983M1207.2 946H1213.2M1207.2 983H1213.2" stroke="#800080" stroke-width="1.3" opacity="0.75" fill="none"/>
<path d="M1218 942V973.9M1215 942H1221M1215 973.9H1221" stroke="#800080" stroke-width="1.3" opacity="0.75" fill="none"/>
<path d="M1225.9 940.6V962.3M1222.9 940.6H1228.9M1222.9 962.3H1228.9" stroke="#800080" stroke-width="1.3" opacity="0.75" fill="none"/>
<path d="M1233.8 925.5V953M1230.8 925.5H1236.8M1230.8 953H1236.8" stroke="#800080" stroke-width="1.3" opacity="0.75" fill="none"/>
<path d="M1241.6 914V940.1M1238.6 914H1244.6M1238.6 940.1H1244.6" stroke="#800080" stroke-width="1.3" opacity="0.75" fill="none"/>
<path d="M1249.5 915.2V945.4M1246.5 915.2H1252.5M1246.5 945.4H1252.5" stroke="#800080" stroke-width="1.3" opacity="0.75" fill="none"/>
<path d="M1257.3 932.8V960.4M1254.3 932.8H1260.3M1254.3 960.4H1260.3" stroke="#800080" stroke-width="1.3" opacity="0.75" fill="none"/>
<path d="M1265.2 932.6V955.7M1262.2 932.6H1268.2M1262.2 955.7H1268.2" stroke="#800080" stroke-width="1.3" opacity="0.75" fill="none"/>
<path d="M1273 928.7V954.7M1270 928.7H1276M1270 954.7H1276" stroke="#800080" stroke-width="1.3" opacity="0.75" fill="none"/>
<path d="M1312.2 932.7V966.9M1309.2 932.7H1315.2M1309.2 966.9H1315.2" stroke="#800080" stroke-width="1.3" opacity="0.75" fill="none"/>
<path d="M1351.5 941.7V977.5M1348.5 941.7H1354.5M1348.5 977.5H1354.5" stroke="#800080" stroke-width="1.3" opacity="0.75" fill="none"/>
<path d="M1430 1018.7V1056.7M1427 1018.7H1433M1427 1056.7H1433" stroke="#800080" stroke-width="1.3" opacity="0.75" fill="none"/>
<path d="M1508.5 1083.3V1125.5M1505.5 1083.3H1511.5M1505.5 1125.5H1511.5" stroke="#800080" stroke-width="1.3" opacity="0.75" fill="none"/>
<path d="M1123.8 994.8L1126 998.1L1129.3 1000.3L1126 1002.5L1123.8 1005.8L1121.6 1002.5L1118.3 1000.3L1121.6 998.1Z" fill="#800080"/>
<path d="M1131.7 986.6L1133.9 989.9L1137.2 992.1L1133.9 994.3L1131.7 997.6L1129.5 994.3L1126.2 992.1L1129.5 989.9Z" fill="#800080"/>
<path d="M1139.5 985L1141.8 988.3L1145 990.5L1141.8 992.7L1139.5 996L1137.3 992.7L1134 990.5L1137.3 988.3Z" fill="#800080"/>
<path d="M1147.4 983.4L1149.6 986.7L1152.9 988.9L1149.6 991.1L1147.4 994.4L1145.2 991.1L1141.9 988.9L1145.2 986.7Z" fill="#800080"/>
<path d="M1155.2 979.3L1157.5 982.6L1160.8 984.8L1157.5 987L1155.2 990.3L1153 987L1149.8 984.8L1153 982.6Z" fill="#800080"/>
<path d="M1163.1 975.2L1165.3 978.5L1168.6 980.7L1165.3 982.9L1163.1 986.2L1160.9 982.9L1157.6 980.7L1160.9 978.5Z" fill="#800080"/>
<path d="M1171 966.3L1173.2 969.6L1176.5 971.8L1173.2 974L1171 977.3L1168.8 974L1165.5 971.8L1168.8 969.6Z" fill="#800080"/>
<path d="M1178.8 957.3L1181 960.6L1184.3 962.8L1181 965L1178.8 968.3L1176.6 965L1173.3 962.8L1176.6 960.6Z" fill="#800080"/>
<path d="M1186.7 962.2L1188.9 965.5L1192.2 967.7L1188.9 969.9L1186.7 973.2L1184.5 969.9L1181.2 967.7L1184.5 965.5Z" fill="#800080"/>
<path d="M1194.5 967.1L1196.7 970.4L1200 972.6L1196.7 974.8L1194.5 978.1L1192.3 974.8L1189 972.6L1192.3 970.4Z" fill="#800080"/>
<path d="M1202.3 963L1204.5 966.3L1207.8 968.5L1204.5 970.7L1202.3 974L1200.1 970.7L1196.8 968.5L1200.1 966.3Z" fill="#800080"/>
<path d="M1210.2 959L1212.4 962.3L1215.7 964.5L1212.4 966.7L1210.2 970L1208 966.7L1204.7 964.5L1208 962.3Z" fill="#800080"/>
<path d="M1218 952.5L1220.2 955.8L1223.5 958L1220.2 960.2L1218 963.5L1215.8 960.2L1212.5 958L1215.8 955.8Z" fill="#800080"/>
<path d="M1225.9 946L1228.1 949.3L1231.4 951.5L1228.1 953.7L1225.9 957L1223.7 953.7L1220.4 951.5L1223.7 949.3Z" fill="#800080"/>
<path d="M1233.8 933.8L1236 937.1L1239.2 939.3L1236 941.5L1233.8 944.8L1231.5 941.5L1228.2 939.3L1231.5 937.1Z" fill="#800080"/>
<path d="M1241.6 921.5L1243.8 924.8L1247.1 927L1243.8 929.2L1241.6 932.5L1239.4 929.2L1236.1 927L1239.4 924.8Z" fill="#800080"/>
<path d="M1249.5 924.8L1251.7 928.1L1255 930.3L1251.7 932.5L1249.5 935.8L1247.2 932.5L1244 930.3L1247.2 928.1Z" fill="#800080"/>
<path d="M1257.3 941.1L1259.5 944.4L1262.8 946.6L1259.5 948.8L1257.3 952.1L1255.1 948.8L1251.8 946.6L1255.1 944.4Z" fill="#800080"/>
<path d="M1265.2 938.6L1267.4 941.9L1270.7 944.1L1267.4 946.3L1265.2 949.6L1263 946.3L1259.7 944.1L1263 941.9Z" fill="#800080"/>
<path d="M1273 936.2L1275.2 939.5L1278.5 941.7L1275.2 943.9L1273 947.2L1270.8 943.9L1267.5 941.7L1270.8 939.5Z" fill="#800080"/>
<path d="M1312.2 944.3L1314.5 947.6L1317.8 949.8L1314.5 952L1312.2 955.3L1310 952L1306.8 949.8L1310 947.6Z" fill="#800080"/>
<path d="M1351.5 954.1L1353.7 957.4L1357 959.6L1353.7 961.8L1351.5 965.1L1349.3 961.8L1346 959.6L1349.3 957.4Z" fill="#800080"/>
<path d="M1430 1032.2L1432.2 1035.5L1435.5 1037.7L1432.2 1039.9L1430 1043.2L1427.8 1039.9L1424.5 1037.7L1427.8 1035.5Z" fill="#800080"/>
<path d="M1508.5 1098.9L1510.7 1102.2L1514 1104.4L1510.7 1106.6L1508.5 1109.9L1506.3 1106.6L1503 1104.4L1506.3 1102.2Z" fill="#800080"/>
</g>
<rect x="1103.9" y="842" width="424.8" height="364" fill="none" stroke="#808080" stroke-width="2.6"/>
<line x1="1116" y1="1206" x2="1116" y2="1212.5" stroke="#808080" stroke-width="2.2"/>
<text x="1116" y="1236" font-size="24" font-family="'DejaVu Sans', 'Liberation Sans', sans-serif" text-anchor="middle" fill="#303030" stroke="#303030" stroke-width="0.15">0</text>
<line x1="1194.5" y1="1206" x2="1194.5" y2="1212.5" stroke="#808080" stroke-width="2.2"/>
<text x="1194.5" y="1236" font-size="24" font-family="'DejaVu Sans', 'Liberation Sans', sans-serif" text-anchor="middle" fill="#303030" stroke="#303030" stroke-width="0.15">50</text>
<line x1="1273" y1="1206" x2="1273" y2="1212.5" stroke="#808080" stroke-width="2.2"/>
<text x="1273" y="1236" font-size="24" font-family="'DejaVu Sans', 'Liberation Sans', sans-serif" text-anchor="middle" fill="#303030" stroke="#303030" stroke-width="0.15">100</text>
<line x1="1351.5" y1="1206" x2="1351.5" y2="1212.5" stroke="#808080" stroke-width="2.2"/>
<text x="1351.5" y="1236" font-size="24" font-family="'DejaVu Sans', 'Liberation Sans', sans-serif" text-anchor="middle" fill="#303030" stroke="#303030" stroke-width="0.15">150</text>
<line x1="1430" y1="1206" x2="1430" y2="1212.5" stroke="#808080" stroke-width="2.2"/>
<text x="1430" y="1236" font-size="24" font-family="'DejaVu Sans', 'Liberation Sans', sans-serif" text-anchor="middle" fill="#303030" stroke="#303030" stroke-width="0.15">200</text>
<line x1="1508.5" y1="1206" x2="1508.5" y2="1212.5" stroke="#808080" stroke-width="2.2"/>
<text x="1508.5" y="1236" font-size="24" font-family="'DejaVu Sans', 'Liberation Sans', sans-serif" text-anchor="middle" fill="#303030" stroke="#303030" stroke-width="0.15">250</text>
<line x1="1097.4" y1="878.2" x2="1103.9" y2="878.2" stroke="#808080" stroke-width="2.2"/>
<text x="1092.4" y="886.8" font-size="24" font-family="'DejaVu Sans', 'Liberation Sans', sans-serif" text-anchor="end" fill="#303030" stroke="#303030" stroke-width="0.15">0.8</text>
<line x1="1097.4" y1="943.3" x2="1103.9" y2="943.3" stroke="#808080" stroke-width="2.2"/>
<text x="1092.4" y="951.9" font-size="24" font-family="'DejaVu Sans', 'Liberation Sans', sans-serif" text-anchor="end" fill="#303030" stroke="#303030" stroke-width="0.15">0.4</text>
<line x1="1097.4" y1="1008.4" x2="1103.9" y2="1008.4" stroke="#808080" stroke-width="2.2"/>
<text x="1092.4" y="1017" font-size="24" font-family="'DejaVu Sans', 'Liberation Sans', sans-serif" text-anchor="end" fill="#303030" stroke="#303030" stroke-width="0.15">0.0</text>
<line x1="1097.4" y1="1073.5" x2="1103.9" y2="1073.5" stroke="#808080" stroke-width="2.2"/>
<text x="1092.4" y="1082.1" font-size="24" font-family="'DejaVu Sans', 'Liberation Sans', sans-serif" text-anchor="end" fill="#303030" stroke="#303030" stroke-width="0.15">−0.4</text>
<line x1="1097.4" y1="1138.6" x2="1103.9" y2="1138.6" stroke="#808080" stroke-width="2.2"/>
<text x="1092.4" y="1147.2" font-size="24" font-family="'DejaVu Sans', 'Liberation Sans', sans-serif" text-anchor="end" fill="#303030" stroke="#303030" stroke-width="0.15">−0.8</text>
<defs><clipPath id="cf4"><rect x="1602.4" y="842" width="424.9" height="363.8"/></clipPath></defs>
<g clip-path="url(#cf4)">
<line x1="1602.4" y1="902.3" x2="2027.3" y2="902.3" stroke="#c8c8c8" stroke-width="1.2" stroke-dasharray="2 2"/>
<line x1="1731.1" y1="842" x2="1731.1" y2="1205.8" stroke="#c8c8c8" stroke-width="1.2" stroke-dasharray="2 2"/>
<polyline points="1623,902.3 1662.2,889.9 1709.2,879.1 1724.8,879.1 1732.7,893 1740.5,886.9 1756.1,879.1 1803.1,913.1 1850.1,950.2 1928.4,1025.8 2006.7,1104.6" fill="none" stroke="#999999" stroke-width="1.5" stroke-linejoin="round" stroke-linecap="round" stroke-linecap="butt"/>
<path d="M1623 890.1V914.5M1620 890.1H1626M1620 914.5H1626" stroke="#999999" stroke-width="1.3" opacity="0.75" fill="none"/>
<path d="M1662.2 876.2V903.7M1659.2 876.2H1665.2M1659.2 903.7H1665.2" stroke="#999999" stroke-width="1.3" opacity="0.75" fill="none"/>
<path d="M1709.2 866.6V891.7M1706.2 866.6H1712.2M1706.2 891.7H1712.2" stroke="#999999" stroke-width="1.3" opacity="0.75" fill="none"/>
<path d="M1724.8 864.1V894.2M1721.8 864.1H1727.8M1721.8 894.2H1727.8" stroke="#999999" stroke-width="1.3" opacity="0.75" fill="none"/>
<path d="M1732.7 877.9V908.2M1729.7 877.9H1735.7M1729.7 908.2H1735.7" stroke="#999999" stroke-width="1.3" opacity="0.75" fill="none"/>
<path d="M1740.5 872.5V901.2M1737.5 872.5H1743.5M1737.5 901.2H1743.5" stroke="#999999" stroke-width="1.3" opacity="0.75" fill="none"/>
<path d="M1756.1 862.9V895.3M1753.1 862.9H1759.1M1753.1 895.3H1759.1" stroke="#999999" stroke-width="1.3" opacity="0.75" fill="none"/>
<path d="M1803.1 896V930.3M1800.1 896H1806.1M1800.1 930.3H1806.1" stroke="#999999" stroke-width="1.3" opacity="0.75" fill="none"/>
<path d="M1850.1 937.7V962.6M1847.1 937.7H1853.1M1847.1 962.6H1853.1" stroke="#999999" stroke-width="1.3" opacity="0.75" fill="none"/>
<path d="M1928.4 1010.7V1040.9M1925.4 1010.7H1931.4M1925.4 1040.9H1931.4" stroke="#999999" stroke-width="1.3" opacity="0.75" fill="none"/>
<path d="M2006.7 1081.4V1127.7M2003.7 1081.4H2009.7M2003.7 1127.7H2009.7" stroke="#999999" stroke-width="1.3" opacity="0.75" fill="none"/>
<polygon points="1623,896.5 1617.2,906.9 1628.8,906.9" fill="#999999"/>
<polygon points="1662.2,884.1 1656.4,894.6 1668,894.6" fill="#999999"/>
<polygon points="1709.2,873.3 1703.4,883.8 1715,883.8" fill="#999999"/>
<polygon points="1724.8,873.3 1719,883.8 1730.6,883.8" fill="#999999"/>
<polygon points="1732.7,887.2 1726.9,897.7 1738.5,897.7" fill="#999999"/>
<polygon points="1740.5,881.1 1734.7,891.5 1746.3,891.5" fill="#999999"/>
<polygon points="1756.1,873.3 1750.3,883.8 1761.9,883.8" fill="#999999"/>
<polygon points="1803.1,907.3 1797.3,917.7 1808.9,917.7" fill="#999999"/>
<polygon points="1850.1,944.4 1844.3,954.8 1855.9,954.8" fill="#999999"/>
<polygon points="1928.4,1020 1922.6,1030.5 1934.2,1030.5" fill="#999999"/>
<polygon points="2006.7,1098.8 2000.9,1109.2 2012.5,1109.2" fill="#999999"/>
<polyline points="1623,902.3 1630.9,894.6 1662.2,874.5 1709.2,902.3 1724.8,908.5 1732.7,913.1 1740.5,917.7 1756.1,925.5 1803.1,954.8 1850.1,1025.8 1928.4,1081.4 2006.7,1149.3" fill="none" stroke="#000000" stroke-width="1.5" stroke-linejoin="round" stroke-linecap="round" stroke-linecap="butt"/>
<path d="M1623 889.4V915.2M1620 889.4H1626M1620 915.2H1626" stroke="#000000" stroke-width="1.3" opacity="0.75" fill="none"/>
<path d="M1630.9 886.2V903M1627.9 886.2H1633.9M1627.9 903H1633.9" stroke="#000000" stroke-width="1.3" opacity="0.75" fill="none"/>
<path d="M1662.2 862.6V886.4M1659.2 862.6H1665.2M1659.2 886.4H1665.2" stroke="#000000" stroke-width="1.3" opacity="0.75" fill="none"/>
<path d="M1709.2 892.9V911.7M1706.2 892.9H1712.2M1706.2 911.7H1712.2" stroke="#000000" stroke-width="1.3" opacity="0.75" fill="none"/>
<path d="M1724.8 893.6V923.3M1721.8 893.6H1727.8M1721.8 923.3H1727.8" stroke="#000000" stroke-width="1.3" opacity="0.75" fill="none"/>
<path d="M1732.7 898.8V927.4M1729.7 898.8H1735.7M1729.7 927.4H1735.7" stroke="#000000" stroke-width="1.3" opacity="0.75" fill="none"/>
<path d="M1740.5 902.7V932.8M1737.5 902.7H1743.5M1737.5 932.8H1743.5" stroke="#000000" stroke-width="1.3" opacity="0.75" fill="none"/>
<path d="M1756.1 910.4V940.5M1753.1 910.4H1759.1M1753.1 940.5H1759.1" stroke="#000000" stroke-width="1.3" opacity="0.75" fill="none"/>
<path d="M1803.1 941.1V968.5M1800.1 941.1H1806.1M1800.1 968.5H1806.1" stroke="#000000" stroke-width="1.3" opacity="0.75" fill="none"/>
<path d="M1850.1 1009.6V1042M1847.1 1009.6H1853.1M1847.1 1042H1853.1" stroke="#000000" stroke-width="1.3" opacity="0.75" fill="none"/>
<path d="M1928.4 1066.4V1096.4M1925.4 1066.4H1931.4M1925.4 1096.4H1931.4" stroke="#000000" stroke-width="1.3" opacity="0.75" fill="none"/>
<path d="M2006.7 1132.9V1165.8M2003.7 1132.9H2009.7M2003.7 1165.8H2009.7" stroke="#000000" stroke-width="1.3" opacity="0.75" fill="none"/>
<rect x="1617.4" y="896.7" width="11.2" height="11.2" fill="#000000"/>
<rect x="1625.3" y="889" width="11.2" height="11.2" fill="#000000"/>
<rect x="1656.6" y="868.9" width="11.2" height="11.2" fill="#000000"/>
<rect x="1703.6" y="896.7" width="11.2" height="11.2" fill="#000000"/>
<rect x="1719.2" y="902.9" width="11.2" height="11.2" fill="#000000"/>
<rect x="1727.1" y="907.5" width="11.2" height="11.2" fill="#000000"/>
<rect x="1734.9" y="912.1" width="11.2" height="11.2" fill="#000000"/>
<rect x="1750.5" y="919.9" width="11.2" height="11.2" fill="#000000"/>
<rect x="1797.5" y="949.2" width="11.2" height="11.2" fill="#000000"/>
<rect x="1844.5" y="1020.2" width="11.2" height="11.2" fill="#000000"/>
<rect x="1922.8" y="1075.8" width="11.2" height="11.2" fill="#000000"/>
<rect x="2001.1" y="1143.7" width="11.2" height="11.2" fill="#000000"/>
<polyline points="1623,902.3 1630.9,894.6 1638.7,905.4 1646.5,910 1654.4,902.3 1662.2,899.2 1670,900.8 1677.8,902.3 1685.7,904.6 1693.5,906.9 1701.3,910 1709.2,913.1 1717,915.4 1724.8,917.7 1732.7,921.6 1740.5,925.5 1748.3,929.3 1756.1,933.2 1764,937.8 1771.8,942.4 1811,967.1 1850.1,990.3 1928.4,1053.6 2006.7,1137" fill="none" stroke="#1d7a2c" stroke-width="1.6" stroke-linejoin="round" stroke-linecap="round" stroke-linecap="butt"/>
<path d="M1623 891.8V912.8M1620 891.8H1626M1620 912.8H1626" stroke="#1d7a2c" stroke-width="1.3" opacity="0.75" fill="none"/>
<path d="M1630.9 887.2V902M1627.9 887.2H1633.9M1627.9 902H1633.9" stroke="#1d7a2c" stroke-width="1.3" opacity="0.75" fill="none"/>
<path d="M1638.7 894.9V915.8M1635.7 894.9H1641.7M1635.7 915.8H1641.7" stroke="#1d7a2c" stroke-width="1.3" opacity="0.75" fill="none"/>
<path d="M1646.5 900.4V919.7M1643.5 900.4H1649.5M1643.5 919.7H1649.5" stroke="#1d7a2c" stroke-width="1.3" opacity="0.75" fill="none"/>
<path d="M1654.4 891.2V913.4M1651.4 891.2H1657.4M1651.4 913.4H1657.4" stroke="#1d7a2c" stroke-width="1.3" opacity="0.75" fill="none"/>
<path d="M1662.2 889.5V908.9M1659.2 889.5H1665.2M1659.2 908.9H1665.2" stroke="#1d7a2c" stroke-width="1.3" opacity="0.75" fill="none"/>
<path d="M1670 889.7V911.8M1667 889.7H1673M1667 911.8H1673" stroke="#1d7a2c" stroke-width="1.3" opacity="0.75" fill="none"/>
<path d="M1677.8 890.3V914.3M1674.8 890.3H1680.8M1674.8 914.3H1680.8" stroke="#1d7a2c" stroke-width="1.3" opacity="0.75" fill="none"/>
<path d="M1685.7 896.6V912.6M1682.7 896.6H1688.7M1682.7 912.6H1688.7" stroke="#1d7a2c" stroke-width="1.3" opacity="0.75" fill="none"/>
<path d="M1693.5 899.6V914.3M1690.5 899.6H1696.5M1690.5 914.3H1696.5" stroke="#1d7a2c" stroke-width="1.3" opacity="0.75" fill="none"/>
<path d="M1701.3 898.4V921.7M1698.3 898.4H1704.3M1698.3 921.7H1704.3" stroke="#1d7a2c" stroke-width="1.3" opacity="0.75" fill="none"/>
<path d="M1709.2 900.6V925.6M1706.2 900.6H1712.2M1706.2 925.6H1712.2" stroke="#1d7a2c" stroke-width="1.3" opacity="0.75" fill="none"/>
<path d="M1717 907.4V923.5M1714 907.4H1720M1714 923.5H1720" stroke="#1d7a2c" stroke-width="1.3" opacity="0.75" fill="none"/>
<path d="M1724.8 910.2V925.2M1721.8 910.2H1727.8M1721.8 925.2H1727.8" stroke="#1d7a2c" stroke-width="1.3" opacity="0.75" fill="none"/>
<path d="M1732.7 909.2V934M1729.7 909.2H1735.7M1729.7 934H1735.7" stroke="#1d7a2c" stroke-width="1.3" opacity="0.75" fill="none"/>
<path d="M1740.5 917.7V933.2M1737.5 917.7H1743.5M1737.5 933.2H1743.5" stroke="#1d7a2c" stroke-width="1.3" opacity="0.75" fill="none"/>
<path d="M1748.3 919.5V939.1M1745.3 919.5H1751.3M1745.3 939.1H1751.3" stroke="#1d7a2c" stroke-width="1.3" opacity="0.75" fill="none"/>
<path d="M1756.1 920.9V945.5M1753.1 920.9H1759.1M1753.1 945.5H1759.1" stroke="#1d7a2c" stroke-width="1.3" opacity="0.75" fill="none"/>
<path d="M1764 925.1V950.6M1761 925.1H1767M1761 950.6H1767" stroke="#1d7a2c" stroke-width="1.3" opacity="0.75" fill="none"/>
<path d="M1771.8 933.4V951.5M1768.8 933.4H1774.8M1768.8 951.5H1774.8" stroke="#1d7a2c" stroke-width="1.3" opacity="0.75" fill="none"/>
<path d="M1811 955.2V979.1M1808 955.2H1814M1808 979.1H1814" stroke="#1d7a2c" stroke-width="1.3" opacity="0.75" fill="none"/>
<path d="M1850.1 975.7V1004.9M1847.1 975.7H1853.1M1847.1 1004.9H1853.1" stroke="#1d7a2c" stroke-width="1.3" opacity="0.75" fill="none"/>
<path d="M1928.4 1040.6V1066.7M1925.4 1040.6H1931.4M1925.4 1066.7H1931.4" stroke="#1d7a2c" stroke-width="1.3" opacity="0.75" fill="none"/>
<path d="M2006.7 1122.6V1151.4M2003.7 1122.6H2009.7M2003.7 1151.4H2009.7" stroke="#1d7a2c" stroke-width="1.3" opacity="0.75" fill="none"/>
<circle cx="1623" cy="902.3" r="4.8" fill="#1d7a2c"/>
<circle cx="1630.9" cy="894.6" r="4.8" fill="#1d7a2c"/>
<circle cx="1638.7" cy="905.4" r="4.8" fill="#1d7a2c"/>
<circle cx="1646.5" cy="910" r="4.8" fill="#1d7a2c"/>
<circle cx="1654.4" cy="902.3" r="4.8" fill="#1d7a2c"/>
<circle cx="1662.2" cy="899.2" r="4.8" fill="#1d7a2c"/>
<circle cx="1670" cy="900.8" r="4.8" fill="#1d7a2c"/>
<circle cx="1677.8" cy="902.3" r="4.8" fill="#1d7a2c"/>
<circle cx="1685.7" cy="904.6" r="4.8" fill="#1d7a2c"/>
<circle cx="1693.5" cy="906.9" r="4.8" fill="#1d7a2c"/>
<circle cx="1701.3" cy="910" r="4.8" fill="#1d7a2c"/>
<circle cx="1709.2" cy="913.1" r="4.8" fill="#1d7a2c"/>
<circle cx="1717" cy="915.4" r="4.8" fill="#1d7a2c"/>
<circle cx="1724.8" cy="917.7" r="4.8" fill="#1d7a2c"/>
<circle cx="1732.7" cy="921.6" r="4.8" fill="#1d7a2c"/>
<circle cx="1740.5" cy="925.5" r="4.8" fill="#1d7a2c"/>
<circle cx="1748.3" cy="929.3" r="4.8" fill="#1d7a2c"/>
<circle cx="1756.1" cy="933.2" r="4.8" fill="#1d7a2c"/>
<circle cx="1764" cy="937.8" r="4.8" fill="#1d7a2c"/>
<circle cx="1771.8" cy="942.4" r="4.8" fill="#1d7a2c"/>
<circle cx="1811" cy="967.1" r="4.8" fill="#1d7a2c"/>
<circle cx="1850.1" cy="990.3" r="4.8" fill="#1d7a2c"/>
<circle cx="1928.4" cy="1053.6" r="4.8" fill="#1d7a2c"/>
<circle cx="2006.7" cy="1137" r="4.8" fill="#1d7a2c"/>
<polyline points="1623,889.9 1630.9,894.6 1638.7,898.4 1646.5,902.3 1654.4,903.8 1662.2,905.4 1670,907.7 1677.8,910 1685.7,915.4 1693.5,920.8 1701.3,925.5 1709.2,930.1 1717,934.7 1724.8,939.4 1732.7,944 1740.5,948.6 1748.3,954 1756.1,959.4 1764,963.3 1771.8,967.1 1811,998 1850.1,1033.5 1928.4,1096.8 2006.7,1175.6" fill="none" stroke="#ffa500" stroke-width="1.6" stroke-linejoin="round" stroke-linecap="round" stroke-linecap="butt"/>
<path d="M1623 881.9V898M1620 881.9H1626M1620 898H1626" stroke="#ffa500" stroke-width="1.3" opacity="0.75" fill="none"/>
<path d="M1630.9 887.3V901.8M1627.9 887.3H1633.9M1627.9 901.8H1633.9" stroke="#ffa500" stroke-width="1.3" opacity="0.75" fill="none"/>
<path d="M1638.7 888V908.8M1635.7 888H1641.7M1635.7 908.8H1641.7" stroke="#ffa500" stroke-width="1.3" opacity="0.75" fill="none"/>
<path d="M1646.5 890.9V913.7M1643.5 890.9H1649.5M1643.5 913.7H1649.5" stroke="#ffa500" stroke-width="1.3" opacity="0.75" fill="none"/>
<path d="M1654.4 895.7V912M1651.4 895.7H1657.4M1651.4 912H1657.4" stroke="#ffa500" stroke-width="1.3" opacity="0.75" fill="none"/>
<path d="M1662.2 897.3V913.5M1659.2 897.3H1665.2M1659.2 913.5H1665.2" stroke="#ffa500" stroke-width="1.3" opacity="0.75" fill="none"/>
<path d="M1670 896.7V918.7M1667 896.7H1673M1667 918.7H1673" stroke="#ffa500" stroke-width="1.3" opacity="0.75" fill="none"/>
<path d="M1677.8 902.5V917.5M1674.8 902.5H1680.8M1674.8 917.5H1680.8" stroke="#ffa500" stroke-width="1.3" opacity="0.75" fill="none"/>
<path d="M1685.7 905.9V925M1682.7 905.9H1688.7M1682.7 925H1688.7" stroke="#ffa500" stroke-width="1.3" opacity="0.75" fill="none"/>
<path d="M1693.5 912.9V928.8M1690.5 912.9H1696.5M1690.5 928.8H1696.5" stroke="#ffa500" stroke-width="1.3" opacity="0.75" fill="none"/>
<path d="M1701.3 916.4V934.5M1698.3 916.4H1704.3M1698.3 934.5H1704.3" stroke="#ffa500" stroke-width="1.3" opacity="0.75" fill="none"/>
<path d="M1709.2 923V937.2M1706.2 923H1712.2M1706.2 937.2H1712.2" stroke="#ffa500" stroke-width="1.3" opacity="0.75" fill="none"/>
<path d="M1717 923.4V946M1714 923.4H1720M1714 946H1720" stroke="#ffa500" stroke-width="1.3" opacity="0.75" fill="none"/>
<path d="M1724.8 931.1V947.7M1721.8 931.1H1727.8M1721.8 947.7H1727.8" stroke="#ffa500" stroke-width="1.3" opacity="0.75" fill="none"/>
<path d="M1732.7 934.1V953.8M1729.7 934.1H1735.7M1729.7 953.8H1735.7" stroke="#ffa500" stroke-width="1.3" opacity="0.75" fill="none"/>
<path d="M1740.5 936V961.2M1737.5 936H1743.5M1737.5 961.2H1743.5" stroke="#ffa500" stroke-width="1.3" opacity="0.75" fill="none"/>
<path d="M1748.3 946.6V961.5M1745.3 946.6H1751.3M1745.3 961.5H1751.3" stroke="#ffa500" stroke-width="1.3" opacity="0.75" fill="none"/>
<path d="M1756.1 949.6V969.3M1753.1 949.6H1759.1M1753.1 969.3H1759.1" stroke="#ffa500" stroke-width="1.3" opacity="0.75" fill="none"/>
<path d="M1764 953V973.5M1761 953H1767M1761 973.5H1767" stroke="#ffa500" stroke-width="1.3" opacity="0.75" fill="none"/>
<path d="M1771.8 953.4V980.9M1768.8 953.4H1774.8M1768.8 980.9H1774.8" stroke="#ffa500" stroke-width="1.3" opacity="0.75" fill="none"/>
<path d="M1811 988.4V1007.7M1808 988.4H1814M1808 1007.7H1814" stroke="#ffa500" stroke-width="1.3" opacity="0.75" fill="none"/>
<path d="M1850.1 1018.3V1048.8M1847.1 1018.3H1853.1M1847.1 1048.8H1853.1" stroke="#ffa500" stroke-width="1.3" opacity="0.75" fill="none"/>
<path d="M1928.4 1082.1V1111.6M1925.4 1082.1H1931.4M1925.4 1111.6H1931.4" stroke="#ffa500" stroke-width="1.3" opacity="0.75" fill="none"/>
<path d="M2006.7 1157.5V1193.7M2003.7 1157.5H2009.7M2003.7 1193.7H2009.7" stroke="#ffa500" stroke-width="1.3" opacity="0.75" fill="none"/>
<path d="M1618.5 885.4L1627.5 894.4M1618.5 894.4L1627.5 885.4" stroke="#ffa500" stroke-width="2.6" fill="none"/>
<path d="M1626.4 890.1L1635.4 899.1M1626.4 899.1L1635.4 890.1" stroke="#ffa500" stroke-width="2.6" fill="none"/>
<path d="M1634.2 893.9L1643.2 902.9M1634.2 902.9L1643.2 893.9" stroke="#ffa500" stroke-width="2.6" fill="none"/>
<path d="M1642 897.8L1651 906.8M1642 906.8L1651 897.8" stroke="#ffa500" stroke-width="2.6" fill="none"/>
<path d="M1649.9 899.3L1658.9 908.3M1649.9 908.3L1658.9 899.3" stroke="#ffa500" stroke-width="2.6" fill="none"/>
<path d="M1657.7 900.9L1666.7 909.9M1657.7 909.9L1666.7 900.9" stroke="#ffa500" stroke-width="2.6" fill="none"/>
<path d="M1665.5 903.2L1674.5 912.2M1665.5 912.2L1674.5 903.2" stroke="#ffa500" stroke-width="2.6" fill="none"/>
<path d="M1673.3 905.5L1682.3 914.5M1673.3 914.5L1682.3 905.5" stroke="#ffa500" stroke-width="2.6" fill="none"/>
<path d="M1681.2 910.9L1690.2 919.9M1681.2 919.9L1690.2 910.9" stroke="#ffa500" stroke-width="2.6" fill="none"/>
<path d="M1689 916.3L1698 925.3M1689 925.3L1698 916.3" stroke="#ffa500" stroke-width="2.6" fill="none"/>
<path d="M1696.8 921L1705.8 930M1696.8 930L1705.8 921" stroke="#ffa500" stroke-width="2.6" fill="none"/>
<path d="M1704.7 925.6L1713.7 934.6M1704.7 934.6L1713.7 925.6" stroke="#ffa500" stroke-width="2.6" fill="none"/>
<path d="M1712.5 930.2L1721.5 939.2M1712.5 939.2L1721.5 930.2" stroke="#ffa500" stroke-width="2.6" fill="none"/>
<path d="M1720.3 934.9L1729.3 943.9M1720.3 943.9L1729.3 934.9" stroke="#ffa500" stroke-width="2.6" fill="none"/>
<path d="M1728.2 939.5L1737.2 948.5M1728.2 948.5L1737.2 939.5" stroke="#ffa500" stroke-width="2.6" fill="none"/>
<path d="M1736 944.1L1745 953.1M1736 953.1L1745 944.1" stroke="#ffa500" stroke-width="2.6" fill="none"/>
<path d="M1743.8 949.5L1752.8 958.5M1743.8 958.5L1752.8 949.5" stroke="#ffa500" stroke-width="2.6" fill="none"/>
<path d="M1751.6 954.9L1760.6 963.9M1751.6 963.9L1760.6 954.9" stroke="#ffa500" stroke-width="2.6" fill="none"/>
<path d="M1759.5 958.8L1768.5 967.8M1759.5 967.8L1768.5 958.8" stroke="#ffa500" stroke-width="2.6" fill="none"/>
<path d="M1767.3 962.6L1776.3 971.6M1767.3 971.6L1776.3 962.6" stroke="#ffa500" stroke-width="2.6" fill="none"/>
<path d="M1806.5 993.5L1815.5 1002.5M1806.5 1002.5L1815.5 993.5" stroke="#ffa500" stroke-width="2.6" fill="none"/>
<path d="M1845.6 1029L1854.6 1038M1845.6 1038L1854.6 1029" stroke="#ffa500" stroke-width="2.6" fill="none"/>
<path d="M1923.9 1092.3L1932.9 1101.3M1923.9 1101.3L1932.9 1092.3" stroke="#ffa500" stroke-width="2.6" fill="none"/>
<path d="M2002.2 1171.1L2011.2 1180.1M2002.2 1180.1L2011.2 1171.1" stroke="#ffa500" stroke-width="2.6" fill="none"/>
<polyline points="1623,894.6 1630.9,889.9 1638.7,902.3 1646.5,914.7 1654.4,906.2 1662.2,897.7 1670,901.5 1677.8,905.4 1685.7,911.6 1693.5,917.7 1701.3,921.6 1709.2,925.5 1717,930.9 1724.8,936.3 1732.7,940.1 1740.5,944 1748.3,950.9 1756.1,957.9 1764,960.2 1771.8,962.5 1811,988.8 1850.1,1016.6 1928.4,1072.1 2006.7,1157.1" fill="none" stroke="#800080" stroke-width="1.6" stroke-linejoin="round" stroke-linecap="round" stroke-linecap="butt"/>
<path d="M1623 884.8V904.4M1620 884.8H1626M1620 904.4H1626" stroke="#800080" stroke-width="1.3" opacity="0.75" fill="none"/>
<path d="M1630.9 878.9V901M1627.9 878.9H1633.9M1627.9 901H1633.9" stroke="#800080" stroke-width="1.3" opacity="0.75" fill="none"/>
<path d="M1638.7 894.9V909.7M1635.7 894.9H1641.7M1635.7 909.7H1641.7" stroke="#800080" stroke-width="1.3" opacity="0.75" fill="none"/>
<path d="M1646.5 907.4V921.9M1643.5 907.4H1649.5M1643.5 921.9H1649.5" stroke="#800080" stroke-width="1.3" opacity="0.75" fill="none"/>
<path d="M1654.4 899V913.3M1651.4 899H1657.4M1651.4 913.3H1657.4" stroke="#800080" stroke-width="1.3" opacity="0.75" fill="none"/>
<path d="M1662.2 887.9V907.4M1659.2 887.9H1665.2M1659.2 907.4H1665.2" stroke="#800080" stroke-width="1.3" opacity="0.75" fill="none"/>
<path d="M1670 891.8V911.3M1667 891.8H1673M1667 911.3H1673" stroke="#800080" stroke-width="1.3" opacity="0.75" fill="none"/>
<path d="M1677.8 894.8V916M1674.8 894.8H1680.8M1674.8 916H1680.8" stroke="#800080" stroke-width="1.3" opacity="0.75" fill="none"/>
<path d="M1685.7 901V922.1M1682.7 901H1688.7M1682.7 922.1H1688.7" stroke="#800080" stroke-width="1.3" opacity="0.75" fill="none"/>
<path d="M1693.5 909.1V926.4M1690.5 909.1H1696.5M1690.5 926.4H1696.5" stroke="#800080" stroke-width="1.3" opacity="0.75" fill="none"/>
<path d="M1701.3 912.9V930.3M1698.3 912.9H1704.3M1698.3 930.3H1704.3" stroke="#800080" stroke-width="1.3" opacity="0.75" fill="none"/>
<path d="M1709.2 913.2V937.8M1706.2 913.2H1712.2M1706.2 937.8H1712.2" stroke="#800080" stroke-width="1.3" opacity="0.75" fill="none"/>
<path d="M1717 920.3V941.5M1714 920.3H1720M1714 941.5H1720" stroke="#800080" stroke-width="1.3" opacity="0.75" fill="none"/>
<path d="M1724.8 929V943.5M1721.8 929H1727.8M1721.8 943.5H1727.8" stroke="#800080" stroke-width="1.3" opacity="0.75" fill="none"/>
<path d="M1732.7 931V949.3M1729.7 931H1735.7M1729.7 949.3H1735.7" stroke="#800080" stroke-width="1.3" opacity="0.75" fill="none"/>
<path d="M1740.5 935.3V952.6M1737.5 935.3H1743.5M1737.5 952.6H1743.5" stroke="#800080" stroke-width="1.3" opacity="0.75" fill="none"/>
<path d="M1748.3 940.9V960.9M1745.3 940.9H1751.3M1745.3 960.9H1751.3" stroke="#800080" stroke-width="1.3" opacity="0.75" fill="none"/>
<path d="M1756.1 948.7V967M1753.1 948.7H1759.1M1753.1 967H1759.1" stroke="#800080" stroke-width="1.3" opacity="0.75" fill="none"/>
<path d="M1764 952.5V967.9M1761 952.5H1767M1761 967.9H1767" stroke="#800080" stroke-width="1.3" opacity="0.75" fill="none"/>
<path d="M1771.8 953.9V971.1M1768.8 953.9H1774.8M1768.8 971.1H1774.8" stroke="#800080" stroke-width="1.3" opacity="0.75" fill="none"/>
<path d="M1811 977.4V1000.1M1808 977.4H1814M1808 1000.1H1814" stroke="#800080" stroke-width="1.3" opacity="0.75" fill="none"/>
<path d="M1850.1 1004.7V1028.4M1847.1 1004.7H1853.1M1847.1 1028.4H1853.1" stroke="#800080" stroke-width="1.3" opacity="0.75" fill="none"/>
<path d="M1928.4 1059.5V1084.7M1925.4 1059.5H1931.4M1925.4 1084.7H1931.4" stroke="#800080" stroke-width="1.3" opacity="0.75" fill="none"/>
<path d="M2006.7 1143.1V1171.1M2003.7 1143.1H2009.7M2003.7 1171.1H2009.7" stroke="#800080" stroke-width="1.3" opacity="0.75" fill="none"/>
<path d="M1623 889.1L1625.2 892.4L1628.5 894.6L1625.2 896.8L1623 900.1L1620.8 896.8L1617.5 894.6L1620.8 892.4Z" fill="#800080"/>
<path d="M1630.9 884.4L1633.1 887.7L1636.4 889.9L1633.1 892.1L1630.9 895.4L1628.7 892.1L1625.4 889.9L1628.7 887.7Z" fill="#800080"/>
<path d="M1638.7 896.8L1640.9 900.1L1644.2 902.3L1640.9 904.5L1638.7 907.8L1636.5 904.5L1633.2 902.3L1636.5 900.1Z" fill="#800080"/>
<path d="M1646.5 909.2L1648.7 912.5L1652 914.7L1648.7 916.9L1646.5 920.2L1644.3 916.9L1641 914.7L1644.3 912.5Z" fill="#800080"/>
<path d="M1654.4 900.7L1656.6 904L1659.9 906.2L1656.6 908.4L1654.4 911.7L1652.2 908.4L1648.9 906.2L1652.2 904Z" fill="#800080"/>
<path d="M1662.2 892.2L1664.4 895.5L1667.7 897.7L1664.4 899.9L1662.2 903.2L1660 899.9L1656.7 897.7L1660 895.5Z" fill="#800080"/>
<path d="M1670 896L1672.2 899.3L1675.5 901.5L1672.2 903.7L1670 907L1667.8 903.7L1664.5 901.5L1667.8 899.3Z" fill="#800080"/>
<path d="M1677.8 899.9L1680 903.2L1683.3 905.4L1680 907.6L1677.8 910.9L1675.6 907.6L1672.3 905.4L1675.6 903.2Z" fill="#800080"/>
<path d="M1685.7 906.1L1687.9 909.4L1691.2 911.6L1687.9 913.8L1685.7 917.1L1683.5 913.8L1680.2 911.6L1683.5 909.4Z" fill="#800080"/>
<path d="M1693.5 912.2L1695.7 915.5L1699 917.7L1695.7 919.9L1693.5 923.2L1691.3 919.9L1688 917.7L1691.3 915.5Z" fill="#800080"/>
<path d="M1701.3 916.1L1703.5 919.4L1706.8 921.6L1703.5 923.8L1701.3 927.1L1699.1 923.8L1695.8 921.6L1699.1 919.4Z" fill="#800080"/>
<path d="M1709.2 920L1711.4 923.3L1714.7 925.5L1711.4 927.7L1709.2 931L1707 927.7L1703.7 925.5L1707 923.3Z" fill="#800080"/>
<path d="M1717 925.4L1719.2 928.7L1722.5 930.9L1719.2 933.1L1717 936.4L1714.8 933.1L1711.5 930.9L1714.8 928.7Z" fill="#800080"/>
<path d="M1724.8 930.8L1727 934.1L1730.3 936.3L1727 938.5L1724.8 941.8L1722.6 938.5L1719.3 936.3L1722.6 934.1Z" fill="#800080"/>
<path d="M1732.7 934.6L1734.9 937.9L1738.2 940.1L1734.9 942.3L1732.7 945.6L1730.5 942.3L1727.2 940.1L1730.5 937.9Z" fill="#800080"/>
<path d="M1740.5 938.5L1742.7 941.8L1746 944L1742.7 946.2L1740.5 949.5L1738.3 946.2L1735 944L1738.3 941.8Z" fill="#800080"/>
<path d="M1748.3 945.4L1750.5 948.7L1753.8 950.9L1750.5 953.1L1748.3 956.4L1746.1 953.1L1742.8 950.9L1746.1 948.7Z" fill="#800080"/>
<path d="M1756.1 952.4L1758.3 955.7L1761.6 957.9L1758.3 960.1L1756.1 963.4L1753.9 960.1L1750.6 957.9L1753.9 955.7Z" fill="#800080"/>
<path d="M1764 954.7L1766.2 958L1769.5 960.2L1766.2 962.4L1764 965.7L1761.8 962.4L1758.5 960.2L1761.8 958Z" fill="#800080"/>
<path d="M1771.8 957L1774 960.3L1777.3 962.5L1774 964.7L1771.8 968L1769.6 964.7L1766.3 962.5L1769.6 960.3Z" fill="#800080"/>
<path d="M1811 983.3L1813.2 986.6L1816.5 988.8L1813.2 991L1811 994.3L1808.8 991L1805.5 988.8L1808.8 986.6Z" fill="#800080"/>
<path d="M1850.1 1011.1L1852.3 1014.4L1855.6 1016.6L1852.3 1018.8L1850.1 1022.1L1847.9 1018.8L1844.6 1016.6L1847.9 1014.4Z" fill="#800080"/>
<path d="M1928.4 1066.6L1930.6 1069.9L1933.9 1072.1L1930.6 1074.3L1928.4 1077.6L1926.2 1074.3L1922.9 1072.1L1926.2 1069.9Z" fill="#800080"/>
<path d="M2006.7 1151.6L2008.9 1154.9L2012.2 1157.1L2008.9 1159.3L2006.7 1162.6L2004.5 1159.3L2001.2 1157.1L2004.5 1154.9Z" fill="#800080"/>
</g>
<rect x="1602.4" y="842" width="424.9" height="363.8" fill="none" stroke="#808080" stroke-width="2.6"/>
<line x1="1615.2" y1="1205.8" x2="1615.2" y2="1212.3" stroke="#808080" stroke-width="2.2"/>
<text x="1615.2" y="1235.8" font-size="24" font-family="'DejaVu Sans', 'Liberation Sans', sans-serif" text-anchor="middle" fill="#303030" stroke="#303030" stroke-width="0.15">0</text>
<line x1="1693.5" y1="1205.8" x2="1693.5" y2="1212.3" stroke="#808080" stroke-width="2.2"/>
<text x="1693.5" y="1235.8" font-size="24" font-family="'DejaVu Sans', 'Liberation Sans', sans-serif" text-anchor="middle" fill="#303030" stroke="#303030" stroke-width="0.15">50</text>
<line x1="1771.8" y1="1205.8" x2="1771.8" y2="1212.3" stroke="#808080" stroke-width="2.2"/>
<text x="1771.8" y="1235.8" font-size="24" font-family="'DejaVu Sans', 'Liberation Sans', sans-serif" text-anchor="middle" fill="#303030" stroke="#303030" stroke-width="0.15">100</text>
<line x1="1850.1" y1="1205.8" x2="1850.1" y2="1212.3" stroke="#808080" stroke-width="2.2"/>
<text x="1850.1" y="1235.8" font-size="24" font-family="'DejaVu Sans', 'Liberation Sans', sans-serif" text-anchor="middle" fill="#303030" stroke="#303030" stroke-width="0.15">150</text>
<line x1="1928.4" y1="1205.8" x2="1928.4" y2="1212.3" stroke="#808080" stroke-width="2.2"/>
<text x="1928.4" y="1235.8" font-size="24" font-family="'DejaVu Sans', 'Liberation Sans', sans-serif" text-anchor="middle" fill="#303030" stroke="#303030" stroke-width="0.15">200</text>
<line x1="2006.7" y1="1205.8" x2="2006.7" y2="1212.3" stroke="#808080" stroke-width="2.2"/>
<text x="2006.7" y="1235.8" font-size="24" font-family="'DejaVu Sans', 'Liberation Sans', sans-serif" text-anchor="middle" fill="#303030" stroke="#303030" stroke-width="0.15">250</text>
<line x1="1595.9" y1="902.3" x2="1602.4" y2="902.3" stroke="#808080" stroke-width="2.2"/>
<text x="1590.9" y="910.9" font-size="24" font-family="'DejaVu Sans', 'Liberation Sans', sans-serif" text-anchor="end" fill="#303030" stroke="#303030" stroke-width="0.15">0.0</text>
<line x1="1595.9" y1="979.5" x2="1602.4" y2="979.5" stroke="#808080" stroke-width="2.2"/>
<text x="1590.9" y="988.1" font-size="24" font-family="'DejaVu Sans', 'Liberation Sans', sans-serif" text-anchor="end" fill="#303030" stroke="#303030" stroke-width="0.15">−0.5</text>
<line x1="1595.9" y1="1056.7" x2="1602.4" y2="1056.7" stroke="#808080" stroke-width="2.2"/>
<text x="1590.9" y="1065.3" font-size="24" font-family="'DejaVu Sans', 'Liberation Sans', sans-serif" text-anchor="end" fill="#303030" stroke="#303030" stroke-width="0.15">−1.0</text>
<line x1="1595.9" y1="1133.9" x2="1602.4" y2="1133.9" stroke="#808080" stroke-width="2.2"/>
<text x="1590.9" y="1142.5" font-size="24" font-family="'DejaVu Sans', 'Liberation Sans', sans-serif" text-anchor="end" fill="#303030" stroke="#303030" stroke-width="0.15">−1.5</text>
<line x1="1617.8" y1="1053.7" x2="1661.8" y2="1053.7" stroke="#1d7a2c" stroke-width="2.4" opacity="0.85"/>
<path d="M1638.4 1042.7V1064.7M1635.4 1042.7H1641.4M1635.4 1064.7H1641.4" stroke="#1d7a2c" stroke-width="1.3" opacity="0.8"/>
<circle cx="1638.4" cy="1053.7" r="4.8" fill="#1d7a2c"/>
<text x="1679" y="1062.7" font-size="23" font-family="'DejaVu Sans', 'Liberation Sans', sans-serif" text-anchor="start" fill="#262626" textLength="55" lengthAdjust="spacingAndGlyphs">BULK</text>
<line x1="1617.8" y1="1085.2" x2="1661.8" y2="1085.2" stroke="#777777" stroke-width="2.4" opacity="0.85"/>
<path d="M1638.4 1074.2V1096.2M1635.4 1074.2H1641.4M1635.4 1096.2H1641.4" stroke="#000000" stroke-width="1.3" opacity="0.8"/>
<rect x="1632.8" y="1079.6" width="11.2" height="11.2" fill="#000000"/>
<text x="1679" y="1094.2" font-size="23" font-family="'DejaVu Sans', 'Liberation Sans', sans-serif" text-anchor="start" fill="#262626" textLength="79" lengthAdjust="spacingAndGlyphs">7.3 nm</text>
<line x1="1617.8" y1="1117.5" x2="1661.8" y2="1117.5" stroke="#999999" stroke-width="2.4" opacity="0.85"/>
<path d="M1638.4 1106.5V1128.5M1635.4 1106.5H1641.4M1635.4 1128.5H1641.4" stroke="#999999" stroke-width="1.3" opacity="0.8"/>
<polygon points="1638.4,1111.7 1632.6,1122.1 1644.2,1122.1" fill="#999999"/>
<text x="1679" y="1126.5" font-size="23" font-family="'DejaVu Sans', 'Liberation Sans', sans-serif" text-anchor="start" fill="#262626" textLength="79" lengthAdjust="spacingAndGlyphs">7.9 nm</text>
<line x1="1617.8" y1="1147" x2="1661.8" y2="1147" stroke="#ffa500" stroke-width="2.4" opacity="0.85"/>
<path d="M1638.4 1136V1158M1635.4 1136H1641.4M1635.4 1158H1641.4" stroke="#ffa500" stroke-width="1.3" opacity="0.8"/>
<path d="M1633.9 1142.5L1642.9 1151.5M1633.9 1151.5L1642.9 1142.5" stroke="#ffa500" stroke-width="2.6" fill="none"/>
<text x="1679" y="1156" font-size="23" font-family="'DejaVu Sans', 'Liberation Sans', sans-serif" text-anchor="start" fill="#262626" textLength="86" lengthAdjust="spacingAndGlyphs">14.1 nm</text>
<line x1="1617.8" y1="1179.3" x2="1661.8" y2="1179.3" stroke="#800080" stroke-width="2.4" opacity="0.85"/>
<path d="M1638.4 1168.3V1190.3M1635.4 1168.3H1641.4M1635.4 1190.3H1641.4" stroke="#800080" stroke-width="1.3" opacity="0.8"/>
<path d="M1638.4 1173.8L1640.6 1177.1L1643.9 1179.3L1640.6 1181.5L1638.4 1184.8L1636.2 1181.5L1632.9 1179.3L1636.2 1177.1Z" fill="#800080"/>
<text x="1679" y="1188.3" font-size="23" font-family="'DejaVu Sans', 'Liberation Sans', sans-serif" text-anchor="start" fill="#262626" textLength="86" lengthAdjust="spacingAndGlyphs">17.4 nm</text>
<text x="944.4" y="1287" font-size="27" font-family="'DejaVu Sans', 'Liberation Sans', sans-serif" text-anchor="start" fill="#1a1a1a" textLength="237" lengthAdjust="spacingAndGlyphs">Temperature (K)</text>
<text transform="translate(27,1149) rotate(-90)" font-size="24" font-family="'DejaVu Sans', 'Liberation Sans', sans-serif" fill="#1a1a1a" textLength="247" lengthAdjust="spacingAndGlyphs">Δ Peak Pos. (cm<tspan font-size="15" dy="-10">−1</tspan><tspan dy="10">)</tspan></text>
</g>
<text x="266.6" y="111" font-size="33" font-family="'Liberation Sans', 'DejaVu Sans', sans-serif" fill="#1a1a1a">P1: E<tspan font-size="20" dy="4">g</tspan><tspan font-size="19" dy="-25" dx="-1">(1)</tspan></text>
<text x="544.7" y="111" font-size="33" font-family="'Liberation Sans', 'DejaVu Sans', sans-serif" fill="#1a1a1a">P2: E<tspan font-size="20" dy="4">g</tspan><tspan font-size="19" dy="-25" dx="-1">(2)</tspan></text>
<text x="921.7" y="78.7" font-size="33" font-family="'Liberation Sans', 'DejaVu Sans', sans-serif" fill="#1a1a1a">P4: A<tspan font-size="20" dy="4">g</tspan><tspan font-size="19" dy="-25" dx="-1">(2)</tspan></text>
<text x="1080.7" y="116.4" font-size="33" font-family="'Liberation Sans', 'DejaVu Sans', sans-serif" fill="#1a1a1a">P5: E<tspan font-size="20" dy="4">g</tspan><tspan font-size="19" dy="-25" dx="-1">(3)</tspan></text>
<text x="1261" y="104" font-size="33" font-family="'Liberation Sans', 'DejaVu Sans', sans-serif" fill="#1a1a1a">P6: E<tspan font-size="20" dy="4">g</tspan><tspan font-size="19" dy="-25" dx="-1">(4)</tspan></text>
<text x="1721.8" y="78.4" font-size="33" font-family="'Liberation Sans', 'DejaVu Sans', sans-serif" fill="#1a1a1a">P7: A<tspan font-size="20" dy="4">g</tspan><tspan font-size="19" dy="-25" dx="-1">(4)</tspan></text>
<text x="1158.7" y="220.4" font-size="33" font-family="'Liberation Sans', 'DejaVu Sans', sans-serif" fill="#1a1a1a">A<tspan font-size="20" dy="4">g</tspan><tspan font-size="19" dy="-25" dx="-1">(3)</tspan></text>
<text x="1173.8" y="256" font-size="22" font-family="'Liberation Sans', 'DejaVu Sans', sans-serif" text-anchor="middle" fill="#1a1a1a" >*</text>
<text x="733.2" y="298.3" font-size="33" font-family="'Liberation Sans', 'DejaVu Sans', sans-serif" text-anchor="start" fill="#1a1a1a" >P3: 2M</text>
<text x="1925.6" y="71.6" font-size="33" font-family="'Liberation Sans', 'DejaVu Sans', sans-serif" text-anchor="start" fill="#1a1a1a" >14 nm</text>
<text x="880" y="121.7" font-size="33" font-family="'Liberation Sans', 'DejaVu Sans', sans-serif" text-anchor="start" fill="#e3202a" >x50</text>
<text x="880.3" y="298.3" font-size="33" font-family="'Liberation Sans', 'DejaVu Sans', sans-serif" text-anchor="start" fill="#2b469e" >x50</text>
<text x="1558" y="134" font-size="33" font-family="'Liberation Sans', 'DejaVu Sans', sans-serif" text-anchor="start" fill="#e3202a" >x20</text>
<text x="1984.4" y="134" font-size="33" font-family="'Liberation Sans', 'DejaVu Sans', sans-serif" text-anchor="start" fill="#e3202a" >x5</text>
<text x="1574.3" y="256.8" font-size="33" font-family="'Liberation Sans', 'DejaVu Sans', sans-serif" text-anchor="start" fill="#2b469e" >x5</text>
<text x="1984.4" y="256.8" font-size="33" font-family="'Liberation Sans', 'DejaVu Sans', sans-serif" text-anchor="start" fill="#2b469e" >x1</text>
<text x="0" y="32.5" font-size="38" font-family="'Liberation Sans', 'DejaVu Sans', sans-serif" text-anchor="start" fill="#111" >a)</text>
<text x="80" y="521.6" font-size="23" font-family="'Liberation Sans', 'DejaVu Sans', sans-serif" text-anchor="start" fill="#c8103c" textLength="35" lengthAdjust="spacing">x 5</text>
<text x="82.2" y="433" font-size="40" font-family="'Liberation Sans', 'DejaVu Sans', sans-serif" text-anchor="start" fill="#111" textLength="31" lengthAdjust="spacingAndGlyphs">b)</text>
<text x="489.6" y="431" font-size="33" font-family="'Liberation Sans', 'DejaVu Sans', sans-serif" text-anchor="end" fill="#111" >P4</text>
<text x="597" y="525" font-size="23" font-family="'Liberation Sans', 'DejaVu Sans', sans-serif" text-anchor="start" fill="#c8103c" textLength="35" lengthAdjust="spacing">x 5</text>
<text x="585.4" y="433" font-size="40" font-family="'Liberation Sans', 'DejaVu Sans', sans-serif" text-anchor="start" fill="#111" textLength="31" lengthAdjust="spacingAndGlyphs">c)</text>
<text x="996.3" y="431" font-size="33" font-family="'Liberation Sans', 'DejaVu Sans', sans-serif" text-anchor="end" fill="#111" >P5</text>
<text x="1101" y="534" font-size="23" font-family="'Liberation Sans', 'DejaVu Sans', sans-serif" text-anchor="start" fill="#c8103c" textLength="35" lengthAdjust="spacing">x 5</text>
<text x="1085.8" y="433" font-size="40" font-family="'Liberation Sans', 'DejaVu Sans', sans-serif" text-anchor="start" fill="#111" textLength="31" lengthAdjust="spacingAndGlyphs">d)</text>
<text x="1498.5" y="431" font-size="33" font-family="'Liberation Sans', 'DejaVu Sans', sans-serif" text-anchor="end" fill="#111" >P6</text>
<text x="1600" y="543" font-size="23" font-family="'Liberation Sans', 'DejaVu Sans', sans-serif" text-anchor="start" fill="#c8103c" textLength="35" lengthAdjust="spacing">x 5</text>
<text x="1590.7" y="433" font-size="40" font-family="'Liberation Sans', 'DejaVu Sans', sans-serif" text-anchor="start" fill="#111" textLength="31" lengthAdjust="spacingAndGlyphs">e)</text>
<text x="1994.5" y="431" font-size="33" font-family="'Liberation Sans', 'DejaVu Sans', sans-serif" text-anchor="end" fill="#111" >P7</text>
<text x="122.1" y="891" font-size="40" font-family="'Liberation Sans', 'DejaVu Sans', sans-serif" text-anchor="start" fill="#111" textLength="30" lengthAdjust="spacingAndGlyphs">f)</text>
<text x="512.2" y="887.7" font-size="33" font-family="'Liberation Sans', 'DejaVu Sans', sans-serif" text-anchor="end" fill="#111" >P4</text>
<text x="627.3" y="891" font-size="40" font-family="'Liberation Sans', 'DejaVu Sans', sans-serif" text-anchor="start" fill="#111" textLength="30" lengthAdjust="spacingAndGlyphs">g)</text>
<text x="1014.7" y="887.7" font-size="33" font-family="'Liberation Sans', 'DejaVu Sans', sans-serif" text-anchor="end" fill="#111" >P5</text>
<text x="1129.4" y="891" font-size="40" font-family="'Liberation Sans', 'DejaVu Sans', sans-serif" text-anchor="start" fill="#111" textLength="30" lengthAdjust="spacingAndGlyphs">h)</text>
<text x="1512.2" y="887.7" font-size="33" font-family="'Liberation Sans', 'DejaVu Sans', sans-serif" text-anchor="end" fill="#111" >P6</text>
<text x="2005.3" y="887.7" font-size="33" font-family="'Liberation Sans', 'DejaVu Sans', sans-serif" text-anchor="end" fill="#111" >P7</text>
<text x="1575" y="851" font-size="40" font-family="'Liberation Sans', 'DejaVu Sans', sans-serif" text-anchor="start" fill="#111" textLength="20" lengthAdjust="spacingAndGlyphs">i)</text>
</svg>
</body></html>
